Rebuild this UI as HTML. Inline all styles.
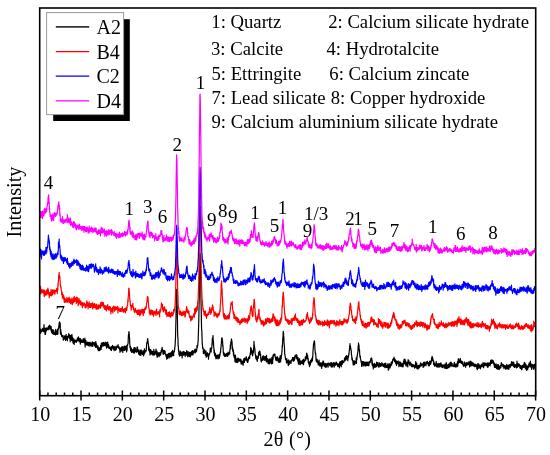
<!DOCTYPE html><html><head><meta charset="utf-8"><style>html,body{margin:0;padding:0;background:#fff;width:550px;height:455px;overflow:hidden}text{font-family:"Liberation Serif",serif;fill:#000}</style></head><body><svg width="550" height="455" viewBox="0 0 550 455" font-family="Liberation Serif" style="position:absolute;left:0;top:0;will-change:transform"><path d="M40.0 332.4L40.2 333.2L40.3 332.2L40.5 329.2L40.7 333.1L40.8 332.1L41.0 330.2L41.2 332.1L41.3 331.6L41.5 331.3L41.7 330.7L41.8 331.5L42.0 329.0L42.1 329.9L42.3 329.1L42.5 330.9L42.6 329.8L42.8 329.1L43.0 328.1L43.1 329.0L43.3 329.4L43.5 328.9L43.6 331.7L43.8 331.3L44.0 324.7L44.1 326.3L44.3 329.5L44.5 329.2L44.6 330.5L44.8 330.6L45.0 334.2L45.1 328.6L45.3 330.0L45.5 334.4L45.6 332.0L45.8 332.0L45.9 329.9L46.1 327.8L46.3 330.9L46.4 330.7L46.6 328.1L46.8 328.9L46.9 329.8L47.1 328.0L47.3 329.3L47.4 329.4L47.6 329.0L47.8 327.9L47.9 329.6L48.1 329.9L48.3 328.8L48.4 326.6L48.6 329.2L48.8 326.9L48.9 329.2L49.1 325.7L49.3 329.1L49.4 327.4L49.6 325.2L49.7 326.8L49.9 327.5L50.1 327.9L50.2 326.0L50.4 326.0L50.6 328.6L50.7 327.8L50.9 329.3L51.1 330.6L51.2 326.7L51.4 330.4L51.6 332.5L51.7 330.2L51.9 329.6L52.1 332.7L52.2 332.1L52.4 333.5L52.6 331.6L52.7 329.8L52.9 332.3L53.1 331.9L53.2 334.1L53.4 333.1L53.5 330.0L53.7 330.8L53.9 334.4L54.0 334.0L54.2 331.8L54.4 332.9L54.5 333.7L54.7 333.8L54.9 334.5L55.0 333.5L55.2 332.9L55.4 332.7L55.5 335.0L55.7 329.4L55.9 332.9L56.0 333.2L56.2 330.6L56.4 333.6L56.5 331.8L56.7 334.3L56.9 332.5L57.0 333.7L57.2 334.5L57.3 332.8L57.5 330.4L57.7 329.0L57.8 334.1L58.0 330.4L58.2 328.8L58.3 329.4L58.5 327.9L58.7 328.7L58.8 326.2L59.0 325.1L59.2 323.0L59.3 324.4L59.5 321.8L59.7 325.0L59.8 327.3L60.0 323.3L60.2 323.0L60.3 329.6L60.5 334.1L60.7 329.3L60.8 330.0L61.0 334.0L61.1 332.3L61.3 333.6L61.5 334.4L61.6 336.3L61.8 335.2L62.0 336.7L62.1 336.2L62.3 335.3L62.5 336.4L62.6 335.6L62.8 337.3L63.0 335.6L63.1 335.7L63.3 340.1L63.5 337.6L63.6 337.6L63.8 338.6L64.0 337.1L64.1 337.4L64.3 338.4L64.5 338.2L64.6 335.8L64.8 339.1L64.9 336.7L65.1 336.0L65.3 336.2L65.4 337.1L65.6 340.4L65.8 335.8L65.9 338.1L66.1 334.3L66.3 337.8L66.4 339.3L66.6 337.4L66.8 336.7L66.9 338.1L67.1 338.8L67.3 338.6L67.4 340.6L67.6 337.6L67.8 336.1L67.9 336.7L68.1 336.7L68.3 336.8L68.4 336.4L68.6 336.7L68.7 333.6L68.9 337.6L69.1 335.3L69.2 334.4L69.4 337.4L69.6 338.6L69.7 337.4L69.9 337.0L70.1 335.4L70.2 341.8L70.4 338.7L70.6 335.6L70.7 336.4L70.9 338.0L71.1 335.5L71.2 338.5L71.4 337.6L71.6 340.5L71.7 340.2L71.9 334.4L72.1 339.0L72.2 336.5L72.4 341.0L72.5 339.7L72.7 340.5L72.9 338.0L73.0 342.9L73.2 343.4L73.4 338.6L73.5 341.2L73.7 339.7L73.9 341.0L74.0 339.2L74.2 344.4L74.4 340.0L74.5 341.3L74.7 342.7L74.9 340.9L75.0 341.6L75.2 341.1L75.4 341.8L75.5 340.1L75.7 341.2L75.9 341.5L76.0 341.1L76.2 341.6L76.3 340.9L76.5 342.3L76.7 340.4L76.8 340.5L77.0 339.5L77.2 339.5L77.3 338.2L77.5 340.9L77.7 338.2L77.8 338.7L78.0 340.5L78.2 340.5L78.3 339.3L78.5 336.8L78.7 340.8L78.8 340.6L79.0 338.1L79.2 341.7L79.3 339.5L79.5 338.9L79.7 341.0L79.8 340.7L80.0 341.4L80.1 338.6L80.3 344.1L80.5 340.3L80.6 338.9L80.8 342.3L81.0 340.8L81.1 341.9L81.3 340.8L81.5 341.3L81.6 341.8L81.8 340.2L82.0 342.4L82.1 340.6L82.3 340.0L82.5 341.5L82.6 342.0L82.8 341.0L83.0 340.0L83.1 342.3L83.3 338.6L83.5 339.7L83.6 341.5L83.8 339.3L83.9 341.5L84.1 341.4L84.3 343.0L84.4 340.2L84.6 340.8L84.8 342.4L84.9 338.2L85.1 347.1L85.3 341.3L85.4 341.4L85.6 344.1L85.8 342.9L85.9 340.4L86.1 344.4L86.3 344.9L86.4 343.1L86.6 343.5L86.8 344.8L86.9 342.7L87.1 344.9L87.3 344.6L87.4 343.2L87.6 342.0L87.7 343.8L87.9 342.7L88.1 345.5L88.2 344.1L88.4 345.0L88.6 343.9L88.7 344.0L88.9 342.3L89.1 344.5L89.2 346.2L89.4 342.9L89.6 342.4L89.7 343.1L89.9 342.6L90.1 342.3L90.2 343.7L90.4 343.0L90.6 345.8L90.7 343.6L90.9 344.2L91.1 345.2L91.2 343.4L91.4 346.1L91.5 343.0L91.7 342.8L91.9 343.6L92.0 344.0L92.2 342.1L92.4 344.3L92.5 341.8L92.7 346.5L92.9 344.3L93.0 343.4L93.2 343.0L93.4 343.8L93.5 344.0L93.7 342.7L93.9 342.8L94.0 343.9L94.2 343.4L94.4 345.7L94.5 346.0L94.7 344.3L94.9 345.1L95.0 342.4L95.2 345.5L95.3 344.6L95.5 345.6L95.7 347.4L95.8 341.6L96.0 345.7L96.2 343.8L96.3 346.6L96.5 343.9L96.7 345.4L96.8 346.8L97.0 347.6L97.2 347.1L97.3 346.1L97.5 346.7L97.7 349.2L97.8 348.1L98.0 345.9L98.2 350.0L98.3 349.6L98.5 350.5L98.7 348.8L98.8 350.7L99.0 347.9L99.1 350.4L99.3 348.7L99.5 350.4L99.6 350.7L99.8 347.8L100.0 348.6L100.1 348.5L100.3 349.9L100.5 348.8L100.6 345.5L100.8 347.7L101.0 347.7L101.1 349.5L101.3 343.4L101.5 344.8L101.6 347.3L101.8 342.9L102.0 342.9L102.1 345.3L102.3 345.9L102.5 343.1L102.6 344.8L102.8 344.1L102.9 346.2L103.1 343.8L103.3 345.3L103.4 342.4L103.6 343.6L103.8 343.8L103.9 345.7L104.1 345.0L104.3 343.1L104.4 345.3L104.6 345.6L104.8 344.4L104.9 344.2L105.1 344.4L105.3 342.2L105.4 345.2L105.6 345.3L105.8 343.7L105.9 346.1L106.1 343.0L106.3 344.2L106.4 344.4L106.6 348.1L106.7 342.7L106.9 346.0L107.1 346.6L107.2 345.8L107.4 347.1L107.6 343.9L107.7 342.1L107.9 346.8L108.1 344.0L108.2 345.5L108.4 344.4L108.6 347.9L108.7 347.8L108.9 345.6L109.1 348.3L109.2 347.3L109.4 347.1L109.6 347.5L109.7 347.3L109.9 348.7L110.1 348.3L110.2 347.4L110.4 349.5L110.5 347.1L110.7 348.4L110.9 348.6L111.0 350.1L111.2 347.1L111.4 350.4L111.5 347.9L111.7 347.3L111.9 346.4L112.0 348.2L112.2 347.4L112.4 345.6L112.5 345.5L112.7 346.3L112.9 346.1L113.0 348.8L113.2 349.3L113.4 348.6L113.5 347.9L113.7 346.7L113.9 347.5L114.0 348.8L114.2 350.7L114.3 349.0L114.5 347.2L114.7 347.7L114.8 346.9L115.0 346.4L115.2 347.2L115.3 347.7L115.5 350.1L115.7 347.3L115.8 349.2L116.0 349.7L116.2 347.1L116.3 349.3L116.5 347.8L116.7 346.1L116.8 347.1L117.0 346.7L117.2 346.3L117.3 346.4L117.5 346.9L117.7 347.4L117.8 345.5L118.0 346.9L118.1 344.7L118.3 347.5L118.5 348.1L118.6 347.6L118.8 347.9L119.0 348.5L119.1 346.8L119.3 347.6L119.5 348.8L119.6 349.7L119.8 349.0L120.0 352.3L120.1 348.5L120.3 350.3L120.5 350.8L120.6 348.9L120.8 348.0L121.0 347.6L121.1 349.6L121.3 351.1L121.5 349.9L121.6 349.8L121.8 349.0L121.9 350.4L122.1 346.4L122.3 349.9L122.4 349.5L122.6 347.4L122.8 352.5L122.9 347.1L123.1 347.4L123.3 347.1L123.4 350.4L123.6 347.3L123.8 349.5L123.9 349.2L124.1 348.6L124.3 346.2L124.4 347.2L124.6 350.5L124.8 346.1L124.9 346.8L125.1 347.7L125.3 349.2L125.4 348.4L125.6 349.1L125.8 346.5L125.9 349.6L126.1 349.1L126.2 345.9L126.4 350.6L126.6 351.8L126.7 347.3L126.9 348.5L127.1 350.3L127.2 345.9L127.4 344.7L127.6 345.1L127.7 345.2L127.9 343.8L128.1 343.5L128.2 340.5L128.4 335.2L128.6 334.6L128.7 333.9L128.9 331.7L129.1 332.3L129.2 333.3L129.4 337.9L129.6 338.1L129.7 343.3L129.9 344.2L130.0 347.6L130.2 347.8L130.4 346.4L130.5 348.9L130.7 351.0L130.9 347.9L131.0 349.0L131.2 349.0L131.4 348.1L131.5 351.8L131.7 352.5L131.9 351.8L132.0 351.0L132.2 350.6L132.4 351.0L132.5 349.6L132.7 351.9L132.9 352.1L133.0 351.9L133.2 349.7L133.4 350.6L133.5 350.2L133.7 353.0L133.8 350.7L134.0 347.7L134.2 351.0L134.3 353.2L134.5 351.5L134.7 351.8L134.8 350.6L135.0 347.7L135.2 347.9L135.3 348.8L135.5 350.4L135.7 351.0L135.8 351.6L136.0 350.1L136.2 352.1L136.3 350.3L136.5 349.8L136.7 352.2L136.8 349.7L137.0 347.2L137.2 349.8L137.3 351.6L137.5 347.1L137.6 351.2L137.8 351.4L138.0 349.9L138.1 349.9L138.3 351.5L138.5 351.4L138.6 354.1L138.8 352.8L139.0 349.9L139.1 351.0L139.3 353.3L139.5 355.0L139.6 352.8L139.8 352.7L140.0 355.0L140.1 352.2L140.3 351.8L140.5 350.2L140.6 351.5L140.8 355.4L141.0 350.1L141.1 352.2L141.3 350.1L141.4 352.4L141.6 353.5L141.8 351.8L141.9 353.2L142.1 353.2L142.3 352.8L142.4 354.6L142.6 353.2L142.8 351.6L142.9 351.0L143.1 350.7L143.3 352.6L143.4 351.4L143.6 355.8L143.8 354.4L143.9 351.4L144.1 351.2L144.3 354.0L144.4 348.8L144.6 350.8L144.8 352.8L144.9 350.0L145.1 350.6L145.2 350.7L145.4 352.0L145.6 351.1L145.7 351.3L145.9 351.2L146.1 350.0L146.2 350.9L146.4 347.4L146.6 345.3L146.7 343.6L146.9 342.3L147.1 342.3L147.2 343.0L147.4 340.5L147.6 338.9L147.7 338.5L147.9 340.3L148.1 342.0L148.2 343.5L148.4 343.9L148.6 346.8L148.7 350.2L148.9 346.6L149.0 350.2L149.2 348.0L149.4 351.8L149.5 350.8L149.7 349.0L149.9 352.4L150.0 355.0L150.2 352.6L150.4 354.2L150.5 352.4L150.7 349.5L150.9 353.4L151.0 352.1L151.2 350.6L151.4 353.9L151.5 353.2L151.7 352.0L151.9 354.1L152.0 351.6L152.2 353.8L152.4 351.5L152.5 353.7L152.7 351.3L152.8 355.1L153.0 353.3L153.2 355.1L153.3 351.9L153.5 352.4L153.7 354.4L153.8 349.3L154.0 351.8L154.2 354.9L154.3 354.1L154.5 354.9L154.7 353.2L154.8 354.5L155.0 352.7L155.2 351.9L155.3 351.5L155.5 353.2L155.7 353.3L155.8 353.3L156.0 349.1L156.2 351.4L156.3 353.6L156.5 354.8L156.6 353.6L156.8 353.1L157.0 351.1L157.1 357.3L157.3 352.8L157.5 356.8L157.6 356.6L157.8 354.7L158.0 353.5L158.1 354.5L158.3 352.6L158.5 354.6L158.6 354.2L158.8 354.9L159.0 355.5L159.1 356.6L159.3 353.5L159.5 355.5L159.6 352.8L159.8 352.7L160.0 353.0L160.1 352.4L160.3 355.2L160.4 354.9L160.6 355.3L160.8 353.2L160.9 353.3L161.1 351.6L161.3 350.3L161.4 352.1L161.6 351.2L161.8 348.7L161.9 350.8L162.1 347.3L162.3 349.7L162.4 349.5L162.6 350.2L162.8 350.0L162.9 353.4L163.1 353.2L163.3 354.4L163.4 352.9L163.6 350.8L163.8 352.0L163.9 350.5L164.1 352.5L164.2 353.3L164.4 351.9L164.6 350.7L164.7 351.4L164.9 352.8L165.1 351.0L165.2 353.9L165.4 354.6L165.6 354.0L165.7 354.6L165.9 355.8L166.1 354.7L166.2 354.9L166.4 357.4L166.6 356.8L166.7 359.1L166.9 355.4L167.1 354.3L167.2 358.3L167.4 358.4L167.6 356.0L167.7 355.0L167.9 357.0L168.0 354.5L168.2 356.4L168.4 353.6L168.5 356.3L168.7 353.4L168.9 355.9L169.0 358.2L169.2 355.5L169.4 356.8L169.5 354.6L169.7 354.1L169.9 353.0L170.0 356.5L170.2 354.8L170.4 357.0L170.5 352.9L170.7 354.2L170.9 354.5L171.0 356.4L171.2 356.9L171.4 353.3L171.5 352.6L171.7 351.7L171.8 356.1L172.0 354.0L172.2 353.2L172.3 354.1L172.5 350.4L172.7 351.6L172.8 355.3L173.0 354.4L173.2 353.9L173.3 352.1L173.5 354.2L173.7 355.6L173.8 351.0L174.0 352.3L174.2 351.2L174.3 351.7L174.5 350.5L174.7 349.3L174.8 347.0L175.0 346.6L175.2 343.6L175.3 341.3L175.5 337.4L175.6 333.3L175.8 325.1L176.0 317.6L176.1 310.7L176.3 299.8L176.5 292.0L176.6 289.4L176.8 289.5L177.0 294.9L177.1 303.8L177.3 311.2L177.5 322.6L177.6 331.7L177.8 337.0L178.0 338.9L178.1 345.3L178.3 346.4L178.5 349.4L178.6 351.4L178.8 350.5L179.0 354.8L179.1 353.3L179.3 354.9L179.4 354.9L179.6 356.1L179.8 355.9L179.9 352.1L180.1 354.2L180.3 351.0L180.4 353.3L180.6 354.8L180.8 355.0L180.9 355.4L181.1 352.8L181.3 353.7L181.4 353.2L181.6 354.7L181.8 355.1L181.9 352.2L182.1 358.0L182.3 352.5L182.4 352.0L182.6 353.3L182.8 353.5L182.9 353.3L183.1 351.6L183.2 354.8L183.4 352.9L183.6 355.2L183.7 355.1L183.9 351.5L184.1 352.1L184.2 352.3L184.4 354.3L184.6 354.2L184.7 354.6L184.9 353.2L185.1 355.0L185.2 356.4L185.4 352.4L185.6 353.8L185.7 354.2L185.9 353.3L186.1 352.8L186.2 355.2L186.4 354.0L186.6 353.1L186.7 350.7L186.9 355.0L187.0 352.7L187.2 351.7L187.4 352.5L187.5 352.7L187.7 356.8L187.9 354.4L188.0 354.4L188.2 351.5L188.4 355.8L188.5 353.4L188.7 353.3L188.9 355.9L189.0 353.8L189.2 356.2L189.4 356.6L189.5 352.4L189.7 354.7L189.9 352.6L190.0 354.6L190.2 355.9L190.4 352.5L190.5 356.8L190.7 353.7L190.8 352.3L191.0 353.6L191.2 354.8L191.3 351.6L191.5 353.4L191.7 351.3L191.8 354.8L192.0 353.1L192.2 352.2L192.3 354.1L192.5 350.7L192.7 351.9L192.8 354.9L193.0 352.1L193.2 354.1L193.3 352.4L193.5 351.1L193.7 351.7L193.8 352.2L194.0 351.5L194.2 350.9L194.3 350.9L194.5 349.9L194.6 352.2L194.8 352.5L195.0 352.9L195.1 349.2L195.3 352.8L195.5 351.5L195.6 349.3L195.8 351.3L196.0 352.0L196.1 351.3L196.3 351.3L196.5 351.3L196.6 350.8L196.8 349.1L197.0 345.7L197.1 346.9L197.3 347.8L197.5 345.7L197.6 346.2L197.8 344.8L198.0 341.9L198.1 342.0L198.3 334.8L198.4 333.5L198.6 326.5L198.8 319.8L198.9 314.2L199.1 303.7L199.3 295.9L199.4 282.3L199.6 273.2L199.8 262.4L199.9 256.4L200.1 253.7L200.3 255.0L200.4 264.1L200.6 270.9L200.8 281.9L200.9 295.2L201.1 305.3L201.3 313.7L201.4 320.8L201.6 329.8L201.8 330.1L201.9 334.9L202.1 337.9L202.2 343.2L202.4 344.5L202.6 347.3L202.7 348.5L202.9 347.9L203.1 347.9L203.2 348.5L203.4 353.6L203.6 352.4L203.7 352.3L203.9 351.4L204.1 352.0L204.2 352.1L204.4 352.4L204.6 349.7L204.7 353.2L204.9 353.0L205.1 354.1L205.2 354.2L205.4 355.2L205.6 354.1L205.7 355.4L205.9 350.8L206.0 353.0L206.2 357.1L206.4 353.1L206.5 354.5L206.7 356.0L206.9 353.9L207.0 356.3L207.2 353.3L207.4 352.7L207.5 353.6L207.7 353.3L207.9 355.6L208.0 355.2L208.2 356.2L208.4 354.2L208.5 359.2L208.7 355.4L208.9 355.3L209.0 355.7L209.2 354.3L209.4 353.3L209.5 353.7L209.7 354.0L209.8 352.8L210.0 352.2L210.2 349.1L210.3 348.2L210.5 351.8L210.7 348.8L210.8 350.1L211.0 350.7L211.2 351.9L211.3 347.9L211.5 348.9L211.7 348.3L211.8 347.5L212.0 343.2L212.2 344.7L212.3 338.5L212.5 340.7L212.7 339.0L212.8 337.9L213.0 335.6L213.2 340.3L213.3 340.3L213.5 342.4L213.6 345.3L213.8 347.6L214.0 350.8L214.1 353.1L214.3 349.9L214.5 352.9L214.6 355.5L214.8 354.9L215.0 355.7L215.1 353.1L215.3 356.8L215.5 353.5L215.6 356.1L215.8 357.9L216.0 358.8L216.1 357.0L216.3 357.6L216.5 355.6L216.6 355.9L216.8 358.3L217.0 356.7L217.1 356.6L217.3 354.8L217.4 357.0L217.6 357.7L217.8 355.7L217.9 356.0L218.1 358.9L218.3 356.9L218.4 356.1L218.6 354.8L218.8 355.4L218.9 355.8L219.1 357.9L219.3 355.0L219.4 358.1L219.6 354.0L219.8 354.5L219.9 355.8L220.1 353.7L220.3 352.2L220.4 352.4L220.6 352.1L220.8 347.7L220.9 348.2L221.1 346.6L221.2 344.1L221.4 343.6L221.6 339.6L221.7 338.2L221.9 337.8L222.1 338.7L222.2 338.2L222.4 342.3L222.6 340.9L222.7 346.1L222.9 345.1L223.1 348.0L223.2 350.3L223.4 354.0L223.6 353.4L223.7 352.4L223.9 355.5L224.1 353.8L224.2 353.4L224.4 355.4L224.6 355.1L224.7 356.4L224.9 354.4L225.0 355.7L225.2 356.1L225.4 355.6L225.5 355.2L225.7 354.2L225.9 356.4L226.0 355.3L226.2 355.7L226.4 354.4L226.5 354.9L226.7 353.3L226.9 354.8L227.0 355.7L227.2 354.7L227.4 355.7L227.5 354.9L227.7 356.3L227.9 354.1L228.0 352.0L228.2 354.8L228.4 353.9L228.5 352.7L228.7 354.8L228.8 354.1L229.0 354.1L229.2 352.6L229.3 352.9L229.5 352.5L229.7 354.0L229.8 349.7L230.0 349.8L230.2 349.3L230.3 345.3L230.5 344.3L230.7 348.5L230.8 341.8L231.0 344.0L231.2 341.2L231.3 340.8L231.5 338.9L231.7 340.6L231.8 343.5L232.0 341.3L232.2 345.2L232.3 346.0L232.5 349.6L232.6 347.3L232.8 350.9L233.0 351.5L233.1 350.9L233.3 349.9L233.5 355.2L233.6 351.9L233.8 353.9L234.0 356.4L234.1 357.3L234.3 355.1L234.5 356.7L234.6 356.9L234.8 359.3L235.0 361.6L235.1 355.8L235.3 360.0L235.5 355.0L235.6 359.3L235.8 357.9L236.0 362.5L236.1 360.1L236.3 358.9L236.4 359.4L236.6 359.4L236.8 360.5L236.9 360.1L237.1 361.3L237.3 362.6L237.4 361.4L237.6 358.7L237.8 358.1L237.9 359.4L238.1 361.9L238.3 359.9L238.4 359.4L238.6 360.5L238.8 358.3L238.9 358.7L239.1 361.0L239.3 359.9L239.4 359.7L239.6 360.8L239.8 359.6L239.9 359.5L240.1 359.9L240.2 361.5L240.4 360.8L240.6 359.2L240.7 360.5L240.9 362.0L241.1 363.9L241.2 359.8L241.4 362.0L241.6 361.3L241.7 362.9L241.9 362.5L242.1 364.0L242.2 362.8L242.4 361.3L242.6 361.3L242.7 362.6L242.9 362.6L243.1 365.3L243.2 364.1L243.4 360.0L243.6 361.9L243.7 359.3L243.9 358.7L244.0 361.8L244.2 361.3L244.4 358.8L244.5 362.4L244.7 358.5L244.9 358.1L245.0 360.5L245.2 359.8L245.4 359.2L245.5 359.3L245.7 359.6L245.9 359.1L246.0 359.1L246.2 356.7L246.4 357.5L246.5 360.3L246.7 358.5L246.9 360.3L247.0 361.3L247.2 359.1L247.4 360.0L247.5 362.5L247.7 360.6L247.8 362.2L248.0 361.7L248.2 360.4L248.3 359.0L248.5 357.7L248.7 357.1L248.8 359.1L249.0 358.7L249.2 357.6L249.3 358.7L249.5 356.3L249.7 358.2L249.8 356.0L250.0 355.0L250.2 353.9L250.3 352.5L250.5 354.6L250.7 347.4L250.8 348.8L251.0 349.7L251.2 349.2L251.3 348.6L251.5 352.6L251.6 349.9L251.8 350.7L252.0 354.2L252.1 352.0L252.3 351.1L252.5 355.8L252.6 355.6L252.8 355.2L253.0 352.9L253.1 353.0L253.3 350.1L253.5 352.3L253.6 349.1L253.8 347.0L254.0 341.4L254.1 344.2L254.3 345.3L254.5 346.3L254.6 347.7L254.8 348.7L255.0 350.2L255.1 353.3L255.3 354.3L255.4 355.2L255.6 355.3L255.8 358.7L255.9 355.1L256.1 357.1L256.3 356.6L256.4 359.1L256.6 359.9L256.8 359.8L256.9 359.3L257.1 356.4L257.3 361.3L257.4 359.2L257.6 358.3L257.8 358.4L257.9 357.7L258.1 358.5L258.3 358.0L258.4 356.4L258.6 352.5L258.8 355.1L258.9 354.6L259.1 353.4L259.2 351.4L259.4 351.6L259.6 352.5L259.7 351.2L259.9 355.1L260.1 351.7L260.2 354.0L260.4 355.6L260.6 354.4L260.7 357.1L260.9 360.8L261.1 361.1L261.2 359.7L261.4 362.0L261.6 359.9L261.7 358.9L261.9 359.8L262.1 359.2L262.2 360.2L262.4 356.9L262.6 360.3L262.7 358.0L262.9 359.7L263.0 356.1L263.2 357.5L263.4 358.0L263.5 359.0L263.7 355.9L263.9 359.8L264.0 358.0L264.2 356.5L264.4 358.9L264.5 357.3L264.7 358.8L264.9 360.4L265.0 358.3L265.2 356.5L265.4 356.8L265.5 358.3L265.7 358.1L265.9 356.7L266.0 357.1L266.2 359.3L266.4 361.9L266.5 355.3L266.7 360.3L266.8 359.3L267.0 361.0L267.2 361.5L267.3 360.7L267.5 359.4L267.7 359.2L267.8 358.7L268.0 363.3L268.2 361.4L268.3 361.1L268.5 361.5L268.7 360.1L268.8 362.4L269.0 363.8L269.2 363.5L269.3 359.7L269.5 363.7L269.7 360.6L269.8 358.9L270.0 359.7L270.2 360.0L270.3 361.2L270.5 359.6L270.6 358.9L270.8 360.5L271.0 363.4L271.1 359.6L271.3 361.2L271.5 360.5L271.6 364.0L271.8 357.4L272.0 361.5L272.1 357.9L272.3 358.7L272.5 359.0L272.6 363.3L272.8 357.3L273.0 355.2L273.1 359.1L273.3 355.4L273.5 355.6L273.6 355.2L273.8 354.8L274.0 354.0L274.1 354.4L274.3 354.6L274.4 355.5L274.6 354.0L274.8 354.1L274.9 354.1L275.1 357.0L275.3 356.5L275.4 357.8L275.6 358.2L275.8 360.2L275.9 358.4L276.1 359.5L276.3 357.0L276.4 357.5L276.6 358.8L276.8 357.8L276.9 360.7L277.1 358.0L277.3 360.2L277.4 356.8L277.6 358.8L277.8 360.0L277.9 360.3L278.1 358.2L278.2 360.9L278.4 362.1L278.6 361.7L278.7 359.8L278.9 359.9L279.1 359.0L279.2 361.4L279.4 362.4L279.6 359.5L279.7 357.7L279.9 360.2L280.1 360.7L280.2 355.7L280.4 359.5L280.6 362.0L280.7 359.8L280.9 359.0L281.1 358.3L281.2 358.7L281.4 355.1L281.6 354.3L281.7 354.8L281.9 351.8L282.0 351.2L282.2 345.9L282.4 347.0L282.5 344.2L282.7 340.0L282.9 337.1L283.0 336.7L283.2 331.4L283.4 331.5L283.5 332.6L283.7 335.8L283.9 338.0L284.0 342.5L284.2 344.6L284.4 346.2L284.5 348.4L284.7 354.3L284.9 354.2L285.0 355.3L285.2 356.8L285.4 357.5L285.5 359.4L285.7 359.8L285.8 358.7L286.0 358.8L286.2 358.8L286.3 358.9L286.5 362.9L286.7 359.9L286.8 358.5L287.0 360.3L287.2 360.5L287.3 362.2L287.5 360.5L287.7 362.5L287.8 362.3L288.0 363.5L288.2 364.7L288.3 365.6L288.5 363.5L288.7 359.9L288.8 361.0L289.0 361.8L289.2 364.4L289.3 362.4L289.5 363.1L289.7 361.2L289.8 362.3L290.0 362.5L290.1 360.8L290.3 362.5L290.5 362.9L290.6 361.2L290.8 362.7L291.0 363.5L291.1 361.2L291.3 361.0L291.5 360.4L291.6 359.8L291.8 360.7L292.0 359.7L292.1 359.7L292.3 358.9L292.5 357.6L292.6 358.3L292.8 359.9L293.0 357.6L293.1 358.3L293.3 361.4L293.5 360.5L293.6 357.8L293.8 359.5L293.9 357.6L294.1 360.6L294.3 357.3L294.4 358.0L294.6 359.6L294.8 356.2L294.9 358.8L295.1 355.6L295.3 356.8L295.4 355.8L295.6 355.9L295.8 356.1L295.9 355.8L296.1 354.5L296.3 357.3L296.4 357.3L296.6 358.3L296.8 358.7L296.9 355.1L297.1 359.1L297.3 359.5L297.4 357.3L297.6 359.8L297.7 360.8L297.9 358.4L298.1 357.6L298.2 359.4L298.4 364.2L298.6 361.0L298.7 359.3L298.9 361.0L299.1 360.2L299.2 361.3L299.4 362.2L299.6 358.7L299.7 362.9L299.9 364.6L300.1 362.4L300.2 362.2L300.4 364.3L300.6 361.0L300.7 361.1L300.9 360.9L301.1 362.6L301.2 363.3L301.4 362.5L301.5 363.4L301.7 363.6L301.9 363.1L302.0 361.1L302.2 361.7L302.4 363.7L302.5 360.3L302.7 361.3L302.9 360.9L303.0 361.1L303.2 359.8L303.4 359.3L303.5 364.7L303.7 362.3L303.9 360.0L304.0 360.8L304.2 361.8L304.4 360.4L304.5 361.7L304.7 359.9L304.9 360.2L305.0 360.5L305.2 359.8L305.3 356.8L305.5 360.1L305.7 360.1L305.8 360.0L306.0 357.5L306.2 358.8L306.3 358.0L306.5 354.5L306.7 353.1L306.8 356.3L307.0 353.8L307.2 356.5L307.3 358.3L307.5 355.2L307.7 355.9L307.8 357.9L308.0 359.9L308.2 358.4L308.3 362.6L308.5 363.0L308.7 363.1L308.8 362.0L309.0 364.4L309.1 364.6L309.3 361.9L309.5 366.6L309.6 363.3L309.8 364.2L310.0 362.9L310.1 364.0L310.3 364.9L310.5 361.9L310.6 360.4L310.8 361.8L311.0 360.2L311.1 360.6L311.3 361.1L311.5 360.7L311.6 362.2L311.8 358.5L312.0 359.8L312.1 358.0L312.3 360.0L312.5 360.8L312.6 356.6L312.8 357.4L312.9 352.8L313.1 349.6L313.3 348.1L313.4 345.5L313.6 344.1L313.8 342.9L313.9 343.1L314.1 341.5L314.3 341.1L314.4 340.9L314.6 342.3L314.8 345.7L314.9 348.2L315.1 350.7L315.3 352.9L315.4 354.0L315.6 352.9L315.8 355.3L315.9 356.6L316.1 360.9L316.3 358.5L316.4 360.5L316.6 361.9L316.7 360.6L316.9 359.8L317.1 360.1L317.2 359.3L317.4 361.3L317.6 362.7L317.7 362.1L317.9 362.6L318.1 362.7L318.2 364.8L318.4 361.4L318.6 362.8L318.7 363.9L318.9 364.9L319.1 360.1L319.2 363.1L319.4 363.9L319.6 363.0L319.7 365.9L319.9 365.2L320.1 364.6L320.2 363.0L320.4 363.5L320.5 364.1L320.7 366.1L320.9 363.8L321.0 362.5L321.2 363.3L321.4 364.3L321.5 367.3L321.7 368.3L321.9 364.0L322.0 365.8L322.2 366.3L322.4 365.9L322.5 363.8L322.7 362.0L322.9 363.1L323.0 361.1L323.2 364.0L323.4 364.8L323.5 361.1L323.7 363.8L323.9 364.3L324.0 365.8L324.2 366.1L324.3 365.4L324.5 363.5L324.7 364.1L324.8 366.4L325.0 364.0L325.2 364.9L325.3 367.3L325.5 365.4L325.7 363.3L325.8 364.9L326.0 366.2L326.2 365.0L326.3 366.9L326.5 367.0L326.7 364.3L326.8 364.4L327.0 364.9L327.2 363.3L327.3 365.4L327.5 364.6L327.7 365.9L327.8 363.9L328.0 363.4L328.1 367.2L328.3 363.3L328.5 363.7L328.6 363.5L328.8 364.1L329.0 363.2L329.1 364.4L329.3 363.5L329.5 364.0L329.6 365.1L329.8 365.7L330.0 365.4L330.1 363.8L330.3 365.4L330.5 364.7L330.6 364.8L330.8 362.5L331.0 365.9L331.1 364.7L331.3 367.2L331.5 365.7L331.6 363.1L331.8 362.7L331.9 366.1L332.1 363.1L332.3 365.2L332.4 363.7L332.6 366.9L332.8 364.0L332.9 365.9L333.1 365.6L333.3 363.0L333.4 363.1L333.6 365.6L333.8 363.5L333.9 362.3L334.1 365.2L334.3 367.1L334.4 363.5L334.6 365.5L334.8 363.4L334.9 365.5L335.1 363.3L335.3 365.5L335.4 364.4L335.6 363.4L335.7 364.1L335.9 363.0L336.1 362.2L336.2 362.3L336.4 363.8L336.6 362.4L336.7 364.6L336.9 364.8L337.1 364.8L337.2 363.5L337.4 364.4L337.6 364.4L337.7 366.4L337.9 363.6L338.1 364.3L338.2 364.6L338.4 364.8L338.6 364.0L338.7 364.2L338.9 366.5L339.1 364.1L339.2 366.3L339.4 367.8L339.5 366.6L339.7 362.1L339.9 365.6L340.0 365.0L340.2 365.0L340.4 361.7L340.5 364.9L340.7 362.1L340.9 365.3L341.0 364.9L341.2 366.8L341.4 362.5L341.5 360.8L341.7 364.3L341.9 363.9L342.0 362.1L342.2 364.4L342.4 363.4L342.5 360.6L342.7 361.8L342.9 361.7L343.0 362.1L343.2 362.4L343.3 361.1L343.5 361.7L343.7 362.7L343.8 361.6L344.0 361.2L344.2 361.0L344.3 361.0L344.5 358.2L344.7 360.9L344.8 358.9L345.0 360.1L345.2 357.5L345.3 360.4L345.5 359.1L345.7 356.4L345.8 358.2L346.0 356.4L346.2 359.7L346.3 357.6L346.5 355.7L346.7 357.1L346.8 356.8L347.0 358.6L347.1 357.7L347.3 358.1L347.5 356.0L347.6 358.8L347.8 360.7L348.0 358.6L348.1 357.4L348.3 357.4L348.5 355.4L348.6 356.3L348.8 353.6L349.0 354.1L349.1 352.3L349.3 350.2L349.5 350.7L349.6 346.2L349.8 346.7L350.0 343.7L350.1 347.3L350.3 347.2L350.5 346.0L350.6 348.4L350.8 348.0L350.9 349.6L351.1 350.1L351.3 351.2L351.4 354.4L351.6 355.0L351.8 356.6L351.9 359.5L352.1 359.3L352.3 358.1L352.4 360.7L352.6 360.5L352.8 361.5L352.9 360.6L353.1 364.0L353.3 365.1L353.4 360.9L353.6 363.4L353.8 363.3L353.9 361.0L354.1 362.6L354.3 364.4L354.4 363.6L354.6 364.7L354.7 360.8L354.9 361.5L355.1 362.9L355.2 363.1L355.4 362.6L355.6 362.0L355.7 361.8L355.9 361.4L356.1 362.6L356.2 357.8L356.4 363.4L356.6 359.8L356.7 357.7L356.9 359.5L357.1 355.6L357.2 356.8L357.4 354.2L357.6 353.9L357.7 352.5L357.9 351.4L358.1 347.2L358.2 346.1L358.4 345.4L358.5 342.9L358.7 345.8L358.9 345.8L359.0 344.9L359.2 350.0L359.4 351.8L359.5 349.7L359.7 354.0L359.9 356.5L360.0 357.3L360.2 355.9L360.4 356.4L360.5 359.1L360.7 359.3L360.9 360.6L361.0 361.0L361.2 362.3L361.4 361.1L361.5 361.9L361.7 366.5L361.9 362.4L362.0 363.7L362.2 363.2L362.3 363.2L362.5 361.6L362.7 363.7L362.8 362.9L363.0 364.1L363.2 365.9L363.3 363.3L363.5 364.1L363.7 361.6L363.8 363.2L364.0 365.2L364.2 363.0L364.3 362.2L364.5 363.4L364.7 362.9L364.8 362.9L365.0 362.8L365.2 366.1L365.3 362.2L365.5 362.9L365.7 362.8L365.8 365.4L366.0 363.3L366.1 365.6L366.3 364.1L366.5 363.9L366.6 362.0L366.8 365.7L367.0 364.8L367.1 364.6L367.3 363.9L367.5 363.5L367.6 362.2L367.8 365.3L368.0 364.3L368.1 363.3L368.3 362.9L368.5 363.8L368.6 363.4L368.8 365.8L369.0 364.4L369.1 362.4L369.3 361.5L369.5 362.6L369.6 361.5L369.8 362.6L369.9 362.8L370.1 362.7L370.3 362.0L370.4 360.6L370.6 361.2L370.8 358.7L370.9 359.4L371.1 360.5L371.3 359.8L371.4 357.9L371.6 358.6L371.8 358.6L371.9 364.1L372.1 360.0L372.3 362.6L372.4 365.8L372.6 365.2L372.8 365.8L372.9 363.6L373.1 365.5L373.3 368.9L373.4 364.7L373.6 365.5L373.7 364.6L373.9 365.1L374.1 365.7L374.2 367.2L374.4 364.0L374.6 363.3L374.7 365.4L374.9 365.7L375.1 367.4L375.2 366.4L375.4 364.5L375.6 366.1L375.7 366.8L375.9 365.6L376.1 364.6L376.2 365.9L376.4 364.4L376.6 362.2L376.7 366.6L376.9 362.9L377.1 364.2L377.2 364.2L377.4 364.1L377.5 364.2L377.7 362.6L377.9 365.4L378.0 364.7L378.2 364.8L378.4 366.3L378.5 366.3L378.7 366.7L378.9 367.4L379.0 365.5L379.2 362.7L379.4 365.2L379.5 364.9L379.7 365.0L379.9 364.1L380.0 363.7L380.2 366.1L380.4 366.4L380.5 363.5L380.7 365.9L380.9 364.9L381.0 364.6L381.2 366.2L381.3 365.2L381.5 364.5L381.7 365.3L381.8 362.5L382.0 364.4L382.2 364.6L382.3 363.3L382.5 365.5L382.7 365.6L382.8 364.3L383.0 364.9L383.2 366.1L383.3 366.6L383.5 364.0L383.7 365.5L383.8 366.4L384.0 364.9L384.2 363.8L384.3 363.8L384.5 364.4L384.7 363.4L384.8 367.6L385.0 364.0L385.1 365.3L385.3 365.0L385.5 365.7L385.6 364.3L385.8 363.1L386.0 367.3L386.1 365.0L386.3 365.4L386.5 365.7L386.6 367.4L386.8 366.8L387.0 367.6L387.1 367.2L387.3 366.4L387.5 366.7L387.6 365.4L387.8 363.8L388.0 366.3L388.1 365.1L388.3 370.2L388.5 368.7L388.6 368.1L388.8 365.6L388.9 369.1L389.1 363.7L389.3 364.3L389.4 364.7L389.6 364.3L389.8 365.7L389.9 365.7L390.1 368.0L390.3 366.6L390.4 366.9L390.6 365.7L390.8 364.8L390.9 363.9L391.1 362.6L391.3 363.4L391.4 363.9L391.6 365.2L391.8 361.5L391.9 361.6L392.1 363.5L392.3 361.3L392.4 362.8L392.6 361.3L392.7 360.3L392.9 359.0L393.1 360.3L393.2 359.0L393.4 358.8L393.6 358.5L393.7 359.6L393.9 359.5L394.1 357.0L394.2 359.3L394.4 360.3L394.6 361.4L394.7 361.3L394.9 360.8L395.1 359.2L395.2 360.0L395.4 362.6L395.6 360.5L395.7 363.2L395.9 363.7L396.1 360.7L396.2 362.9L396.4 362.3L396.5 365.5L396.7 363.9L396.9 362.1L397.0 363.5L397.2 361.7L397.4 362.9L397.5 363.5L397.7 363.4L397.9 363.7L398.0 362.1L398.2 360.8L398.4 362.9L398.5 362.2L398.7 362.6L398.9 366.6L399.0 365.3L399.2 363.5L399.4 361.8L399.5 362.1L399.7 364.5L399.9 365.6L400.0 363.8L400.2 364.5L400.3 364.9L400.5 366.1L400.7 362.2L400.8 365.2L401.0 365.7L401.2 366.7L401.3 366.0L401.5 364.1L401.7 364.9L401.8 363.6L402.0 366.1L402.2 366.0L402.3 366.3L402.5 364.1L402.7 363.6L402.8 367.0L403.0 364.7L403.2 366.5L403.3 364.2L403.5 361.0L403.7 363.8L403.8 364.1L404.0 361.5L404.1 359.4L404.3 363.1L404.5 362.1L404.6 362.9L404.8 359.0L405.0 363.7L405.1 359.4L405.3 362.2L405.5 364.8L405.6 361.1L405.8 361.2L406.0 363.2L406.1 366.1L406.3 366.0L406.5 362.8L406.6 365.0L406.8 364.3L407.0 363.8L407.1 363.9L407.3 362.3L407.5 364.3L407.6 364.7L407.8 366.9L407.9 364.4L408.1 359.6L408.3 361.4L408.4 363.5L408.6 363.2L408.8 360.5L408.9 362.9L409.1 362.6L409.3 363.1L409.4 363.1L409.6 364.6L409.8 365.4L409.9 364.4L410.1 362.0L410.3 362.5L410.4 363.0L410.6 364.0L410.8 363.6L410.9 363.9L411.1 363.3L411.3 366.2L411.4 366.2L411.6 366.6L411.7 365.3L411.9 366.2L412.1 364.4L412.2 364.4L412.4 365.2L412.6 366.8L412.7 365.8L412.9 364.5L413.1 366.2L413.2 366.6L413.4 366.2L413.6 365.0L413.7 366.0L413.9 365.2L414.1 365.3L414.2 365.5L414.4 366.6L414.6 368.1L414.7 367.6L414.9 366.3L415.1 364.8L415.2 364.9L415.4 365.0L415.5 367.1L415.7 361.6L415.9 366.0L416.0 362.9L416.2 365.8L416.4 367.8L416.5 364.8L416.7 363.1L416.9 368.2L417.0 368.6L417.2 367.3L417.4 368.4L417.5 365.6L417.7 368.4L417.9 369.1L418.0 367.6L418.2 367.1L418.4 368.4L418.5 368.1L418.7 365.4L418.9 368.2L419.0 367.3L419.2 366.3L419.3 367.8L419.5 367.2L419.7 366.8L419.8 365.0L420.0 366.7L420.2 363.9L420.3 365.2L420.5 363.0L420.7 362.9L420.8 365.8L421.0 365.1L421.2 365.3L421.3 365.9L421.5 365.6L421.7 363.8L421.8 365.1L422.0 364.9L422.2 364.2L422.3 364.7L422.5 364.3L422.7 363.9L422.8 364.3L423.0 365.0L423.1 367.5L423.3 363.4L423.5 365.2L423.6 362.4L423.8 366.6L424.0 363.8L424.1 364.5L424.3 366.0L424.5 365.6L424.6 362.1L424.8 364.9L425.0 363.8L425.1 365.0L425.3 364.4L425.5 365.2L425.6 364.5L425.8 363.9L426.0 365.7L426.1 361.9L426.3 363.4L426.5 362.6L426.6 363.7L426.8 363.2L426.9 363.6L427.1 363.0L427.3 363.0L427.4 361.3L427.6 363.5L427.8 363.9L427.9 362.6L428.1 362.5L428.3 362.5L428.4 365.8L428.6 363.7L428.8 364.0L428.9 363.1L429.1 362.8L429.3 362.4L429.4 365.8L429.6 361.2L429.8 364.0L429.9 363.6L430.1 363.2L430.3 361.2L430.4 361.5L430.6 364.3L430.7 361.6L430.9 363.3L431.1 362.5L431.2 361.7L431.4 361.3L431.6 357.8L431.7 358.2L431.9 359.3L432.1 356.3L432.2 360.3L432.4 357.4L432.6 358.5L432.7 357.8L432.9 360.5L433.1 359.7L433.2 361.2L433.4 360.6L433.6 364.5L433.7 361.0L433.9 364.4L434.1 364.4L434.2 365.0L434.4 363.1L434.5 366.2L434.7 366.2L434.9 365.1L435.0 365.3L435.2 364.7L435.4 365.8L435.5 363.8L435.7 365.7L435.9 365.5L436.0 363.0L436.2 361.4L436.4 364.9L436.5 365.0L436.7 367.0L436.9 365.4L437.0 364.8L437.2 363.6L437.4 365.5L437.5 364.9L437.7 364.2L437.9 365.6L438.0 367.3L438.2 365.9L438.3 364.3L438.5 366.2L438.7 364.2L438.8 363.4L439.0 366.3L439.2 364.7L439.3 367.0L439.5 365.8L439.7 364.1L439.8 365.4L440.0 366.9L440.2 364.7L440.3 363.4L440.5 363.9L440.7 363.6L440.8 363.1L441.0 362.9L441.2 365.3L441.3 366.3L441.5 364.3L441.7 365.9L441.8 366.2L442.0 367.4L442.1 364.9L442.3 364.8L442.5 366.0L442.6 365.7L442.8 366.1L443.0 367.6L443.1 365.3L443.3 366.3L443.5 364.8L443.6 366.0L443.8 365.4L444.0 365.3L444.1 366.2L444.3 366.0L444.5 367.2L444.6 367.9L444.8 364.8L445.0 368.3L445.1 363.9L445.3 367.4L445.5 368.1L445.6 366.3L445.8 366.9L445.9 366.1L446.1 368.5L446.3 362.7L446.4 365.8L446.6 364.4L446.8 367.2L446.9 368.7L447.1 368.4L447.3 367.6L447.4 366.8L447.6 365.3L447.8 367.9L447.9 367.0L448.1 364.8L448.3 364.0L448.4 364.8L448.6 367.1L448.8 367.2L448.9 367.6L449.1 364.1L449.3 364.6L449.4 366.9L449.6 365.2L449.7 365.8L449.9 362.8L450.1 364.1L450.2 364.5L450.4 364.0L450.6 363.8L450.7 362.1L450.9 366.7L451.1 364.6L451.2 362.4L451.4 366.0L451.6 364.6L451.7 365.6L451.9 364.4L452.1 363.6L452.2 363.7L452.4 365.3L452.6 366.0L452.7 365.6L452.9 365.8L453.1 366.6L453.2 365.3L453.4 366.2L453.6 366.3L453.7 365.1L453.9 364.6L454.0 364.0L454.2 362.9L454.4 362.4L454.5 366.4L454.7 364.5L454.9 363.8L455.0 366.8L455.2 365.9L455.4 364.7L455.5 366.0L455.7 364.3L455.9 365.1L456.0 367.2L456.2 366.1L456.4 364.2L456.5 365.5L456.7 366.1L456.9 364.1L457.0 363.5L457.2 366.6L457.4 363.3L457.5 361.6L457.7 363.3L457.8 366.0L458.0 363.3L458.2 363.4L458.3 358.7L458.5 360.6L458.7 362.7L458.8 360.2L459.0 362.3L459.2 361.0L459.3 360.8L459.5 362.5L459.7 359.5L459.8 359.6L460.0 360.5L460.2 360.8L460.3 358.3L460.5 362.5L460.7 361.3L460.8 361.0L461.0 362.3L461.2 361.1L461.3 363.5L461.5 362.1L461.6 363.2L461.8 361.2L462.0 362.2L462.1 363.3L462.3 361.6L462.5 362.2L462.6 363.2L462.8 365.0L463.0 364.7L463.1 365.0L463.3 364.3L463.5 365.3L463.6 366.3L463.8 364.5L464.0 365.0L464.1 365.3L464.3 361.8L464.5 364.5L464.6 365.3L464.8 365.8L465.0 364.3L465.1 366.1L465.3 363.8L465.4 364.5L465.6 367.1L465.8 362.8L465.9 364.5L466.1 364.4L466.3 364.4L466.4 363.7L466.6 365.3L466.8 362.8L466.9 362.4L467.1 364.9L467.3 362.5L467.4 364.7L467.6 364.2L467.8 363.2L467.9 363.6L468.1 364.0L468.3 364.7L468.4 363.2L468.6 363.8L468.8 362.0L468.9 363.6L469.1 361.3L469.2 364.0L469.4 363.4L469.6 367.0L469.7 365.9L469.9 363.9L470.1 365.5L470.2 364.7L470.4 362.7L470.6 361.0L470.7 366.0L470.9 365.1L471.1 361.8L471.2 365.4L471.4 365.8L471.6 363.5L471.7 365.5L471.9 362.0L472.1 364.0L472.2 364.2L472.4 365.2L472.6 364.6L472.7 364.2L472.9 364.7L473.0 362.9L473.2 365.9L473.4 363.4L473.5 365.1L473.7 364.1L473.9 363.9L474.0 365.3L474.2 365.2L474.4 366.7L474.5 366.5L474.7 364.4L474.9 366.1L475.0 365.8L475.2 364.7L475.4 364.4L475.5 366.5L475.7 365.5L475.9 364.4L476.0 366.3L476.2 366.8L476.4 366.7L476.5 364.9L476.7 365.7L476.8 368.5L477.0 365.4L477.2 366.0L477.3 369.7L477.5 366.9L477.7 365.7L477.8 363.6L478.0 366.7L478.2 364.3L478.3 366.2L478.5 364.9L478.7 363.8L478.8 368.4L479.0 366.0L479.2 367.4L479.3 367.2L479.5 365.2L479.7 366.4L479.8 365.8L480.0 367.7L480.2 366.9L480.3 365.9L480.5 368.7L480.6 367.1L480.8 367.0L481.0 365.3L481.1 366.9L481.3 364.2L481.5 366.8L481.6 364.8L481.8 366.3L482.0 365.5L482.1 366.1L482.3 366.2L482.5 365.5L482.6 365.4L482.8 363.3L483.0 362.6L483.1 367.0L483.3 366.0L483.5 363.0L483.6 367.7L483.8 364.0L484.0 365.7L484.1 365.6L484.3 365.1L484.4 365.8L484.6 362.9L484.8 364.8L484.9 364.4L485.1 364.8L485.3 364.2L485.4 363.6L485.6 363.4L485.8 365.6L485.9 363.1L486.1 364.8L486.3 364.7L486.4 364.1L486.6 364.8L486.8 365.0L486.9 363.5L487.1 364.7L487.3 367.0L487.4 362.9L487.6 364.1L487.8 363.5L487.9 367.4L488.1 362.8L488.2 364.8L488.4 366.2L488.6 363.7L488.7 364.8L488.9 364.0L489.1 363.1L489.2 364.8L489.4 365.5L489.6 364.2L489.7 364.8L489.9 365.4L490.1 365.9L490.2 362.2L490.4 364.5L490.6 362.5L490.7 360.4L490.9 361.6L491.1 363.2L491.2 362.3L491.4 360.0L491.6 363.4L491.7 361.5L491.9 360.7L492.0 359.9L492.2 361.3L492.4 360.4L492.5 362.7L492.7 361.9L492.9 362.7L493.0 361.8L493.2 360.5L493.4 363.7L493.5 362.0L493.7 363.6L493.9 364.1L494.0 363.3L494.2 365.9L494.4 363.0L494.5 367.3L494.7 364.6L494.9 366.9L495.0 367.5L495.2 364.6L495.4 364.9L495.5 367.4L495.7 366.4L495.8 366.4L496.0 363.8L496.2 364.1L496.3 367.3L496.5 368.6L496.7 365.7L496.8 365.6L497.0 367.1L497.2 367.6L497.3 367.8L497.5 366.5L497.7 364.5L497.8 369.3L498.0 366.6L498.2 369.2L498.3 364.7L498.5 368.1L498.7 366.9L498.8 366.2L499.0 369.1L499.2 369.5L499.3 366.9L499.5 368.6L499.6 366.2L499.8 366.7L500.0 367.1L500.1 366.8L500.3 368.0L500.5 365.3L500.6 368.1L500.8 367.9L501.0 366.0L501.1 364.5L501.3 362.6L501.5 365.7L501.6 364.6L501.8 365.6L502.0 363.9L502.1 365.4L502.3 365.3L502.5 365.4L502.6 365.8L502.8 365.9L503.0 366.9L503.1 364.6L503.3 366.9L503.4 366.3L503.6 365.6L503.8 365.0L503.9 368.6L504.1 367.1L504.3 366.2L504.4 367.1L504.6 367.2L504.8 366.6L504.9 365.5L505.1 367.7L505.3 367.4L505.4 367.3L505.6 369.1L505.8 365.9L505.9 366.4L506.1 367.9L506.3 368.8L506.4 368.5L506.6 368.6L506.8 364.4L506.9 368.1L507.1 367.9L507.2 368.2L507.4 366.2L507.6 367.8L507.7 368.5L507.9 369.2L508.1 367.3L508.2 365.1L508.4 366.9L508.6 367.7L508.7 367.5L508.9 369.3L509.1 366.3L509.2 365.1L509.4 365.5L509.6 367.2L509.7 365.0L509.9 364.5L510.1 364.7L510.2 367.3L510.4 365.8L510.6 364.8L510.7 366.3L510.9 365.9L511.0 363.5L511.2 365.8L511.4 364.9L511.5 361.6L511.7 362.8L511.9 364.8L512.0 365.1L512.2 364.1L512.4 363.2L512.5 365.0L512.7 362.2L512.9 365.6L513.0 364.7L513.2 365.0L513.4 364.2L513.5 366.3L513.7 362.0L513.9 364.1L514.0 366.2L514.2 364.5L514.4 367.5L514.5 366.1L514.7 364.5L514.8 367.1L515.0 365.5L515.2 366.4L515.3 364.8L515.5 364.8L515.7 366.6L515.8 365.7L516.0 364.5L516.2 364.3L516.3 366.4L516.5 367.9L516.7 364.2L516.8 366.3L517.0 361.2L517.2 363.3L517.3 366.1L517.5 367.3L517.7 365.1L517.8 365.8L518.0 365.4L518.2 366.4L518.3 363.5L518.5 365.9L518.6 364.5L518.8 364.6L519.0 365.2L519.1 365.0L519.3 364.3L519.5 365.1L519.6 364.3L519.8 367.8L520.0 366.8L520.1 365.4L520.3 368.3L520.5 368.1L520.6 367.1L520.8 365.8L521.0 367.0L521.1 367.6L521.3 368.8L521.5 366.6L521.6 366.1L521.8 370.0L522.0 368.7L522.1 367.2L522.3 365.4L522.4 367.2L522.6 367.9L522.8 367.2L522.9 367.1L523.1 365.8L523.3 367.1L523.4 364.5L523.6 364.6L523.8 364.3L523.9 364.0L524.1 367.5L524.3 362.4L524.4 365.1L524.6 363.4L524.8 363.2L524.9 365.2L525.1 363.1L525.3 365.3L525.4 368.9L525.6 365.8L525.8 366.8L525.9 365.3L526.1 367.4L526.2 364.9L526.4 367.5L526.6 367.2L526.7 370.5L526.9 367.5L527.1 367.1L527.2 366.9L527.4 365.9L527.6 368.6L527.7 369.4L527.9 366.7L528.1 368.0L528.2 366.4L528.4 367.2L528.6 367.1L528.7 364.2L528.9 364.9L529.1 367.0L529.2 362.9L529.4 365.4L529.6 364.7L529.7 363.7L529.9 364.9L530.0 365.2L530.2 365.4L530.4 361.0L530.5 366.9L530.7 363.9L530.9 366.1L531.0 364.5L531.2 363.9L531.4 364.7L531.5 369.3L531.7 367.2L531.9 364.7L532.0 365.6L532.2 367.0L532.4 366.3L532.5 365.7L532.7 365.5L532.9 364.3L533.0 367.0L533.2 367.6L533.4 369.2L533.5 365.4L533.7 367.1L533.8 366.2L534.0 368.1L534.2 366.3L534.3 365.5L534.5 364.1L534.7 367.5L534.8 366.8L535.0 368.1L535.2 365.8L535.3 370.2L535.5 365.5" fill="none" stroke="#000" stroke-width="1.2" stroke-linejoin="round"/>
<path d="M40.0 291.1L40.2 289.8L40.3 289.9L40.5 286.3L40.7 294.0L40.8 292.8L41.0 290.2L41.2 292.2L41.3 291.4L41.5 289.9L41.7 292.7L41.8 290.4L42.0 290.4L42.1 289.6L42.3 291.9L42.5 291.0L42.6 292.2L42.8 290.2L43.0 291.6L43.1 289.9L43.3 293.1L43.5 292.1L43.6 292.6L43.8 292.9L44.0 290.6L44.1 294.0L44.3 296.5L44.5 290.1L44.6 290.1L44.8 290.6L45.0 294.9L45.1 293.6L45.3 295.3L45.5 294.6L45.6 293.6L45.8 293.6L45.9 292.6L46.1 294.2L46.3 290.5L46.4 291.5L46.6 292.4L46.8 294.9L46.9 290.2L47.1 289.5L47.3 290.3L47.4 292.9L47.6 290.8L47.8 293.6L47.9 288.1L48.1 293.5L48.3 293.5L48.4 289.5L48.6 292.5L48.8 294.7L48.9 293.0L49.1 294.9L49.3 297.6L49.4 294.1L49.6 293.4L49.7 292.7L49.9 295.3L50.1 293.9L50.2 294.0L50.4 294.1L50.6 295.3L50.7 292.2L50.9 291.3L51.1 289.6L51.2 295.7L51.4 293.5L51.6 295.8L51.7 292.9L51.9 291.4L52.1 293.3L52.2 292.1L52.4 289.9L52.6 290.4L52.7 294.8L52.9 292.2L53.1 292.2L53.2 291.0L53.4 290.2L53.5 293.0L53.7 291.3L53.9 290.2L54.0 291.3L54.2 290.0L54.4 292.0L54.5 293.7L54.7 290.3L54.9 294.2L55.0 290.7L55.2 292.1L55.4 290.5L55.5 291.5L55.7 291.9L55.9 291.1L56.0 290.5L56.2 290.4L56.4 290.0L56.5 288.6L56.7 290.5L56.9 291.4L57.0 291.9L57.2 291.0L57.3 293.5L57.5 289.2L57.7 287.0L57.8 289.9L58.0 283.7L58.2 285.6L58.3 280.6L58.5 281.0L58.7 275.1L58.8 278.1L59.0 274.7L59.2 272.4L59.3 276.6L59.5 275.7L59.7 275.8L59.8 276.3L60.0 279.5L60.2 281.3L60.3 284.8L60.5 286.6L60.7 285.7L60.8 287.2L61.0 288.4L61.1 287.9L61.3 290.0L61.5 291.5L61.6 293.4L61.8 294.9L62.0 291.9L62.1 294.6L62.3 293.4L62.5 298.1L62.6 295.0L62.8 296.4L63.0 294.5L63.1 295.2L63.3 297.4L63.5 296.9L63.6 298.6L63.8 295.9L64.0 300.0L64.1 297.8L64.3 302.5L64.5 299.4L64.6 302.0L64.8 298.1L64.9 301.3L65.1 299.2L65.3 300.0L65.4 300.9L65.6 300.4L65.8 301.5L65.9 302.3L66.1 302.1L66.3 300.9L66.4 298.8L66.6 299.7L66.8 300.6L66.9 297.4L67.1 302.0L67.3 300.3L67.4 300.2L67.6 302.1L67.8 301.5L67.9 300.7L68.1 298.6L68.3 300.7L68.4 300.8L68.6 298.7L68.7 301.9L68.9 301.1L69.1 297.1L69.2 300.6L69.4 298.4L69.6 302.5L69.7 302.0L69.9 299.0L70.1 299.5L70.2 301.2L70.4 300.8L70.6 303.7L70.7 302.6L70.9 301.0L71.1 302.4L71.2 298.2L71.4 302.1L71.6 303.0L71.7 301.3L71.9 300.5L72.1 302.5L72.2 304.7L72.4 301.8L72.5 299.6L72.7 303.7L72.9 298.1L73.0 301.8L73.2 299.9L73.4 302.2L73.5 299.1L73.7 302.4L73.9 300.5L74.0 297.0L74.2 296.5L74.4 299.0L74.5 301.4L74.7 299.4L74.9 299.3L75.0 298.8L75.2 300.3L75.4 299.8L75.5 299.7L75.7 297.8L75.9 301.4L76.0 301.8L76.2 297.6L76.3 303.5L76.5 301.1L76.7 299.3L76.8 297.2L77.0 301.4L77.2 301.3L77.3 299.6L77.5 297.8L77.7 302.6L77.8 299.9L78.0 300.3L78.2 305.7L78.3 304.7L78.5 303.0L78.7 300.9L78.8 302.9L79.0 298.4L79.2 302.4L79.3 301.2L79.5 300.5L79.7 300.2L79.8 303.7L80.0 303.2L80.1 303.4L80.3 304.6L80.5 302.1L80.6 301.6L80.8 300.9L81.0 303.3L81.1 305.2L81.3 303.8L81.5 305.2L81.6 302.4L81.8 303.6L82.0 303.3L82.1 302.6L82.3 307.6L82.5 306.1L82.6 303.6L82.8 303.7L83.0 304.9L83.1 302.8L83.3 305.8L83.5 303.1L83.6 304.7L83.8 303.7L83.9 304.6L84.1 303.4L84.3 303.0L84.4 304.0L84.6 304.5L84.8 305.2L84.9 305.7L85.1 308.0L85.3 306.9L85.4 305.2L85.6 306.7L85.8 304.4L85.9 307.7L86.1 306.2L86.3 303.1L86.4 306.4L86.6 306.4L86.8 300.8L86.9 303.8L87.1 304.2L87.3 301.9L87.4 303.2L87.6 303.4L87.7 305.6L87.9 305.3L88.1 308.9L88.2 304.2L88.4 306.6L88.6 305.0L88.7 305.3L88.9 303.1L89.1 301.9L89.2 303.7L89.4 306.1L89.6 307.4L89.7 305.9L89.9 305.8L90.1 303.7L90.2 307.4L90.4 307.1L90.6 304.3L90.7 305.1L90.9 303.6L91.1 307.5L91.2 305.9L91.4 305.2L91.5 306.0L91.7 306.1L91.9 304.8L92.0 303.5L92.2 303.5L92.4 302.8L92.5 306.3L92.7 309.0L92.9 303.0L93.0 305.8L93.2 306.3L93.4 304.2L93.5 306.1L93.7 304.1L93.9 307.7L94.0 305.0L94.2 306.2L94.4 307.1L94.5 305.5L94.7 303.5L94.9 305.5L95.0 307.6L95.2 306.3L95.3 306.9L95.5 304.9L95.7 306.8L95.8 307.7L96.0 306.7L96.2 309.5L96.3 306.3L96.5 305.0L96.7 304.1L96.8 308.3L97.0 306.4L97.2 308.1L97.3 307.2L97.5 309.0L97.7 308.5L97.8 306.0L98.0 307.0L98.2 308.3L98.3 304.8L98.5 309.0L98.7 308.6L98.8 308.3L99.0 306.5L99.1 307.3L99.3 305.1L99.5 306.9L99.6 305.9L99.8 306.8L100.0 305.8L100.1 306.9L100.3 308.1L100.5 304.1L100.6 307.4L100.8 302.7L101.0 302.3L101.1 305.2L101.3 305.1L101.5 305.6L101.6 302.2L101.8 304.4L102.0 304.5L102.1 306.1L102.3 303.9L102.5 304.8L102.6 302.4L102.8 303.6L102.9 303.3L103.1 305.2L103.3 302.7L103.4 303.2L103.6 305.6L103.8 307.7L103.9 305.9L104.1 306.0L104.3 305.4L104.4 307.9L104.6 307.3L104.8 309.4L104.9 307.6L105.1 305.8L105.3 306.6L105.4 306.1L105.6 305.9L105.8 309.8L105.9 309.2L106.1 306.2L106.3 310.9L106.4 308.6L106.6 306.8L106.7 308.9L106.9 308.3L107.1 307.3L107.2 305.5L107.4 308.5L107.6 308.9L107.7 304.6L107.9 309.3L108.1 309.4L108.2 307.8L108.4 308.6L108.6 308.0L108.7 307.2L108.9 307.9L109.1 310.5L109.2 306.3L109.4 308.8L109.6 308.8L109.7 307.6L109.9 308.1L110.1 306.7L110.2 307.7L110.4 309.1L110.5 309.7L110.7 308.0L110.9 314.0L111.0 308.6L111.2 309.7L111.4 309.2L111.5 309.0L111.7 311.5L111.9 308.8L112.0 311.4L112.2 311.1L112.4 307.7L112.5 310.7L112.7 308.1L112.9 313.1L113.0 308.4L113.2 307.5L113.4 306.0L113.5 306.9L113.7 308.0L113.9 307.4L114.0 307.1L114.2 307.9L114.3 308.7L114.5 311.2L114.7 306.5L114.8 308.2L115.0 307.6L115.2 306.7L115.3 307.1L115.5 307.6L115.7 310.0L115.8 308.5L116.0 307.9L116.2 309.6L116.3 309.0L116.5 308.2L116.7 309.0L116.8 307.1L117.0 309.2L117.2 308.9L117.3 307.6L117.5 306.4L117.7 310.5L117.8 308.4L118.0 312.9L118.1 307.4L118.3 309.8L118.5 308.0L118.6 309.2L118.8 310.2L119.0 308.0L119.1 309.2L119.3 309.8L119.5 309.9L119.6 310.8L119.8 311.5L120.0 311.4L120.1 310.6L120.3 309.8L120.5 308.7L120.6 309.3L120.8 309.6L121.0 311.4L121.1 309.8L121.3 308.5L121.5 311.2L121.6 309.1L121.8 309.1L121.9 309.9L122.1 310.9L122.3 306.6L122.4 308.5L122.6 310.5L122.8 309.7L122.9 308.9L123.1 309.4L123.3 312.3L123.4 309.6L123.6 311.4L123.8 311.5L123.9 309.7L124.1 311.0L124.3 309.7L124.4 309.5L124.6 308.7L124.8 311.7L124.9 309.8L125.1 309.5L125.3 308.6L125.4 312.9L125.6 311.2L125.8 309.8L125.9 308.8L126.1 307.5L126.2 310.0L126.4 309.8L126.6 307.0L126.7 310.5L126.9 309.5L127.1 306.4L127.2 306.4L127.4 305.7L127.6 305.4L127.7 303.5L127.9 299.4L128.1 301.7L128.2 297.3L128.4 295.7L128.6 292.8L128.7 288.4L128.9 288.2L129.1 289.4L129.2 291.5L129.4 292.8L129.6 295.0L129.7 298.6L129.9 299.6L130.0 301.7L130.2 301.0L130.4 305.2L130.5 304.3L130.7 305.6L130.9 306.8L131.0 307.6L131.2 310.1L131.4 307.7L131.5 305.3L131.7 307.5L131.9 306.2L132.0 307.3L132.2 305.4L132.4 305.1L132.5 305.1L132.7 304.9L132.9 303.3L133.0 305.4L133.2 306.8L133.4 309.1L133.5 307.5L133.7 307.8L133.8 309.6L134.0 309.9L134.2 311.8L134.3 310.6L134.5 309.9L134.7 312.1L134.8 312.6L135.0 309.8L135.2 310.9L135.3 308.4L135.5 310.4L135.7 309.8L135.8 311.0L136.0 310.7L136.2 311.4L136.3 311.6L136.5 312.6L136.7 312.3L136.8 311.3L137.0 310.3L137.2 314.0L137.3 314.4L137.5 311.7L137.6 313.2L137.8 310.1L138.0 310.1L138.1 311.9L138.3 314.4L138.5 310.8L138.6 311.0L138.8 314.6L139.0 309.5L139.1 313.1L139.3 312.9L139.5 311.9L139.6 312.5L139.8 316.0L140.0 310.5L140.1 311.7L140.3 311.8L140.5 311.1L140.6 310.2L140.8 314.4L141.0 312.4L141.1 309.5L141.3 311.0L141.4 312.6L141.6 312.5L141.8 309.8L141.9 311.7L142.1 312.2L142.3 312.3L142.4 312.3L142.6 309.0L142.8 314.3L142.9 311.9L143.1 314.1L143.3 315.6L143.4 311.2L143.6 309.5L143.8 312.5L143.9 310.8L144.1 310.3L144.3 309.3L144.4 313.0L144.6 309.7L144.8 308.1L144.9 309.2L145.1 307.9L145.2 309.6L145.4 308.4L145.6 307.1L145.7 309.1L145.9 306.7L146.1 308.1L146.2 308.0L146.4 304.7L146.6 303.1L146.7 302.9L146.9 302.4L147.1 299.4L147.2 298.1L147.4 296.6L147.6 296.6L147.7 297.5L147.9 296.8L148.1 298.8L148.2 301.5L148.4 302.4L148.6 305.4L148.7 307.5L148.9 308.0L149.0 308.2L149.2 308.8L149.4 313.2L149.5 312.4L149.7 310.0L149.9 310.7L150.0 314.9L150.2 314.5L150.4 312.6L150.5 314.2L150.7 310.4L150.9 312.5L151.0 313.6L151.2 309.8L151.4 311.3L151.5 313.5L151.7 314.0L151.9 311.5L152.0 312.7L152.2 314.6L152.4 311.8L152.5 310.4L152.7 312.3L152.8 311.8L153.0 314.3L153.2 312.7L153.3 311.4L153.5 316.1L153.7 312.0L153.8 313.4L154.0 313.8L154.2 314.0L154.3 313.2L154.5 313.9L154.7 313.0L154.8 311.1L155.0 312.9L155.2 313.0L155.3 313.0L155.5 313.5L155.7 312.4L155.8 315.2L156.0 315.5L156.2 310.1L156.3 313.2L156.5 312.1L156.6 309.2L156.8 313.5L157.0 311.9L157.1 312.2L157.3 311.7L157.5 314.1L157.6 314.3L157.8 312.9L158.0 313.5L158.1 312.3L158.3 312.7L158.5 311.5L158.6 312.7L158.8 311.8L159.0 313.4L159.1 314.1L159.3 313.4L159.5 314.7L159.6 316.8L159.8 309.9L160.0 312.7L160.1 311.6L160.3 311.4L160.4 309.7L160.6 311.1L160.8 309.9L160.9 308.4L161.1 308.0L161.3 306.4L161.4 302.9L161.6 307.0L161.8 304.6L161.9 303.8L162.1 306.2L162.3 305.6L162.4 304.3L162.6 309.6L162.8 306.7L162.9 309.3L163.1 310.1L163.3 312.0L163.4 311.7L163.6 309.9L163.8 308.1L163.9 308.0L164.1 309.6L164.2 310.2L164.4 308.3L164.6 306.9L164.7 309.9L164.9 308.6L165.1 309.3L165.2 310.2L165.4 312.1L165.6 312.2L165.7 313.6L165.9 314.4L166.1 313.6L166.2 309.7L166.4 310.7L166.6 313.5L166.7 313.3L166.9 316.6L167.1 313.5L167.2 313.4L167.4 315.1L167.6 315.4L167.7 313.6L167.9 314.7L168.0 312.5L168.2 312.9L168.4 316.1L168.5 312.4L168.7 315.8L168.9 315.6L169.0 315.8L169.2 316.1L169.4 315.7L169.5 311.9L169.7 313.7L169.9 314.3L170.0 316.6L170.2 313.7L170.4 314.3L170.5 314.9L170.7 317.3L170.9 313.3L171.0 313.4L171.2 316.2L171.4 312.2L171.5 315.6L171.7 314.4L171.8 312.7L172.0 314.2L172.2 313.1L172.3 314.6L172.5 314.7L172.7 316.0L172.8 313.6L173.0 313.5L173.2 312.2L173.3 312.7L173.5 313.9L173.7 309.3L173.8 312.6L174.0 310.5L174.2 310.9L174.3 310.7L174.5 310.8L174.7 309.0L174.8 307.0L175.0 306.4L175.2 303.7L175.3 300.4L175.5 296.8L175.6 292.3L175.8 284.3L176.0 275.9L176.1 264.2L176.3 256.0L176.5 245.1L176.6 244.1L176.8 242.5L177.0 251.6L177.1 263.1L177.3 268.3L177.5 280.3L177.6 287.2L177.8 292.5L178.0 297.4L178.1 303.4L178.3 307.5L178.5 308.2L178.6 307.1L178.8 308.9L179.0 310.9L179.1 313.7L179.3 312.7L179.4 313.1L179.6 314.6L179.8 312.8L179.9 313.1L180.1 313.1L180.3 310.9L180.4 314.1L180.6 314.1L180.8 314.9L180.9 311.8L181.1 312.4L181.3 314.9L181.4 314.1L181.6 315.6L181.8 312.4L181.9 313.9L182.1 312.7L182.3 314.1L182.4 313.0L182.6 314.5L182.8 315.3L182.9 314.7L183.1 311.2L183.2 315.1L183.4 314.5L183.6 312.3L183.7 312.6L183.9 313.8L184.1 314.6L184.2 313.2L184.4 311.5L184.6 314.1L184.7 313.9L184.9 317.0L185.1 311.5L185.2 316.7L185.4 315.3L185.6 312.8L185.7 314.3L185.9 311.5L186.1 312.1L186.2 309.0L186.4 309.5L186.6 307.5L186.7 306.6L186.9 308.6L187.0 308.4L187.2 310.8L187.4 312.4L187.5 310.9L187.7 311.8L187.9 312.4L188.0 310.2L188.2 313.3L188.4 313.2L188.5 313.4L188.7 312.2L188.9 311.2L189.0 313.9L189.2 315.0L189.4 316.7L189.5 316.8L189.7 317.5L189.9 316.3L190.0 317.7L190.2 316.1L190.4 317.6L190.5 318.3L190.7 321.0L190.8 317.8L191.0 315.8L191.2 319.8L191.3 316.8L191.5 317.9L191.7 317.7L191.8 316.8L192.0 319.9L192.2 318.8L192.3 316.9L192.5 317.7L192.7 316.8L192.8 318.0L193.0 316.3L193.2 315.4L193.3 315.2L193.5 315.1L193.7 315.8L193.8 313.7L194.0 314.4L194.2 314.8L194.3 317.1L194.5 314.6L194.6 308.8L194.8 311.9L195.0 311.8L195.1 312.5L195.3 314.0L195.5 312.5L195.6 308.0L195.8 311.4L196.0 310.9L196.1 311.0L196.3 312.0L196.5 308.2L196.6 310.9L196.8 306.5L197.0 308.4L197.1 308.2L197.3 310.0L197.5 304.8L197.6 302.1L197.8 303.9L198.0 299.9L198.1 300.4L198.3 293.8L198.4 289.2L198.6 286.8L198.8 278.5L198.9 271.7L199.1 258.8L199.3 252.5L199.4 237.8L199.6 228.2L199.8 215.4L199.9 207.4L200.1 206.6L200.3 210.0L200.4 219.3L200.6 228.0L200.8 240.2L200.9 251.8L201.1 266.0L201.3 270.0L201.4 281.0L201.6 285.7L201.8 291.7L201.9 294.9L202.1 300.7L202.2 299.9L202.4 301.9L202.6 305.1L202.7 305.1L202.9 308.8L203.1 310.0L203.2 308.4L203.4 311.3L203.6 309.8L203.7 311.2L203.9 311.8L204.1 314.9L204.2 312.6L204.4 311.6L204.6 311.9L204.7 315.2L204.9 311.4L205.1 313.3L205.2 313.6L205.4 310.9L205.6 313.9L205.7 316.1L205.9 315.2L206.0 313.8L206.2 316.1L206.4 316.0L206.5 318.3L206.7 314.5L206.9 315.0L207.0 315.7L207.2 315.4L207.4 315.8L207.5 315.4L207.7 314.5L207.9 313.1L208.0 314.4L208.2 313.0L208.4 313.2L208.5 313.5L208.7 314.6L208.9 314.6L209.0 311.3L209.2 312.6L209.4 312.7L209.5 310.9L209.7 308.3L209.8 307.3L210.0 311.6L210.2 312.0L210.3 311.6L210.5 310.2L210.7 314.2L210.8 314.1L211.0 312.4L211.2 312.0L211.3 309.2L211.5 312.4L211.7 308.2L211.8 310.4L212.0 309.2L212.2 307.1L212.3 308.2L212.5 304.8L212.7 305.9L212.8 306.6L213.0 306.7L213.2 306.9L213.3 310.4L213.5 310.4L213.6 310.6L213.8 311.5L214.0 312.7L214.1 316.3L214.3 313.7L214.5 313.6L214.6 312.7L214.8 312.7L215.0 311.9L215.1 315.1L215.3 314.9L215.5 313.5L215.6 313.0L215.8 314.7L216.0 314.5L216.1 313.4L216.3 315.8L216.5 315.7L216.6 315.5L216.8 316.7L217.0 314.7L217.1 317.6L217.3 314.2L217.4 316.4L217.6 316.6L217.8 315.3L217.9 316.1L218.1 313.7L218.3 313.3L218.4 315.0L218.6 314.1L218.8 315.7L218.9 314.7L219.1 315.1L219.3 314.3L219.4 313.5L219.6 312.6L219.8 311.0L219.9 309.5L220.1 311.4L220.3 304.0L220.4 303.7L220.6 302.3L220.8 298.0L220.9 295.6L221.1 290.6L221.2 284.5L221.4 283.4L221.6 280.9L221.7 285.1L221.9 288.3L222.1 289.3L222.2 294.8L222.4 297.6L222.6 300.0L222.7 304.8L222.9 306.1L223.1 309.9L223.2 312.9L223.4 315.1L223.6 317.0L223.7 315.6L223.9 317.0L224.1 317.7L224.2 318.2L224.4 313.7L224.6 316.7L224.7 319.1L224.9 316.4L225.0 318.4L225.2 319.2L225.4 315.4L225.5 317.8L225.7 318.4L225.9 318.1L226.0 315.9L226.2 318.5L226.4 317.2L226.5 319.1L226.7 318.5L226.9 317.1L227.0 318.1L227.2 316.9L227.4 316.8L227.5 315.5L227.7 317.4L227.9 318.8L228.0 317.7L228.2 317.4L228.4 316.3L228.5 316.3L228.7 317.8L228.8 314.3L229.0 318.9L229.2 315.4L229.3 317.9L229.5 315.8L229.7 312.8L229.8 313.6L230.0 311.9L230.2 311.1L230.3 310.5L230.5 307.4L230.7 306.1L230.8 305.2L231.0 302.8L231.2 303.5L231.3 303.5L231.5 303.1L231.7 303.0L231.8 302.4L232.0 304.7L232.2 301.6L232.3 304.9L232.5 306.2L232.6 309.1L232.8 310.0L233.0 311.4L233.1 311.4L233.3 313.8L233.5 312.0L233.6 314.4L233.8 312.1L234.0 318.1L234.1 318.6L234.3 316.0L234.5 316.1L234.6 314.7L234.8 315.8L235.0 318.4L235.1 318.3L235.3 316.6L235.5 318.2L235.6 318.1L235.8 319.9L236.0 320.4L236.1 319.2L236.3 319.8L236.4 319.8L236.6 317.0L236.8 320.3L236.9 320.0L237.1 321.3L237.3 317.7L237.4 321.5L237.6 319.6L237.8 321.0L237.9 322.4L238.1 318.7L238.3 319.0L238.4 322.3L238.6 319.4L238.8 319.7L238.9 322.0L239.1 321.0L239.3 322.4L239.4 321.8L239.6 321.4L239.8 322.9L239.9 324.6L240.1 321.4L240.2 323.7L240.4 323.2L240.6 321.7L240.7 322.1L240.9 320.1L241.1 320.4L241.2 321.6L241.4 321.0L241.6 322.8L241.7 319.0L241.9 320.2L242.1 319.6L242.2 320.2L242.4 321.9L242.6 318.5L242.7 321.3L242.9 319.2L243.1 319.6L243.2 321.4L243.4 319.6L243.6 321.0L243.7 320.3L243.9 320.0L244.0 319.9L244.2 318.0L244.4 319.6L244.5 321.0L244.7 321.1L244.9 318.8L245.0 322.4L245.2 321.9L245.4 319.3L245.5 319.7L245.7 321.9L245.9 318.7L246.0 320.1L246.2 321.0L246.4 320.9L246.5 320.9L246.7 321.5L246.9 319.7L247.0 320.1L247.2 323.5L247.4 318.5L247.5 319.7L247.7 320.4L247.8 319.1L248.0 321.6L248.2 319.8L248.3 320.5L248.5 315.5L248.7 320.6L248.8 320.2L249.0 317.2L249.2 319.8L249.3 317.9L249.5 318.4L249.7 319.0L249.8 315.9L250.0 313.4L250.2 313.6L250.3 310.5L250.5 309.6L250.7 308.0L250.8 306.6L251.0 308.3L251.2 307.7L251.3 305.9L251.5 310.1L251.6 307.6L251.8 310.6L252.0 312.6L252.1 315.4L252.3 315.5L252.5 315.5L252.6 316.7L252.8 315.6L253.0 315.8L253.1 311.5L253.3 308.4L253.5 307.9L253.6 306.9L253.8 303.1L254.0 301.3L254.1 299.4L254.3 299.4L254.5 301.8L254.6 302.6L254.8 308.4L255.0 308.5L255.1 312.3L255.3 312.5L255.4 316.8L255.6 315.1L255.8 320.1L255.9 316.9L256.1 319.6L256.3 319.3L256.4 318.5L256.6 321.7L256.8 319.4L256.9 322.0L257.1 318.3L257.3 318.3L257.4 316.3L257.6 319.3L257.8 319.2L257.9 317.3L258.1 315.7L258.3 313.5L258.4 316.9L258.6 313.7L258.8 309.5L258.9 311.9L259.1 309.5L259.2 316.6L259.4 318.4L259.6 318.9L259.7 317.8L259.9 317.9L260.1 317.5L260.2 320.8L260.4 319.4L260.6 320.3L260.7 320.2L260.9 320.9L261.1 322.8L261.2 324.1L261.4 322.1L261.6 322.0L261.7 320.6L261.9 320.5L262.1 320.9L262.2 323.7L262.4 322.9L262.6 324.1L262.7 323.4L262.9 322.3L263.0 321.2L263.2 322.5L263.4 321.0L263.5 325.9L263.7 323.5L263.9 322.5L264.0 325.8L264.2 322.4L264.4 323.7L264.5 322.6L264.7 323.2L264.9 322.1L265.0 323.2L265.2 324.3L265.4 320.4L265.5 318.9L265.7 323.7L265.9 321.9L266.0 322.7L266.2 320.9L266.4 323.3L266.5 323.5L266.7 319.1L266.8 321.5L267.0 319.6L267.2 318.1L267.3 319.8L267.5 321.0L267.7 318.2L267.8 318.3L268.0 321.9L268.2 320.2L268.3 320.8L268.5 318.7L268.7 319.4L268.8 320.6L269.0 320.8L269.2 320.8L269.3 322.9L269.5 321.0L269.7 318.7L269.8 319.7L270.0 320.9L270.2 322.8L270.3 320.0L270.5 320.4L270.6 320.9L270.8 319.9L271.0 319.7L271.1 320.4L271.3 322.1L271.5 321.2L271.6 320.0L271.8 320.8L272.0 318.2L272.1 321.2L272.3 320.5L272.5 319.6L272.6 316.5L272.8 321.3L273.0 313.8L273.1 316.1L273.3 315.8L273.5 317.7L273.6 314.4L273.8 316.9L274.0 316.5L274.1 316.8L274.3 319.0L274.4 320.4L274.6 319.6L274.8 319.3L274.9 317.1L275.1 322.9L275.3 320.9L275.4 319.0L275.6 322.2L275.8 324.2L275.9 322.1L276.1 320.8L276.3 325.7L276.4 323.4L276.6 323.0L276.8 324.0L276.9 319.4L277.1 322.4L277.3 322.3L277.4 325.7L277.6 321.7L277.8 321.8L277.9 320.6L278.1 321.5L278.2 322.4L278.4 323.1L278.6 322.5L278.7 325.7L278.9 323.6L279.1 323.8L279.2 324.8L279.4 323.6L279.6 321.9L279.7 320.3L279.9 322.9L280.1 321.0L280.2 323.8L280.4 320.6L280.6 318.2L280.7 321.0L280.9 321.9L281.1 319.5L281.2 319.3L281.4 318.2L281.6 319.2L281.7 315.6L281.9 313.1L282.0 310.0L282.2 305.8L282.4 307.1L282.5 303.4L282.7 297.0L282.9 296.3L283.0 293.8L283.2 292.0L283.4 292.7L283.5 296.1L283.7 296.1L283.9 300.2L284.0 303.9L284.2 306.9L284.4 309.1L284.5 311.9L284.7 314.1L284.9 313.6L285.0 316.2L285.2 316.2L285.4 319.9L285.5 316.3L285.7 318.5L285.8 320.3L286.0 319.3L286.2 319.5L286.3 319.5L286.5 321.0L286.7 319.2L286.8 321.0L287.0 321.1L287.2 319.4L287.3 322.0L287.5 321.1L287.7 322.3L287.8 323.2L288.0 322.5L288.2 320.4L288.3 322.5L288.5 319.8L288.7 321.0L288.8 324.5L289.0 322.1L289.2 324.3L289.3 321.9L289.5 322.2L289.7 320.6L289.8 323.5L290.0 321.9L290.1 323.1L290.3 322.9L290.5 323.0L290.6 322.7L290.8 322.1L291.0 322.0L291.1 320.9L291.3 318.7L291.5 322.3L291.6 324.3L291.8 322.7L292.0 324.3L292.1 321.4L292.3 319.1L292.5 318.8L292.6 321.0L292.8 320.2L293.0 319.3L293.1 320.4L293.3 317.8L293.5 319.6L293.6 318.3L293.8 318.7L293.9 319.9L294.1 317.8L294.3 319.7L294.4 319.5L294.6 316.3L294.8 320.5L294.9 315.4L295.1 316.9L295.3 318.1L295.4 313.9L295.6 318.7L295.8 319.0L295.9 317.5L296.1 318.3L296.3 318.6L296.4 318.3L296.6 320.5L296.8 318.9L296.9 319.7L297.1 320.6L297.3 321.7L297.4 322.4L297.6 319.0L297.7 318.5L297.9 321.4L298.1 321.7L298.2 320.4L298.4 322.6L298.6 323.1L298.7 322.9L298.9 324.8L299.1 321.0L299.2 322.6L299.4 325.3L299.6 323.6L299.7 321.0L299.9 322.9L300.1 324.3L300.2 325.7L300.4 323.7L300.6 324.4L300.7 321.2L300.9 322.4L301.1 324.4L301.2 321.4L301.4 322.6L301.5 320.0L301.7 324.7L301.9 322.4L302.0 323.3L302.2 320.3L302.4 320.5L302.5 324.9L302.7 321.7L302.9 321.4L303.0 322.8L303.2 322.8L303.4 319.2L303.5 320.5L303.7 322.0L303.9 321.9L304.0 322.4L304.2 321.2L304.4 321.5L304.5 322.2L304.7 320.9L304.9 320.6L305.0 321.0L305.2 321.6L305.3 321.2L305.5 320.5L305.7 320.5L305.8 320.3L306.0 320.3L306.2 319.7L306.3 316.6L306.5 318.9L306.7 314.3L306.8 316.5L307.0 314.1L307.2 315.6L307.3 316.3L307.5 312.5L307.7 316.6L307.8 316.8L308.0 316.6L308.2 318.5L308.3 317.9L308.5 319.3L308.7 318.1L308.8 321.0L309.0 321.0L309.1 321.5L309.3 319.7L309.5 323.3L309.6 323.6L309.8 320.7L310.0 320.3L310.1 320.3L310.3 321.8L310.5 322.2L310.6 319.6L310.8 317.7L311.0 321.1L311.1 320.3L311.3 320.4L311.5 320.6L311.6 318.0L311.8 319.3L312.0 318.2L312.1 318.5L312.3 318.9L312.5 316.1L312.6 313.5L312.8 314.9L312.9 312.1L313.1 308.6L313.3 303.8L313.4 302.6L313.6 301.6L313.8 300.2L313.9 297.7L314.1 299.2L314.3 299.0L314.4 301.4L314.6 305.3L314.8 306.8L314.9 309.9L315.1 313.2L315.3 315.5L315.4 314.8L315.6 316.7L315.8 316.3L315.9 317.3L316.1 320.4L316.3 319.9L316.4 318.5L316.6 322.3L316.7 320.8L316.9 321.8L317.1 323.1L317.2 323.3L317.4 322.9L317.6 320.3L317.7 324.0L317.9 322.4L318.1 321.3L318.2 320.1L318.4 325.0L318.6 323.3L318.7 323.1L318.9 323.7L319.1 322.6L319.2 320.5L319.4 323.4L319.6 323.8L319.7 323.1L319.9 324.5L320.1 325.1L320.2 321.3L320.4 321.9L320.5 323.9L320.7 323.1L320.9 323.3L321.0 324.5L321.2 324.4L321.4 322.9L321.5 323.8L321.7 322.8L321.9 323.6L322.0 322.4L322.2 321.2L322.4 323.3L322.5 323.2L322.7 325.2L322.9 326.1L323.0 323.8L323.2 324.4L323.4 322.7L323.5 322.2L323.7 323.0L323.9 322.9L324.0 323.6L324.2 323.3L324.3 325.4L324.5 322.7L324.7 320.7L324.8 323.1L325.0 322.0L325.2 323.2L325.3 324.5L325.5 322.1L325.7 322.9L325.8 323.8L326.0 321.8L326.2 323.4L326.3 324.0L326.5 324.4L326.7 324.9L326.8 324.2L327.0 324.0L327.2 321.6L327.3 319.9L327.5 322.4L327.7 325.8L327.8 324.0L328.0 320.7L328.1 323.3L328.3 324.5L328.5 321.4L328.6 324.7L328.8 322.3L329.0 325.3L329.1 323.8L329.3 328.0L329.5 321.6L329.6 323.7L329.8 321.1L330.0 324.6L330.1 323.0L330.3 323.9L330.5 322.6L330.6 320.7L330.8 321.2L331.0 320.3L331.1 320.5L331.3 322.0L331.5 323.3L331.6 323.0L331.8 322.5L331.9 321.0L332.1 322.5L332.3 320.7L332.4 322.2L332.6 323.2L332.8 321.9L332.9 321.6L333.1 321.7L333.3 323.2L333.4 322.0L333.6 320.5L333.8 322.0L333.9 321.2L334.1 324.8L334.3 322.7L334.4 320.7L334.6 323.2L334.8 323.8L334.9 323.3L335.1 322.3L335.3 323.1L335.4 323.3L335.6 324.3L335.7 323.5L335.9 326.2L336.1 322.8L336.2 325.3L336.4 323.2L336.6 320.9L336.7 321.7L336.9 320.9L337.1 321.1L337.2 325.2L337.4 322.6L337.6 324.4L337.7 322.3L337.9 323.4L338.1 321.9L338.2 324.5L338.4 322.8L338.6 322.4L338.7 322.7L338.9 325.8L339.1 323.2L339.2 323.6L339.4 320.6L339.5 321.3L339.7 322.6L339.9 319.5L340.0 323.9L340.2 322.4L340.4 322.0L340.5 321.8L340.7 321.8L340.9 321.6L341.0 324.3L341.2 323.4L341.4 324.3L341.5 322.3L341.7 321.6L341.9 324.9L342.0 321.4L342.2 322.3L342.4 324.2L342.5 324.7L342.7 321.4L342.9 322.8L343.0 323.2L343.2 322.9L343.3 321.7L343.5 323.7L343.7 321.8L343.8 322.0L344.0 318.9L344.2 321.6L344.3 318.8L344.5 322.2L344.7 321.7L344.8 320.0L345.0 320.8L345.2 320.6L345.3 320.1L345.5 320.8L345.7 320.1L345.8 319.6L346.0 319.3L346.2 322.9L346.3 320.9L346.5 320.8L346.7 322.0L346.8 320.7L347.0 320.8L347.1 322.4L347.3 323.0L347.5 322.6L347.6 319.5L347.8 321.5L348.0 321.2L348.1 321.5L348.3 319.1L348.5 318.1L348.6 318.5L348.8 316.3L349.0 314.7L349.1 314.6L349.3 314.3L349.5 311.3L349.6 310.8L349.8 306.1L350.0 306.9L350.1 304.8L350.3 303.0L350.5 303.7L350.6 303.8L350.8 305.8L350.9 306.4L351.1 310.7L351.3 310.0L351.4 310.0L351.6 313.0L351.8 315.0L351.9 315.0L352.1 317.6L352.3 315.8L352.4 316.5L352.6 320.5L352.8 318.7L352.9 319.8L353.1 320.0L353.3 320.4L353.4 319.9L353.6 319.8L353.8 321.7L353.9 319.7L354.1 320.8L354.3 321.7L354.4 320.3L354.6 318.9L354.7 321.7L354.9 322.6L355.1 321.5L355.2 318.8L355.4 322.0L355.6 323.7L355.7 318.7L355.9 316.8L356.1 319.9L356.2 319.9L356.4 320.3L356.6 319.7L356.7 317.9L356.9 317.6L357.1 316.2L357.2 314.7L357.4 313.0L357.6 311.3L357.7 310.8L357.9 308.7L358.1 306.0L358.2 306.6L358.4 303.1L358.5 303.3L358.7 303.9L358.9 301.7L359.0 305.0L359.2 308.1L359.4 309.7L359.5 308.6L359.7 310.8L359.9 312.0L360.0 314.6L360.2 316.1L360.4 315.2L360.5 318.8L360.7 319.4L360.9 320.0L361.0 319.8L361.2 321.1L361.4 319.4L361.5 322.6L361.7 323.0L361.9 322.9L362.0 321.7L362.2 325.3L362.3 325.3L362.5 321.4L362.7 324.7L362.8 324.5L363.0 321.0L363.2 325.3L363.3 325.6L363.5 325.8L363.7 325.2L363.8 324.2L364.0 324.5L364.2 326.1L364.3 327.1L364.5 325.0L364.7 325.4L364.8 326.8L365.0 323.1L365.2 326.7L365.3 325.9L365.5 323.3L365.7 327.3L365.8 325.1L366.0 327.4L366.1 328.2L366.3 324.6L366.5 324.5L366.6 326.1L366.8 323.6L367.0 326.9L367.1 326.0L367.3 326.9L367.5 322.9L367.6 325.5L367.8 325.7L368.0 322.4L368.1 325.9L368.3 322.7L368.5 324.6L368.6 322.4L368.8 325.1L369.0 326.2L369.1 323.8L369.3 323.6L369.5 325.1L369.6 322.4L369.8 322.7L369.9 323.4L370.1 322.4L370.3 323.4L370.4 322.2L370.6 322.5L370.8 319.2L370.9 320.2L371.1 317.1L371.3 319.3L371.4 320.6L371.6 321.7L371.8 317.2L371.9 319.1L372.1 320.7L372.3 318.9L372.4 321.1L372.6 321.3L372.8 320.1L372.9 320.1L373.1 319.7L373.3 321.4L373.4 322.8L373.6 321.6L373.7 325.1L373.9 319.4L374.1 320.8L374.2 322.7L374.4 320.4L374.6 322.7L374.7 323.5L374.9 322.9L375.1 322.6L375.2 324.4L375.4 324.0L375.6 324.7L375.7 324.7L375.9 323.2L376.1 322.9L376.2 324.1L376.4 325.0L376.6 324.7L376.7 326.4L376.9 325.5L377.1 326.6L377.2 325.4L377.4 324.2L377.5 326.2L377.7 325.5L377.9 323.4L378.0 323.6L378.2 327.6L378.4 318.5L378.5 324.1L378.7 322.0L378.9 321.2L379.0 320.3L379.2 319.6L379.4 323.5L379.5 319.7L379.7 320.3L379.9 322.3L380.0 322.3L380.2 322.0L380.4 322.4L380.5 321.4L380.7 325.2L380.9 322.6L381.0 321.0L381.2 326.1L381.3 325.9L381.5 325.6L381.7 324.5L381.8 327.0L382.0 324.0L382.2 322.5L382.3 325.8L382.5 326.6L382.7 326.3L382.8 328.3L383.0 326.5L383.2 324.9L383.3 324.8L383.5 326.1L383.7 324.6L383.8 324.4L384.0 322.0L384.2 323.9L384.3 322.4L384.5 324.5L384.7 324.3L384.8 325.1L385.0 326.6L385.1 323.9L385.3 326.2L385.5 322.7L385.6 324.6L385.8 325.8L386.0 327.3L386.1 323.2L386.3 324.5L386.5 325.2L386.6 325.0L386.8 323.9L387.0 323.1L387.1 323.7L387.3 325.4L387.5 323.8L387.6 328.2L387.8 327.5L388.0 323.2L388.1 325.2L388.3 327.8L388.5 328.0L388.6 327.6L388.8 324.1L388.9 325.5L389.1 327.8L389.3 326.1L389.4 325.3L389.6 326.5L389.8 327.1L389.9 325.7L390.1 325.7L390.3 326.6L390.4 324.0L390.6 323.2L390.8 325.2L390.9 322.0L391.1 323.9L391.3 321.7L391.4 323.4L391.6 319.9L391.8 322.6L391.9 320.7L392.1 319.2L392.3 317.7L392.4 318.0L392.6 316.3L392.7 315.3L392.9 317.9L393.1 316.7L393.2 317.2L393.4 313.4L393.6 312.4L393.7 313.0L393.9 316.4L394.1 316.9L394.2 313.6L394.4 318.2L394.6 316.7L394.7 316.2L394.9 318.4L395.1 319.9L395.2 319.3L395.4 319.9L395.6 319.5L395.7 319.1L395.9 321.0L396.1 319.7L396.2 323.2L396.4 321.5L396.5 324.8L396.7 321.1L396.9 325.6L397.0 322.6L397.2 322.9L397.4 324.8L397.5 325.9L397.7 324.8L397.9 324.6L398.0 328.1L398.2 326.3L398.4 324.0L398.5 325.5L398.7 328.4L398.9 326.7L399.0 327.5L399.2 329.3L399.4 325.7L399.5 327.1L399.7 325.7L399.9 326.7L400.0 327.5L400.2 324.9L400.3 327.0L400.5 327.0L400.7 328.2L400.8 325.9L401.0 324.9L401.2 327.2L401.3 324.9L401.5 326.7L401.7 327.1L401.8 324.9L402.0 325.7L402.2 324.2L402.3 321.3L402.5 322.9L402.7 321.7L402.8 324.2L403.0 322.2L403.2 322.9L403.3 322.5L403.5 323.6L403.7 321.1L403.8 320.7L404.0 321.7L404.1 323.2L404.3 321.0L404.5 321.7L404.6 321.3L404.8 320.8L405.0 320.0L405.1 322.3L405.3 322.2L405.5 322.4L405.6 325.7L405.8 322.6L406.0 323.6L406.1 322.7L406.3 324.9L406.5 322.9L406.6 325.9L406.8 323.0L407.0 324.5L407.1 324.9L407.3 323.2L407.5 324.8L407.6 323.8L407.8 322.8L407.9 323.0L408.1 324.6L408.3 326.8L408.4 323.8L408.6 325.4L408.8 323.7L408.9 325.4L409.1 323.5L409.3 324.4L409.4 325.8L409.6 325.0L409.8 325.9L409.9 327.9L410.1 326.6L410.3 326.0L410.4 325.5L410.6 326.6L410.8 329.2L410.9 327.6L411.1 327.6L411.3 328.9L411.4 329.1L411.6 329.3L411.7 327.4L411.9 326.5L412.1 325.4L412.2 326.7L412.4 327.0L412.6 328.3L412.7 327.6L412.9 326.2L413.1 328.0L413.2 324.8L413.4 324.8L413.6 324.4L413.7 324.3L413.9 325.3L414.1 324.2L414.2 324.1L414.4 326.9L414.6 322.7L414.7 323.1L414.9 324.1L415.1 324.9L415.2 324.8L415.4 323.6L415.5 323.4L415.7 323.5L415.9 324.9L416.0 322.5L416.2 320.5L416.4 324.1L416.5 322.2L416.7 323.8L416.9 325.9L417.0 324.2L417.2 326.7L417.4 322.0L417.5 324.6L417.7 324.9L417.9 325.6L418.0 323.5L418.2 324.8L418.4 324.8L418.5 324.9L418.7 322.8L418.9 322.4L419.0 325.6L419.2 325.3L419.3 324.8L419.5 325.6L419.7 326.1L419.8 322.9L420.0 325.5L420.2 326.3L420.3 325.6L420.5 324.8L420.7 324.8L420.8 321.7L421.0 322.9L421.2 324.9L421.3 325.5L421.5 324.0L421.7 322.7L421.8 323.1L422.0 324.5L422.2 326.2L422.3 324.5L422.5 322.7L422.7 324.4L422.8 324.2L423.0 327.1L423.1 324.7L423.3 324.1L423.5 324.1L423.6 322.7L423.8 323.1L424.0 324.1L424.1 323.8L424.3 325.4L424.5 325.5L424.6 326.8L424.8 327.8L425.0 326.0L425.1 325.6L425.3 323.4L425.5 326.6L425.6 327.1L425.8 325.1L426.0 325.7L426.1 325.3L426.3 327.8L426.5 327.2L426.6 328.1L426.8 324.8L426.9 330.2L427.1 325.4L427.3 325.2L427.4 327.0L427.6 326.0L427.8 329.3L427.9 326.3L428.1 325.9L428.3 328.3L428.4 328.6L428.6 325.6L428.8 326.1L428.9 326.1L429.1 326.2L429.3 328.6L429.4 327.6L429.6 327.0L429.8 326.9L429.9 324.6L430.1 325.3L430.3 323.3L430.4 321.7L430.6 324.4L430.7 318.8L430.9 320.4L431.1 318.8L431.2 316.4L431.4 317.4L431.6 317.2L431.7 317.1L431.9 314.9L432.1 316.8L432.2 316.1L432.4 317.0L432.6 313.6L432.7 316.2L432.9 316.6L433.1 319.0L433.2 317.9L433.4 319.0L433.6 318.8L433.7 319.3L433.9 320.2L434.1 323.4L434.2 321.0L434.4 319.4L434.5 323.6L434.7 322.8L434.9 324.5L435.0 324.8L435.2 323.8L435.4 323.9L435.5 323.9L435.7 324.9L435.9 324.1L436.0 325.6L436.2 327.5L436.4 324.8L436.5 325.0L436.7 325.1L436.9 326.9L437.0 327.0L437.2 328.2L437.4 327.2L437.5 326.3L437.7 326.8L437.9 324.2L438.0 326.8L438.2 326.1L438.3 328.7L438.5 327.6L438.7 324.4L438.8 324.6L439.0 326.5L439.2 322.3L439.3 323.8L439.5 325.5L439.7 325.8L439.8 325.0L440.0 326.4L440.2 324.3L440.3 324.8L440.5 324.3L440.7 323.1L440.8 324.6L441.0 323.8L441.2 324.6L441.3 320.8L441.5 324.6L441.7 323.7L441.8 323.5L442.0 324.4L442.1 323.6L442.3 325.5L442.5 326.0L442.6 325.4L442.8 325.6L443.0 324.8L443.1 324.3L443.3 322.5L443.5 323.9L443.6 326.2L443.8 325.7L444.0 324.1L444.1 325.1L444.3 326.6L444.5 325.1L444.6 327.7L444.8 324.6L445.0 326.9L445.1 326.9L445.3 326.3L445.5 326.5L445.6 326.9L445.8 323.0L445.9 326.8L446.1 327.6L446.3 326.5L446.4 327.4L446.6 324.0L446.8 325.4L446.9 325.7L447.1 324.7L447.3 326.6L447.4 325.4L447.6 323.8L447.8 325.6L447.9 325.4L448.1 323.6L448.3 325.0L448.4 324.6L448.6 324.5L448.8 322.3L448.9 325.8L449.1 324.9L449.3 324.0L449.4 324.6L449.6 324.6L449.7 323.8L449.9 323.4L450.1 324.4L450.2 323.5L450.4 323.7L450.6 322.7L450.7 324.0L450.9 325.8L451.1 324.7L451.2 324.4L451.4 323.8L451.6 323.6L451.7 322.0L451.9 326.3L452.1 322.9L452.2 321.8L452.4 324.4L452.6 324.1L452.7 323.0L452.9 321.6L453.1 321.7L453.2 325.8L453.4 323.4L453.6 322.7L453.7 326.2L453.9 322.9L454.0 322.3L454.2 324.4L454.4 324.1L454.5 325.8L454.7 321.3L454.9 323.8L455.0 320.9L455.2 323.8L455.4 322.1L455.5 322.2L455.7 321.7L455.9 323.8L456.0 324.7L456.2 322.2L456.4 321.8L456.5 321.3L456.7 322.6L456.9 320.3L457.0 326.6L457.2 321.1L457.4 323.7L457.5 321.3L457.7 319.0L457.8 318.5L458.0 319.8L458.2 319.2L458.3 319.5L458.5 318.0L458.7 322.7L458.8 322.2L459.0 316.7L459.2 320.0L459.3 321.1L459.5 319.2L459.7 319.7L459.8 321.9L460.0 321.4L460.2 319.3L460.3 323.0L460.5 320.8L460.7 324.4L460.8 320.6L461.0 318.9L461.2 322.4L461.3 324.1L461.5 323.3L461.6 322.8L461.8 321.4L462.0 324.1L462.1 320.2L462.3 324.0L462.5 321.2L462.6 322.0L462.8 321.0L463.0 321.5L463.1 324.8L463.3 321.0L463.5 322.8L463.6 321.2L463.8 323.7L464.0 320.2L464.1 321.9L464.3 323.1L464.5 324.8L464.6 319.8L464.8 320.1L465.0 321.1L465.1 323.2L465.3 319.5L465.4 322.0L465.6 319.9L465.8 319.2L465.9 318.4L466.1 320.8L466.3 322.0L466.4 320.5L466.6 317.7L466.8 319.9L466.9 322.2L467.1 322.2L467.3 321.5L467.4 323.4L467.6 319.7L467.8 320.0L467.9 325.4L468.1 323.2L468.3 322.2L468.4 322.1L468.6 319.4L468.8 324.5L468.9 320.6L469.1 321.0L469.2 323.9L469.4 326.3L469.6 323.8L469.7 325.0L469.9 324.0L470.1 325.2L470.2 322.4L470.4 327.8L470.6 323.4L470.7 325.6L470.9 321.9L471.1 327.4L471.2 325.5L471.4 327.8L471.6 324.0L471.7 326.4L471.9 324.7L472.1 324.9L472.2 326.8L472.4 323.7L472.6 326.0L472.7 327.7L472.9 327.4L473.0 326.5L473.2 325.4L473.4 323.5L473.5 326.9L473.7 323.9L473.9 326.6L474.0 324.3L474.2 324.8L474.4 324.8L474.5 325.7L474.7 324.2L474.9 325.1L475.0 324.1L475.2 325.7L475.4 325.4L475.5 325.6L475.7 323.9L475.9 325.6L476.0 325.2L476.2 326.1L476.4 325.3L476.5 323.9L476.7 326.4L476.8 324.4L477.0 325.8L477.2 322.4L477.3 326.1L477.5 326.3L477.7 324.1L477.8 326.2L478.0 324.8L478.2 327.3L478.3 326.3L478.5 323.6L478.7 325.1L478.8 322.9L479.0 324.9L479.2 326.1L479.3 326.5L479.5 325.2L479.7 325.0L479.8 325.5L480.0 324.4L480.2 325.7L480.3 326.7L480.5 325.3L480.6 326.2L480.8 323.8L481.0 324.1L481.1 325.3L481.3 327.6L481.5 326.1L481.6 327.0L481.8 324.6L482.0 326.2L482.1 322.0L482.3 325.1L482.5 321.3L482.6 326.0L482.8 325.0L483.0 325.9L483.1 324.9L483.3 323.7L483.5 323.4L483.6 324.8L483.8 326.8L484.0 325.6L484.1 324.1L484.3 324.2L484.4 324.2L484.6 325.0L484.8 325.3L484.9 324.9L485.1 325.7L485.3 323.6L485.4 328.2L485.6 326.4L485.8 328.3L485.9 326.6L486.1 326.0L486.3 326.4L486.4 326.6L486.6 325.4L486.8 325.9L486.9 329.2L487.1 327.8L487.3 325.8L487.4 327.4L487.6 325.5L487.8 328.8L487.9 325.5L488.1 328.3L488.2 327.2L488.4 327.4L488.6 326.3L488.7 327.2L488.9 326.5L489.1 326.5L489.2 328.4L489.4 331.2L489.6 327.1L489.7 328.9L489.9 327.3L490.1 326.1L490.2 328.6L490.4 327.3L490.6 327.5L490.7 325.6L490.9 325.0L491.1 323.1L491.2 323.2L491.4 325.3L491.6 319.1L491.7 322.4L491.9 323.5L492.0 322.3L492.2 322.3L492.4 320.7L492.5 322.8L492.7 323.1L492.9 321.7L493.0 324.3L493.2 321.6L493.4 319.0L493.5 322.8L493.7 322.9L493.9 322.1L494.0 322.9L494.2 323.0L494.4 321.4L494.5 325.9L494.7 324.4L494.9 328.4L495.0 324.9L495.2 325.7L495.4 323.2L495.5 327.0L495.7 324.2L495.8 326.7L496.0 327.4L496.2 327.3L496.3 325.2L496.5 325.4L496.7 327.6L496.8 328.3L497.0 328.7L497.2 326.5L497.3 326.4L497.5 329.0L497.7 325.5L497.8 327.3L498.0 325.6L498.2 323.9L498.3 324.2L498.5 326.3L498.7 325.8L498.8 326.1L499.0 324.8L499.2 324.5L499.3 325.6L499.5 324.9L499.6 322.9L499.8 324.6L500.0 327.7L500.1 324.3L500.3 326.3L500.5 325.6L500.6 326.9L500.8 324.8L501.0 324.4L501.1 327.0L501.3 325.5L501.5 326.5L501.6 326.2L501.8 328.1L502.0 327.1L502.1 326.9L502.3 325.3L502.5 324.5L502.6 325.5L502.8 327.7L503.0 327.5L503.1 327.3L503.3 325.8L503.4 324.9L503.6 327.9L503.8 326.6L503.9 327.1L504.1 325.0L504.3 325.3L504.4 327.2L504.6 327.3L504.8 324.9L504.9 326.7L505.1 324.6L505.3 328.0L505.4 327.2L505.6 329.4L505.8 328.3L505.9 325.3L506.1 326.5L506.3 325.6L506.4 326.5L506.6 327.4L506.8 326.4L506.9 326.6L507.1 324.7L507.2 327.5L507.4 326.8L507.6 327.7L507.7 328.4L507.9 327.1L508.1 328.1L508.2 326.3L508.4 328.5L508.6 327.2L508.7 326.4L508.9 326.9L509.1 325.2L509.2 326.2L509.4 326.5L509.6 327.0L509.7 326.8L509.9 326.0L510.1 326.6L510.2 323.8L510.4 326.8L510.6 327.4L510.7 327.7L510.9 328.1L511.0 326.4L511.2 326.6L511.4 326.1L511.5 326.2L511.7 327.1L511.9 328.9L512.0 324.9L512.2 326.7L512.4 327.9L512.5 326.3L512.7 328.4L512.9 326.0L513.0 327.5L513.2 325.7L513.4 328.4L513.5 326.9L513.7 328.9L513.9 327.5L514.0 326.4L514.2 327.0L514.4 327.6L514.5 327.2L514.7 326.6L514.8 326.3L515.0 326.6L515.2 327.5L515.3 325.4L515.5 326.6L515.7 324.0L515.8 327.0L516.0 326.2L516.2 325.1L516.3 325.1L516.5 323.2L516.7 325.6L516.8 325.1L517.0 323.5L517.2 324.9L517.3 326.3L517.5 325.7L517.7 325.9L517.8 324.7L518.0 326.7L518.2 325.5L518.3 326.8L518.5 328.8L518.6 323.0L518.8 325.2L519.0 326.0L519.1 325.1L519.3 327.7L519.5 325.9L519.6 328.9L519.8 327.7L520.0 327.4L520.1 326.9L520.3 328.2L520.5 327.8L520.6 329.3L520.8 328.0L521.0 328.9L521.1 328.2L521.3 328.2L521.5 325.7L521.6 328.0L521.8 328.6L522.0 326.5L522.1 326.3L522.3 327.9L522.4 328.7L522.6 326.0L522.8 328.8L522.9 329.7L523.1 328.0L523.3 328.6L523.4 328.8L523.6 327.1L523.8 328.7L523.9 328.3L524.1 325.8L524.3 328.0L524.4 328.3L524.6 325.3L524.8 327.8L524.9 326.0L525.1 324.3L525.3 324.5L525.4 324.6L525.6 326.4L525.8 324.9L525.9 324.9L526.1 323.6L526.2 325.4L526.4 323.6L526.6 324.5L526.7 326.3L526.9 326.4L527.1 324.9L527.2 325.6L527.4 326.5L527.6 325.8L527.7 327.6L527.9 327.9L528.1 326.0L528.2 324.5L528.4 326.0L528.6 328.2L528.7 327.9L528.9 328.1L529.1 328.1L529.2 325.9L529.4 327.1L529.6 328.3L529.7 327.3L529.9 328.3L530.0 325.9L530.2 325.7L530.4 330.3L530.5 328.7L530.7 328.6L530.9 329.9L531.0 331.0L531.2 332.0L531.4 324.7L531.5 328.5L531.7 329.4L531.9 325.2L532.0 325.3L532.2 327.5L532.4 330.2L532.5 328.8L532.7 330.3L532.9 327.5L533.0 328.5L533.2 328.9L533.4 327.3L533.5 326.4L533.7 326.5L533.8 321.0L534.0 326.4L534.2 323.2L534.3 324.6L534.5 326.6L534.7 326.1L534.8 322.6L535.0 326.1L535.2 326.4L535.3 325.7L535.5 326.4" fill="none" stroke="#f00" stroke-width="1.2" stroke-linejoin="round"/>
<path d="M40.0 257.2L40.2 248.8L40.3 254.1L40.5 252.3L40.7 252.4L40.8 252.8L41.0 249.5L41.2 252.7L41.3 251.5L41.5 259.0L41.7 253.4L41.8 252.3L42.0 252.4L42.1 251.7L42.3 250.9L42.5 252.1L42.6 253.6L42.8 252.2L43.0 254.3L43.1 252.1L43.3 252.4L43.5 255.1L43.6 253.2L43.8 251.2L44.0 251.7L44.1 253.0L44.3 255.5L44.5 251.5L44.6 251.6L44.8 253.9L45.0 250.5L45.1 251.7L45.3 253.8L45.5 253.3L45.6 252.5L45.8 253.5L45.9 247.3L46.1 254.0L46.3 250.4L46.4 248.9L46.6 252.0L46.8 252.2L46.9 249.5L47.1 247.4L47.3 248.2L47.4 246.6L47.6 247.5L47.8 244.4L47.9 241.5L48.1 241.1L48.3 237.3L48.4 235.2L48.6 237.9L48.8 238.8L48.9 239.0L49.1 240.0L49.3 243.9L49.4 241.1L49.6 248.4L49.7 249.6L49.9 247.2L50.1 251.3L50.2 250.4L50.4 254.2L50.6 249.9L50.7 252.4L50.9 255.6L51.1 256.8L51.2 251.4L51.4 254.5L51.6 256.2L51.7 254.8L51.9 258.8L52.1 254.2L52.2 257.0L52.4 254.7L52.6 259.0L52.7 256.6L52.9 256.1L53.1 253.8L53.2 259.7L53.4 258.1L53.5 258.1L53.7 258.8L53.9 257.4L54.0 255.8L54.2 255.5L54.4 255.5L54.5 259.2L54.7 254.3L54.9 255.8L55.0 256.2L55.2 257.1L55.4 257.7L55.5 254.5L55.7 253.6L55.9 256.5L56.0 258.4L56.2 257.5L56.4 256.5L56.5 255.4L56.7 256.3L56.9 255.1L57.0 256.6L57.2 253.4L57.3 254.5L57.5 253.4L57.7 253.6L57.8 252.0L58.0 254.6L58.2 251.3L58.3 249.7L58.5 242.0L58.7 243.4L58.8 241.9L59.0 243.5L59.2 239.1L59.3 246.0L59.5 247.4L59.7 245.1L59.8 247.3L60.0 249.2L60.2 252.0L60.3 254.2L60.5 257.6L60.7 254.6L60.8 256.9L61.0 256.4L61.1 259.6L61.3 258.3L61.5 259.6L61.6 255.8L61.8 257.6L62.0 256.8L62.1 260.9L62.3 259.6L62.5 258.2L62.6 258.1L62.8 259.8L63.0 258.0L63.1 257.7L63.3 260.1L63.5 263.5L63.6 259.1L63.8 258.6L64.0 257.7L64.1 257.5L64.3 260.6L64.5 261.2L64.6 259.9L64.8 260.5L64.9 260.2L65.1 260.3L65.3 257.6L65.4 259.4L65.6 260.4L65.8 259.0L65.9 259.6L66.1 259.1L66.3 260.0L66.4 262.1L66.6 260.1L66.8 260.6L66.9 262.4L67.1 262.3L67.3 264.2L67.4 258.2L67.6 263.3L67.8 261.4L67.9 262.7L68.1 264.1L68.3 264.8L68.4 265.0L68.6 263.8L68.7 266.4L68.9 263.5L69.1 263.9L69.2 265.6L69.4 263.5L69.6 268.0L69.7 266.2L69.9 268.1L70.1 264.5L70.2 263.9L70.4 264.7L70.6 265.6L70.7 263.4L70.9 264.9L71.1 264.2L71.2 266.7L71.4 263.0L71.6 265.6L71.7 262.8L71.9 262.2L72.1 262.5L72.2 261.6L72.4 263.7L72.5 265.0L72.7 263.5L72.9 264.0L73.0 265.5L73.2 263.2L73.4 262.9L73.5 262.0L73.7 259.7L73.9 263.4L74.0 259.2L74.2 263.0L74.4 261.9L74.5 263.7L74.7 261.8L74.9 260.6L75.0 262.6L75.2 261.2L75.4 261.9L75.5 262.4L75.7 262.2L75.9 262.3L76.0 261.4L76.2 262.5L76.3 259.5L76.5 262.8L76.7 261.3L76.8 265.1L77.0 265.4L77.2 260.3L77.3 263.8L77.5 263.4L77.7 262.1L77.8 264.7L78.0 263.2L78.2 261.2L78.3 263.8L78.5 264.1L78.7 264.6L78.8 262.7L79.0 265.8L79.2 266.1L79.3 263.3L79.5 264.2L79.7 265.3L79.8 264.7L80.0 268.5L80.1 266.1L80.3 264.3L80.5 264.7L80.6 265.9L80.8 269.7L81.0 265.8L81.1 266.3L81.3 266.9L81.5 266.1L81.6 269.8L81.8 265.5L82.0 267.6L82.1 266.8L82.3 267.7L82.5 265.0L82.6 269.8L82.8 267.1L83.0 267.5L83.1 266.2L83.3 266.7L83.5 269.0L83.6 269.8L83.8 269.6L83.9 270.4L84.1 269.8L84.3 268.7L84.4 270.0L84.6 269.6L84.8 268.5L84.9 269.7L85.1 270.5L85.3 268.8L85.4 267.8L85.6 269.4L85.8 271.1L85.9 267.7L86.1 267.9L86.3 267.8L86.4 269.9L86.6 265.1L86.8 268.6L86.9 270.0L87.1 267.0L87.3 270.7L87.4 269.3L87.6 267.7L87.7 269.0L87.9 266.4L88.1 267.9L88.2 271.6L88.4 267.4L88.6 271.6L88.7 268.5L88.9 270.0L89.1 268.4L89.2 264.6L89.4 267.0L89.6 268.0L89.7 265.7L89.9 265.2L90.1 267.6L90.2 265.9L90.4 264.1L90.6 265.5L90.7 267.7L90.9 265.5L91.1 267.5L91.2 268.4L91.4 265.9L91.5 264.1L91.7 263.8L91.9 265.7L92.0 267.1L92.2 266.2L92.4 266.7L92.5 265.3L92.7 266.5L92.9 265.5L93.0 265.8L93.2 264.5L93.4 264.3L93.5 266.1L93.7 265.3L93.9 265.7L94.0 268.4L94.2 267.4L94.4 272.2L94.5 269.2L94.7 267.0L94.9 269.2L95.0 268.7L95.2 267.2L95.3 270.0L95.5 267.2L95.7 263.8L95.8 269.9L96.0 267.8L96.2 271.2L96.3 268.1L96.5 267.4L96.7 271.8L96.8 268.0L97.0 270.1L97.2 272.2L97.3 270.3L97.5 270.2L97.7 270.7L97.8 271.9L98.0 269.5L98.2 271.8L98.3 271.8L98.5 274.5L98.7 270.4L98.8 269.5L99.0 272.0L99.1 270.3L99.3 271.3L99.5 271.0L99.6 272.6L99.8 269.7L100.0 270.6L100.1 266.8L100.3 269.4L100.5 273.1L100.6 269.7L100.8 269.8L101.0 269.0L101.1 271.9L101.3 271.3L101.5 269.3L101.6 272.3L101.8 271.7L102.0 272.6L102.1 270.5L102.3 274.2L102.5 272.2L102.6 271.5L102.8 270.9L102.9 271.2L103.1 272.9L103.3 271.1L103.4 273.0L103.6 272.1L103.8 273.1L103.9 272.1L104.1 270.6L104.3 267.6L104.4 270.7L104.6 271.3L104.8 270.1L104.9 270.5L105.1 268.8L105.3 268.8L105.4 267.8L105.6 271.1L105.8 269.2L105.9 268.2L106.1 266.9L106.3 268.6L106.4 271.0L106.6 269.6L106.7 267.9L106.9 271.2L107.1 271.3L107.2 270.7L107.4 270.5L107.6 271.2L107.7 270.4L107.9 270.9L108.1 268.7L108.2 272.2L108.4 270.4L108.6 273.2L108.7 267.2L108.9 271.4L109.1 271.9L109.2 270.0L109.4 271.2L109.6 271.7L109.7 271.5L109.9 269.8L110.1 270.5L110.2 272.2L110.4 272.7L110.5 270.9L110.7 270.9L110.9 271.2L111.0 272.5L111.2 269.4L111.4 269.1L111.5 271.4L111.7 269.6L111.9 270.5L112.0 271.6L112.2 272.3L112.4 270.1L112.5 273.0L112.7 269.3L112.9 272.9L113.0 269.8L113.2 270.3L113.4 273.3L113.5 271.8L113.7 271.2L113.9 271.8L114.0 273.2L114.2 272.4L114.3 272.5L114.5 274.1L114.7 271.4L114.8 271.7L115.0 271.6L115.2 274.1L115.3 273.8L115.5 274.2L115.7 272.2L115.8 272.0L116.0 273.5L116.2 271.6L116.3 273.5L116.5 273.4L116.7 271.3L116.8 272.3L117.0 272.3L117.2 275.2L117.3 276.5L117.5 272.6L117.7 272.9L117.8 269.6L118.0 273.4L118.1 273.1L118.3 271.6L118.5 274.5L118.6 271.0L118.8 273.1L119.0 273.7L119.1 271.6L119.3 274.8L119.5 275.1L119.6 271.4L119.8 271.4L120.0 274.4L120.1 273.4L120.3 271.6L120.5 273.0L120.6 273.2L120.8 273.2L121.0 274.6L121.1 274.0L121.3 276.1L121.5 275.6L121.6 274.6L121.8 275.3L121.9 275.8L122.1 275.0L122.3 272.3L122.4 275.5L122.6 274.4L122.8 276.8L122.9 274.6L123.1 275.3L123.3 275.1L123.4 277.1L123.6 274.8L123.8 274.1L123.9 274.8L124.1 273.6L124.3 274.3L124.4 273.9L124.6 274.1L124.8 276.3L124.9 272.6L125.1 273.0L125.3 272.4L125.4 273.5L125.6 270.5L125.8 271.1L125.9 271.8L126.1 272.6L126.2 271.5L126.4 270.8L126.6 270.1L126.7 272.1L126.9 273.4L127.1 271.6L127.2 271.2L127.4 271.3L127.6 268.8L127.7 269.1L127.9 268.2L128.1 267.8L128.2 265.8L128.4 262.4L128.6 264.2L128.7 263.7L128.9 260.3L129.1 261.8L129.2 263.1L129.4 265.7L129.6 264.2L129.7 270.5L129.9 268.9L130.0 272.7L130.2 271.8L130.4 271.8L130.5 272.7L130.7 274.6L130.9 272.4L131.0 273.3L131.2 273.3L131.4 271.7L131.5 276.2L131.7 275.3L131.9 274.5L132.0 276.2L132.2 273.1L132.4 274.4L132.5 277.0L132.7 275.9L132.9 271.1L133.0 269.4L133.2 272.6L133.4 275.6L133.5 273.2L133.7 273.5L133.8 274.6L134.0 272.4L134.2 273.9L134.3 274.8L134.5 274.3L134.7 274.3L134.8 272.9L135.0 274.6L135.2 273.3L135.3 275.9L135.5 277.9L135.7 273.1L135.8 271.1L136.0 273.8L136.2 275.0L136.3 276.1L136.5 276.2L136.7 273.5L136.8 273.6L137.0 276.7L137.2 273.3L137.3 276.5L137.5 274.6L137.6 276.2L137.8 276.1L138.0 276.3L138.1 276.4L138.3 273.9L138.5 275.8L138.6 275.5L138.8 276.0L139.0 277.4L139.1 275.3L139.3 274.7L139.5 274.7L139.6 275.3L139.8 276.9L140.0 274.6L140.1 277.5L140.3 276.2L140.5 275.5L140.6 273.9L140.8 276.1L141.0 276.8L141.1 273.2L141.3 277.4L141.4 278.0L141.6 276.1L141.8 276.2L141.9 278.9L142.1 277.1L142.3 273.9L142.4 275.1L142.6 274.7L142.8 274.6L142.9 271.2L143.1 275.7L143.3 273.5L143.4 274.6L143.6 274.0L143.8 275.3L143.9 273.5L144.1 272.7L144.3 274.5L144.4 275.6L144.6 273.0L144.8 275.3L144.9 273.6L145.1 272.2L145.2 275.0L145.4 271.4L145.6 273.8L145.7 271.2L145.9 272.1L146.1 269.0L146.2 268.8L146.4 270.5L146.6 268.0L146.7 266.3L146.9 263.8L147.1 263.3L147.2 258.8L147.4 257.8L147.6 258.4L147.7 257.6L147.9 258.9L148.1 261.4L148.2 263.1L148.4 264.7L148.6 269.0L148.7 269.4L148.9 270.9L149.0 270.0L149.2 270.0L149.4 269.2L149.5 271.3L149.7 269.2L149.9 271.7L150.0 274.0L150.2 275.6L150.4 274.9L150.5 272.5L150.7 274.8L150.9 273.2L151.0 275.8L151.2 274.8L151.4 276.4L151.5 279.1L151.7 277.0L151.9 279.2L152.0 276.3L152.2 275.8L152.4 278.4L152.5 279.1L152.7 275.9L152.8 276.9L153.0 274.9L153.2 276.7L153.3 278.4L153.5 277.0L153.7 276.3L153.8 275.1L154.0 277.6L154.2 278.2L154.3 277.8L154.5 277.2L154.7 274.9L154.8 279.1L155.0 276.3L155.2 276.0L155.3 277.1L155.5 272.8L155.7 275.7L155.8 275.4L156.0 276.1L156.2 277.3L156.3 276.0L156.5 272.6L156.6 274.7L156.8 275.4L157.0 275.3L157.1 273.3L157.3 272.7L157.5 275.9L157.6 275.6L157.8 275.1L158.0 272.6L158.1 277.7L158.3 270.9L158.5 274.6L158.6 278.1L158.8 274.9L159.0 275.5L159.1 273.5L159.3 277.1L159.5 273.2L159.6 275.3L159.8 275.0L160.0 273.0L160.1 275.4L160.3 271.5L160.4 271.9L160.6 272.1L160.8 270.7L160.9 271.0L161.1 270.9L161.3 268.5L161.4 267.9L161.6 268.0L161.8 268.6L161.9 270.9L162.1 270.0L162.3 271.4L162.4 271.1L162.6 270.3L162.8 273.0L162.9 270.4L163.1 271.9L163.3 274.0L163.4 270.2L163.6 271.6L163.8 269.4L163.9 270.9L164.1 269.6L164.2 271.3L164.4 271.3L164.6 272.5L164.7 274.9L164.9 273.4L165.1 274.3L165.2 273.8L165.4 274.0L165.6 273.6L165.7 272.6L165.9 275.7L166.1 278.3L166.2 277.0L166.4 275.9L166.6 279.3L166.7 276.5L166.9 276.5L167.1 275.8L167.2 276.3L167.4 277.5L167.6 280.8L167.7 277.8L167.9 276.7L168.0 277.4L168.2 278.0L168.4 276.0L168.5 278.7L168.7 279.6L168.9 279.2L169.0 279.6L169.2 277.0L169.4 276.4L169.5 280.7L169.7 280.4L169.9 276.6L170.0 279.1L170.2 278.7L170.4 279.4L170.5 278.8L170.7 277.7L170.9 278.6L171.0 278.5L171.2 278.1L171.4 275.5L171.5 273.9L171.7 277.0L171.8 275.9L172.0 278.6L172.2 279.3L172.3 278.7L172.5 277.8L172.7 278.4L172.8 279.9L173.0 277.1L173.2 279.3L173.3 278.9L173.5 278.0L173.7 279.4L173.8 276.0L174.0 278.0L174.2 274.8L174.3 274.5L174.5 273.4L174.7 274.7L174.8 271.7L175.0 271.7L175.2 268.2L175.3 268.9L175.5 266.8L175.6 260.4L175.8 257.3L176.0 249.5L176.1 244.7L176.3 234.6L176.5 226.0L176.6 227.0L176.8 225.1L177.0 228.1L177.1 235.1L177.3 241.0L177.5 249.9L177.6 254.5L177.8 262.9L178.0 265.6L178.1 265.1L178.3 267.5L178.5 270.4L178.6 269.6L178.8 273.1L179.0 273.8L179.1 273.3L179.3 274.0L179.4 275.9L179.6 277.4L179.8 277.8L179.9 275.9L180.1 277.2L180.3 275.0L180.4 276.8L180.6 274.9L180.8 277.4L180.9 274.6L181.1 275.1L181.3 276.5L181.4 277.4L181.6 274.6L181.8 275.9L181.9 276.9L182.1 277.1L182.3 275.7L182.4 277.0L182.6 276.5L182.8 279.0L182.9 277.8L183.1 275.1L183.2 273.9L183.4 277.2L183.6 278.8L183.7 277.4L183.9 278.4L184.1 276.5L184.2 275.3L184.4 278.2L184.6 277.3L184.7 278.0L184.9 274.9L185.1 276.8L185.2 275.2L185.4 276.7L185.6 274.0L185.7 273.1L185.9 272.0L186.1 273.4L186.2 270.3L186.4 268.0L186.6 266.7L186.7 266.3L186.9 270.1L187.0 266.1L187.2 268.5L187.4 271.7L187.5 273.5L187.7 272.6L187.9 274.7L188.0 275.4L188.2 276.3L188.4 275.5L188.5 278.2L188.7 276.5L188.9 278.7L189.0 275.3L189.2 278.4L189.4 275.5L189.5 275.4L189.7 278.4L189.9 276.7L190.0 278.6L190.2 276.6L190.4 280.5L190.5 278.3L190.7 276.8L190.8 278.7L191.0 279.7L191.2 277.4L191.3 279.2L191.5 281.4L191.7 279.7L191.8 278.5L192.0 277.7L192.2 279.3L192.3 276.2L192.5 274.0L192.7 277.4L192.8 276.7L193.0 280.7L193.2 278.2L193.3 276.5L193.5 276.1L193.7 278.3L193.8 276.2L194.0 276.4L194.2 277.0L194.3 277.1L194.5 276.9L194.6 276.8L194.8 278.3L195.0 278.6L195.1 273.7L195.3 279.4L195.5 275.7L195.6 277.0L195.8 273.9L196.0 275.1L196.1 274.5L196.3 274.0L196.5 274.6L196.6 273.8L196.8 270.9L197.0 271.5L197.1 272.0L197.3 271.0L197.5 268.5L197.6 267.3L197.8 265.9L198.0 262.4L198.1 259.5L198.3 260.2L198.4 253.1L198.6 248.3L198.8 240.4L198.9 235.1L199.1 226.2L199.3 212.6L199.4 201.9L199.6 188.3L199.8 181.4L199.9 172.7L200.1 167.4L200.3 172.8L200.4 178.6L200.6 188.8L200.8 200.1L200.9 209.9L201.1 220.5L201.3 231.2L201.4 237.9L201.6 242.9L201.8 252.0L201.9 252.5L202.1 254.8L202.2 256.6L202.4 260.0L202.6 261.5L202.7 261.3L202.9 262.9L203.1 260.4L203.2 263.1L203.4 264.1L203.6 265.9L203.7 267.7L203.9 265.2L204.1 273.6L204.2 268.9L204.4 271.5L204.6 272.9L204.7 273.7L204.9 273.4L205.1 269.4L205.2 272.5L205.4 275.5L205.6 273.4L205.7 273.5L205.9 271.9L206.0 277.2L206.2 276.4L206.4 274.6L206.5 275.9L206.7 276.2L206.9 275.0L207.0 276.4L207.2 277.4L207.4 278.1L207.5 279.4L207.7 277.7L207.9 277.0L208.0 278.3L208.2 277.0L208.4 276.2L208.5 279.7L208.7 277.7L208.9 278.5L209.0 279.3L209.2 276.9L209.4 279.4L209.5 279.2L209.7 278.3L209.8 278.9L210.0 277.1L210.2 274.7L210.3 277.1L210.5 275.7L210.7 277.6L210.8 276.1L211.0 274.2L211.2 274.2L211.3 275.2L211.5 274.3L211.7 272.8L211.8 272.8L212.0 272.1L212.2 272.9L212.3 274.7L212.5 274.5L212.7 276.0L212.8 274.8L213.0 274.7L213.2 275.3L213.3 277.6L213.5 280.5L213.6 280.7L213.8 277.9L214.0 277.3L214.1 280.9L214.3 280.6L214.5 278.2L214.6 281.7L214.8 280.6L215.0 282.4L215.1 281.1L215.3 282.0L215.5 281.3L215.6 279.5L215.8 280.5L216.0 279.9L216.1 282.0L216.3 279.4L216.5 278.6L216.6 281.7L216.8 282.2L217.0 282.6L217.1 282.0L217.3 278.2L217.4 279.2L217.6 279.4L217.8 280.0L217.9 276.9L218.1 279.8L218.3 280.1L218.4 278.3L218.6 279.6L218.8 281.0L218.9 279.2L219.1 280.3L219.3 279.9L219.4 278.6L219.6 278.1L219.8 276.4L219.9 277.9L220.1 274.5L220.3 273.0L220.4 273.7L220.6 270.1L220.8 270.0L220.9 269.1L221.1 265.9L221.2 264.3L221.4 264.3L221.6 263.6L221.7 260.7L221.9 262.1L222.1 267.4L222.2 267.9L222.4 266.3L222.6 269.2L222.7 272.7L222.9 272.8L223.1 276.1L223.2 276.6L223.4 278.1L223.6 276.5L223.7 279.6L223.9 282.0L224.1 278.5L224.2 281.8L224.4 281.5L224.6 281.2L224.7 280.3L224.9 278.9L225.0 279.3L225.2 281.6L225.4 281.9L225.5 282.1L225.7 281.7L225.9 281.5L226.0 279.5L226.2 278.3L226.4 280.2L226.5 280.5L226.7 279.8L226.9 277.4L227.0 278.7L227.2 277.2L227.4 279.3L227.5 277.5L227.7 278.5L227.9 278.9L228.0 278.3L228.2 279.7L228.4 275.8L228.5 273.9L228.7 277.9L228.8 278.0L229.0 277.5L229.2 275.3L229.3 275.0L229.5 273.8L229.7 271.1L229.8 271.4L230.0 272.2L230.2 270.0L230.3 272.9L230.5 267.4L230.7 268.6L230.8 270.5L231.0 268.1L231.2 267.5L231.3 267.6L231.5 269.1L231.7 273.0L231.8 272.3L232.0 273.4L232.2 272.9L232.3 275.7L232.5 275.6L232.6 275.0L232.8 276.5L233.0 278.2L233.1 280.3L233.3 279.2L233.5 280.6L233.6 283.2L233.8 279.7L234.0 279.5L234.1 282.9L234.3 282.4L234.5 281.8L234.6 282.5L234.8 281.7L235.0 283.0L235.1 281.8L235.3 283.4L235.5 280.7L235.6 281.2L235.8 282.5L236.0 281.6L236.1 283.3L236.3 282.2L236.4 281.6L236.6 282.7L236.8 281.7L236.9 280.3L237.1 281.0L237.3 281.5L237.4 282.1L237.6 283.0L237.8 284.2L237.9 283.9L238.1 285.7L238.3 285.1L238.4 283.1L238.6 285.7L238.8 285.2L238.9 282.9L239.1 284.1L239.3 285.2L239.4 284.1L239.6 285.2L239.8 284.3L239.9 284.7L240.1 283.3L240.2 284.2L240.4 283.1L240.6 284.5L240.7 281.1L240.9 283.8L241.1 285.1L241.2 284.0L241.4 283.1L241.6 283.9L241.7 281.9L241.9 281.9L242.1 282.6L242.2 282.9L242.4 284.4L242.6 281.8L242.7 284.5L242.9 280.9L243.1 282.0L243.2 283.1L243.4 284.7L243.6 282.2L243.7 280.0L243.9 283.5L244.0 282.8L244.2 281.1L244.4 281.0L244.5 281.4L244.7 282.3L244.9 282.9L245.0 279.7L245.2 284.8L245.4 281.4L245.5 280.8L245.7 282.1L245.9 281.3L246.0 284.3L246.2 282.5L246.4 280.3L246.5 280.3L246.7 280.1L246.9 280.4L247.0 281.8L247.2 280.0L247.4 283.2L247.5 280.9L247.7 280.8L247.8 282.4L248.0 278.2L248.2 279.7L248.3 281.8L248.5 280.9L248.7 280.8L248.8 281.2L249.0 279.7L249.2 280.2L249.3 278.5L249.5 277.6L249.7 281.9L249.8 278.5L250.0 278.4L250.2 280.9L250.3 279.7L250.5 276.5L250.7 275.5L250.8 274.9L251.0 272.6L251.2 273.9L251.3 273.1L251.5 273.5L251.6 275.3L251.8 276.4L252.0 279.2L252.1 279.7L252.3 275.9L252.5 280.1L252.6 277.5L252.8 277.0L253.0 279.7L253.1 276.9L253.3 276.4L253.5 276.8L253.6 272.5L253.8 269.9L254.0 269.4L254.1 268.8L254.3 267.1L254.5 264.7L254.6 267.7L254.8 270.5L255.0 275.7L255.1 276.1L255.3 277.6L255.4 279.4L255.6 278.1L255.8 279.9L255.9 280.3L256.1 278.6L256.3 280.2L256.4 281.1L256.6 278.9L256.8 281.7L256.9 281.6L257.1 281.9L257.3 279.2L257.4 280.3L257.6 281.9L257.8 280.6L257.9 277.8L258.1 278.6L258.3 279.6L258.4 276.7L258.6 276.8L258.8 279.6L258.9 276.1L259.1 276.7L259.2 276.3L259.4 277.7L259.6 281.6L259.7 280.1L259.9 279.2L260.1 280.0L260.2 281.6L260.4 282.8L260.6 280.8L260.7 282.9L260.9 281.2L261.1 282.4L261.2 282.6L261.4 282.6L261.6 281.0L261.7 281.3L261.9 282.1L262.1 279.5L262.2 281.4L262.4 281.8L262.6 282.4L262.7 280.8L262.9 280.6L263.0 281.0L263.2 279.8L263.4 280.6L263.5 281.6L263.7 281.5L263.9 279.8L264.0 281.0L264.2 278.7L264.4 283.0L264.5 281.4L264.7 282.7L264.9 281.1L265.0 282.7L265.2 283.6L265.4 284.6L265.5 281.4L265.7 284.7L265.9 283.4L266.0 282.6L266.2 284.5L266.4 283.5L266.5 283.6L266.7 283.1L266.8 284.4L267.0 284.2L267.2 284.0L267.3 282.9L267.5 283.6L267.7 284.9L267.8 286.2L268.0 284.3L268.2 286.4L268.3 284.4L268.5 282.8L268.7 285.2L268.8 283.0L269.0 284.8L269.2 285.7L269.3 283.8L269.5 284.0L269.7 287.5L269.8 284.4L270.0 284.3L270.2 285.0L270.3 283.7L270.5 283.6L270.6 284.1L270.8 280.1L271.0 285.3L271.1 281.7L271.3 281.6L271.5 283.7L271.6 282.8L271.8 280.9L272.0 282.8L272.1 280.7L272.3 281.1L272.5 279.8L272.6 280.5L272.8 282.0L273.0 281.3L273.1 281.2L273.3 281.6L273.5 279.8L273.6 278.5L273.8 278.5L274.0 280.8L274.1 278.1L274.3 278.3L274.4 277.7L274.6 278.4L274.8 279.1L274.9 279.1L275.1 279.5L275.3 279.3L275.4 279.8L275.6 282.1L275.8 283.1L275.9 283.8L276.1 283.0L276.3 282.2L276.4 284.5L276.6 284.8L276.8 282.1L276.9 285.5L277.1 285.4L277.3 287.1L277.4 283.3L277.6 283.1L277.8 286.1L277.9 282.4L278.1 283.9L278.2 283.4L278.4 283.4L278.6 282.1L278.7 284.3L278.9 285.9L279.1 285.0L279.2 284.8L279.4 283.5L279.6 285.9L279.7 284.4L279.9 284.9L280.1 281.1L280.2 283.5L280.4 281.2L280.6 283.1L280.7 282.6L280.9 280.4L281.1 281.8L281.2 282.6L281.4 281.0L281.6 280.2L281.7 277.0L281.9 275.9L282.0 273.6L282.2 273.3L282.4 272.5L282.5 268.9L282.7 265.8L282.9 262.0L283.0 262.6L283.2 261.0L283.4 259.2L283.5 260.9L283.7 265.0L283.9 266.6L284.0 272.5L284.2 272.4L284.4 272.9L284.5 275.3L284.7 279.5L284.9 277.1L285.0 280.4L285.2 280.7L285.4 282.7L285.5 281.9L285.7 281.0L285.8 282.6L286.0 282.2L286.2 283.7L286.3 282.5L286.5 285.5L286.7 282.8L286.8 283.6L287.0 282.2L287.2 283.4L287.3 283.3L287.5 283.6L287.7 284.7L287.8 282.8L288.0 282.4L288.2 285.3L288.3 283.5L288.5 283.1L288.7 285.8L288.8 285.4L289.0 280.8L289.2 284.1L289.3 285.9L289.5 286.1L289.7 284.4L289.8 287.4L290.0 284.2L290.1 285.0L290.3 285.6L290.5 285.4L290.6 286.5L290.8 286.7L291.0 285.1L291.1 287.1L291.3 284.1L291.5 284.6L291.6 287.2L291.8 284.8L292.0 286.1L292.1 283.9L292.3 284.1L292.5 284.2L292.6 284.6L292.8 283.9L293.0 284.4L293.1 285.3L293.3 286.1L293.5 284.6L293.6 285.4L293.8 285.9L293.9 283.2L294.1 282.6L294.3 287.1L294.4 286.7L294.6 285.0L294.8 285.5L294.9 283.7L295.1 283.2L295.3 285.6L295.4 283.1L295.6 286.5L295.8 284.3L295.9 285.7L296.1 288.0L296.3 287.9L296.4 284.9L296.6 286.8L296.8 283.9L296.9 284.6L297.1 285.9L297.3 287.4L297.4 284.7L297.6 286.2L297.7 285.6L297.9 283.7L298.1 285.3L298.2 287.6L298.4 285.3L298.6 286.2L298.7 286.6L298.9 284.4L299.1 287.1L299.2 287.4L299.4 287.5L299.6 287.1L299.7 284.6L299.9 284.4L300.1 284.1L300.2 283.8L300.4 283.9L300.6 286.4L300.7 287.0L300.9 284.0L301.1 285.9L301.2 282.9L301.4 284.1L301.5 283.1L301.7 282.1L301.9 284.4L302.0 284.3L302.2 283.5L302.4 283.3L302.5 282.6L302.7 283.8L302.9 283.1L303.0 284.3L303.2 282.3L303.4 284.3L303.5 284.8L303.7 285.9L303.9 285.7L304.0 284.7L304.2 283.5L304.4 282.1L304.5 284.7L304.7 286.8L304.9 287.2L305.0 281.4L305.2 283.9L305.3 284.4L305.5 283.3L305.7 284.9L305.8 284.4L306.0 283.3L306.2 283.5L306.3 280.9L306.5 281.3L306.7 281.1L306.8 283.4L307.0 279.8L307.2 282.0L307.3 283.7L307.5 283.0L307.7 284.7L307.8 283.0L308.0 285.0L308.2 286.0L308.3 288.1L308.5 286.2L308.7 287.4L308.8 285.6L309.0 285.8L309.1 288.0L309.3 286.7L309.5 287.9L309.6 286.9L309.8 288.9L310.0 289.2L310.1 284.6L310.3 288.2L310.5 286.0L310.6 285.9L310.8 284.8L311.0 285.7L311.1 282.8L311.3 283.0L311.5 282.6L311.6 283.6L311.8 283.9L312.0 283.1L312.1 281.8L312.3 279.6L312.5 276.9L312.6 278.6L312.8 276.8L312.9 275.3L313.1 274.9L313.3 270.6L313.4 268.6L313.6 264.0L313.8 267.1L313.9 266.2L314.1 266.2L314.3 269.5L314.4 269.7L314.6 272.9L314.8 278.8L314.9 279.3L315.1 281.5L315.3 282.9L315.4 284.2L315.6 284.7L315.8 288.6L315.9 286.0L316.1 287.7L316.3 286.7L316.4 286.8L316.6 284.0L316.7 284.8L316.9 289.7L317.1 289.5L317.2 286.6L317.4 286.9L317.6 287.6L317.7 285.0L317.9 288.6L318.1 284.3L318.2 284.4L318.4 281.2L318.6 286.8L318.7 284.5L318.9 286.4L319.1 282.4L319.2 284.1L319.4 283.6L319.6 283.6L319.7 286.2L319.9 286.4L320.1 285.2L320.2 282.7L320.4 284.6L320.5 285.3L320.7 284.4L320.9 284.6L321.0 284.6L321.2 282.9L321.4 284.6L321.5 286.7L321.7 283.2L321.9 284.9L322.0 286.1L322.2 283.1L322.4 284.9L322.5 282.8L322.7 284.4L322.9 283.3L323.0 284.0L323.2 284.6L323.4 284.8L323.5 284.9L323.7 281.8L323.9 287.4L324.0 284.8L324.2 283.7L324.3 284.4L324.5 285.7L324.7 283.9L324.8 284.9L325.0 284.9L325.2 286.4L325.3 284.7L325.5 286.5L325.7 286.5L325.8 286.0L326.0 288.1L326.2 286.5L326.3 285.0L326.5 287.2L326.7 287.0L326.8 286.9L327.0 287.4L327.2 290.5L327.3 287.6L327.5 288.0L327.7 287.1L327.8 289.4L328.0 287.5L328.1 286.5L328.3 286.0L328.5 288.5L328.6 288.8L328.8 285.6L329.0 286.9L329.1 288.8L329.3 289.4L329.5 286.1L329.6 287.4L329.8 289.2L330.0 287.3L330.1 287.4L330.3 287.2L330.5 286.1L330.6 287.9L330.8 288.1L331.0 285.6L331.1 287.5L331.3 288.8L331.5 287.3L331.6 288.2L331.8 285.9L331.9 288.4L332.1 285.2L332.3 288.8L332.4 285.4L332.6 284.9L332.8 284.5L332.9 285.2L333.1 285.0L333.3 284.7L333.4 285.2L333.6 286.7L333.8 287.0L333.9 285.3L334.1 287.6L334.3 284.5L334.4 284.5L334.6 284.4L334.8 286.9L334.9 283.9L335.1 284.1L335.3 287.9L335.4 288.5L335.6 288.0L335.7 284.0L335.9 286.1L336.1 287.3L336.2 286.2L336.4 283.8L336.6 285.6L336.7 283.7L336.9 284.3L337.1 289.0L337.2 287.0L337.4 284.0L337.6 284.0L337.7 286.7L337.9 285.3L338.1 287.0L338.2 285.3L338.4 285.9L338.6 286.6L338.7 284.8L338.9 283.6L339.1 284.7L339.2 285.4L339.4 286.2L339.5 286.4L339.7 286.4L339.9 287.3L340.0 285.4L340.2 288.6L340.4 289.5L340.5 287.2L340.7 287.0L340.9 288.5L341.0 287.7L341.2 287.0L341.4 286.5L341.5 285.7L341.7 285.1L341.9 287.6L342.0 288.2L342.2 284.9L342.4 286.1L342.5 286.3L342.7 285.2L342.9 284.4L343.0 284.6L343.2 282.1L343.3 284.3L343.5 283.6L343.7 286.5L343.8 284.4L344.0 282.1L344.2 282.2L344.3 284.1L344.5 283.6L344.7 281.2L344.8 280.5L345.0 278.5L345.2 279.9L345.3 280.1L345.5 279.3L345.7 282.9L345.8 278.0L346.0 280.7L346.2 281.7L346.3 282.0L346.5 284.1L346.7 280.1L346.8 281.3L347.0 282.8L347.1 283.2L347.3 282.7L347.5 282.4L347.6 285.1L347.8 282.1L348.0 282.7L348.1 285.4L348.3 285.5L348.5 283.8L348.6 280.8L348.8 280.1L349.0 279.1L349.1 277.7L349.3 277.6L349.5 278.7L349.6 276.0L349.8 273.5L350.0 272.6L350.1 271.5L350.3 274.7L350.5 270.5L350.6 274.3L350.8 272.8L350.9 274.4L351.1 274.8L351.3 279.3L351.4 278.8L351.6 283.6L351.8 279.1L351.9 279.7L352.1 282.7L352.3 283.2L352.4 282.4L352.6 280.4L352.8 285.6L352.9 284.6L353.1 284.6L353.3 283.4L353.4 285.4L353.6 283.8L353.8 284.8L353.9 284.5L354.1 286.6L354.3 284.3L354.4 284.5L354.6 286.5L354.7 285.3L354.9 284.9L355.1 284.6L355.2 286.2L355.4 283.8L355.6 285.3L355.7 287.3L355.9 284.8L356.1 282.8L356.2 281.9L356.4 283.4L356.6 280.9L356.7 279.8L356.9 280.2L357.1 278.9L357.2 280.6L357.4 276.2L357.6 279.2L357.7 274.6L357.9 274.4L358.1 273.9L358.2 272.1L358.4 271.9L358.5 269.1L358.7 267.4L358.9 270.8L359.0 269.7L359.2 272.4L359.4 275.8L359.5 275.5L359.7 276.2L359.9 276.5L360.0 278.7L360.2 279.7L360.4 278.4L360.5 281.7L360.7 280.3L360.9 282.5L361.0 281.9L361.2 284.2L361.4 284.3L361.5 283.3L361.7 283.3L361.9 284.3L362.0 285.8L362.2 285.4L362.3 284.3L362.5 284.6L362.7 286.5L362.8 282.0L363.0 285.1L363.2 283.1L363.3 286.3L363.5 283.7L363.7 284.2L363.8 282.8L364.0 284.2L364.2 285.3L364.3 286.5L364.5 282.3L364.7 283.4L364.8 289.5L365.0 285.3L365.2 284.0L365.3 284.7L365.5 280.2L365.7 286.3L365.8 284.2L366.0 282.0L366.1 285.7L366.3 283.3L366.5 282.8L366.6 285.0L366.8 285.0L367.0 283.9L367.1 284.5L367.3 282.9L367.5 282.9L367.6 286.3L367.8 287.0L368.0 285.9L368.1 286.0L368.3 285.0L368.5 285.5L368.6 284.4L368.8 288.3L369.0 285.0L369.1 286.4L369.3 285.7L369.5 283.6L369.6 288.1L369.8 284.7L369.9 283.8L370.1 284.7L370.3 282.8L370.4 283.7L370.6 281.8L370.8 283.4L370.9 282.3L371.1 280.1L371.3 283.5L371.4 282.6L371.6 281.3L371.8 283.9L371.9 284.6L372.1 287.2L372.3 283.9L372.4 286.7L372.6 285.8L372.8 287.1L372.9 286.1L373.1 286.5L373.3 287.4L373.4 285.2L373.6 284.0L373.7 286.9L373.9 286.4L374.1 287.1L374.2 287.9L374.4 286.8L374.6 288.8L374.7 287.1L374.9 287.3L375.1 288.4L375.2 288.1L375.4 287.2L375.6 287.5L375.7 286.3L375.9 286.6L376.1 287.7L376.2 288.7L376.4 287.1L376.6 288.9L376.7 290.5L376.9 290.9L377.1 287.9L377.2 289.4L377.4 288.8L377.5 289.1L377.7 289.2L377.9 288.8L378.0 289.2L378.2 288.2L378.4 287.5L378.5 288.2L378.7 288.5L378.9 289.4L379.0 288.1L379.2 288.5L379.4 289.4L379.5 285.9L379.7 286.8L379.9 287.8L380.0 287.0L380.2 285.5L380.4 288.3L380.5 286.8L380.7 285.5L380.9 289.5L381.0 285.1L381.2 286.9L381.3 286.0L381.5 287.1L381.7 287.7L381.8 285.8L382.0 286.9L382.2 286.8L382.3 285.6L382.5 288.7L382.7 287.3L382.8 286.7L383.0 286.2L383.2 286.6L383.3 287.3L383.5 286.5L383.7 288.9L383.8 283.6L384.0 284.1L384.2 286.8L384.3 284.5L384.5 287.0L384.7 286.1L384.8 287.8L385.0 287.5L385.1 288.6L385.3 288.0L385.5 288.3L385.6 287.2L385.8 287.8L386.0 286.9L386.1 285.3L386.3 284.3L386.5 284.3L386.6 286.6L386.8 282.5L387.0 286.0L387.1 284.6L387.3 286.7L387.5 285.9L387.6 284.5L387.8 285.5L388.0 282.2L388.1 285.7L388.3 285.9L388.5 282.6L388.6 286.4L388.8 284.9L388.9 285.3L389.1 283.1L389.3 285.9L389.4 285.9L389.6 285.1L389.8 283.8L389.9 286.3L390.1 287.0L390.3 285.9L390.4 286.7L390.6 284.5L390.8 285.6L390.9 285.9L391.1 285.5L391.3 289.2L391.4 285.7L391.6 284.1L391.8 285.9L391.9 283.0L392.1 284.7L392.3 285.0L392.4 282.9L392.6 282.9L392.7 281.7L392.9 282.9L393.1 281.5L393.2 284.6L393.4 282.9L393.6 281.6L393.7 280.0L393.9 284.9L394.1 284.1L394.2 283.2L394.4 283.2L394.6 283.6L394.7 283.1L394.9 286.9L395.1 285.0L395.2 283.1L395.4 284.6L395.6 282.3L395.7 287.3L395.9 287.7L396.1 289.4L396.2 290.2L396.4 286.3L396.5 288.2L396.7 289.1L396.9 289.0L397.0 287.2L397.2 289.1L397.4 288.7L397.5 289.9L397.7 288.0L397.9 287.6L398.0 287.2L398.2 287.4L398.4 286.8L398.5 287.4L398.7 288.5L398.9 288.4L399.0 289.6L399.2 289.3L399.4 288.7L399.5 286.2L399.7 288.6L399.9 289.5L400.0 286.1L400.2 286.4L400.3 286.6L400.5 286.5L400.7 287.5L400.8 286.6L401.0 288.4L401.2 286.0L401.3 287.4L401.5 286.7L401.7 285.8L401.8 288.3L402.0 286.6L402.2 286.9L402.3 285.2L402.5 286.1L402.7 285.4L402.8 283.8L403.0 280.9L403.2 284.1L403.3 283.5L403.5 282.6L403.7 282.7L403.8 282.7L404.0 283.2L404.1 281.9L404.3 283.7L404.5 284.7L404.6 283.8L404.8 283.7L405.0 288.0L405.1 286.6L405.3 285.6L405.5 285.5L405.6 282.7L405.8 284.5L406.0 286.3L406.1 288.5L406.3 283.8L406.5 285.7L406.6 289.3L406.8 287.5L407.0 287.1L407.1 288.1L407.3 286.2L407.5 286.1L407.6 287.2L407.8 287.4L407.9 284.6L408.1 288.2L408.3 283.6L408.4 285.0L408.6 290.2L408.8 285.2L408.9 286.8L409.1 284.4L409.3 285.3L409.4 284.7L409.6 285.0L409.8 286.4L409.9 287.8L410.1 286.4L410.3 287.1L410.4 284.0L410.6 286.5L410.8 285.0L410.9 285.8L411.1 282.9L411.3 282.8L411.4 284.6L411.6 283.1L411.7 282.0L411.9 280.5L412.1 281.1L412.2 281.9L412.4 282.3L412.6 280.7L412.7 281.4L412.9 282.9L413.1 281.2L413.2 284.6L413.4 283.7L413.6 283.9L413.7 281.1L413.9 282.5L414.1 283.6L414.2 284.4L414.4 283.9L414.6 286.1L414.7 285.9L414.9 285.4L415.1 283.0L415.2 287.9L415.4 285.6L415.5 286.8L415.7 285.1L415.9 286.1L416.0 287.1L416.2 286.5L416.4 287.6L416.5 286.1L416.7 289.2L416.9 283.8L417.0 285.8L417.2 288.1L417.4 286.5L417.5 286.3L417.7 284.6L417.9 288.9L418.0 284.7L418.2 288.2L418.4 287.9L418.5 288.9L418.7 289.8L418.9 286.9L419.0 286.9L419.2 287.6L419.3 285.7L419.5 289.4L419.7 287.7L419.8 288.5L420.0 286.7L420.2 288.3L420.3 287.4L420.5 288.2L420.7 286.7L420.8 289.7L421.0 287.3L421.2 284.6L421.3 289.0L421.5 287.6L421.7 286.7L421.8 291.4L422.0 287.8L422.2 286.0L422.3 286.9L422.5 288.3L422.7 287.4L422.8 289.4L423.0 289.2L423.1 286.5L423.3 287.7L423.5 288.5L423.6 287.0L423.8 287.0L424.0 288.9L424.1 288.3L424.3 285.7L424.5 286.9L424.6 287.2L424.8 287.6L425.0 286.8L425.1 289.7L425.3 286.5L425.5 286.4L425.6 288.2L425.8 284.7L426.0 286.4L426.1 288.6L426.3 285.8L426.5 286.4L426.6 288.9L426.8 287.9L426.9 287.1L427.1 287.2L427.3 285.6L427.4 286.8L427.6 285.8L427.8 289.3L427.9 286.3L428.1 284.8L428.3 284.9L428.4 284.8L428.6 282.6L428.8 283.2L428.9 286.3L429.1 282.0L429.3 283.0L429.4 285.0L429.6 285.5L429.8 281.8L429.9 285.1L430.1 282.3L430.3 284.9L430.4 283.0L430.6 281.6L430.7 282.6L430.9 282.0L431.1 279.6L431.2 283.2L431.4 279.2L431.6 280.7L431.7 277.9L431.9 275.6L432.1 276.3L432.2 277.6L432.4 278.9L432.6 280.8L432.7 279.0L432.9 279.2L433.1 278.7L433.2 281.2L433.4 282.5L433.6 279.7L433.7 285.3L433.9 285.8L434.1 287.9L434.2 284.0L434.4 285.8L434.5 286.2L434.7 284.7L434.9 285.7L435.0 285.8L435.2 288.1L435.4 288.3L435.5 289.7L435.7 287.5L435.9 286.2L436.0 288.9L436.2 288.9L436.4 289.5L436.5 290.4L436.7 287.9L436.9 289.9L437.0 287.5L437.2 289.2L437.4 290.0L437.5 289.0L437.7 289.5L437.9 287.3L438.0 288.4L438.2 289.6L438.3 287.8L438.5 288.3L438.7 292.9L438.8 289.9L439.0 288.4L439.2 288.1L439.3 291.4L439.5 285.5L439.7 288.8L439.8 290.0L440.0 288.2L440.2 289.6L440.3 287.2L440.5 288.5L440.7 288.4L440.8 288.2L441.0 288.2L441.2 287.8L441.3 289.1L441.5 287.0L441.7 286.4L441.8 286.7L442.0 286.5L442.1 284.6L442.3 284.0L442.5 284.7L442.6 286.9L442.8 285.4L443.0 285.7L443.1 290.2L443.3 287.6L443.5 285.7L443.6 284.9L443.8 287.6L444.0 284.5L444.1 287.2L444.3 286.2L444.5 287.3L444.6 284.2L444.8 286.4L445.0 282.6L445.1 284.9L445.3 286.6L445.5 286.1L445.6 282.6L445.8 286.3L445.9 286.1L446.1 285.5L446.3 284.8L446.4 285.6L446.6 285.5L446.8 287.8L446.9 287.4L447.1 288.5L447.3 288.1L447.4 285.6L447.6 287.7L447.8 290.7L447.9 286.2L448.1 288.2L448.3 286.8L448.4 286.6L448.6 288.2L448.8 289.1L448.9 288.9L449.1 288.4L449.3 289.1L449.4 285.4L449.6 288.8L449.7 288.2L449.9 287.3L450.1 287.5L450.2 286.4L450.4 289.2L450.6 286.5L450.7 285.5L450.9 287.5L451.1 286.7L451.2 287.4L451.4 289.6L451.6 287.2L451.7 287.5L451.9 290.4L452.1 285.2L452.2 287.7L452.4 288.7L452.6 289.2L452.7 290.2L452.9 286.1L453.1 287.9L453.2 286.9L453.4 286.5L453.6 286.1L453.7 285.1L453.9 287.7L454.0 288.4L454.2 285.9L454.4 288.5L454.5 286.7L454.7 286.0L454.9 283.8L455.0 289.1L455.2 288.5L455.4 287.1L455.5 287.0L455.7 285.7L455.9 288.2L456.0 287.4L456.2 288.2L456.4 287.6L456.5 285.4L456.7 285.1L456.9 287.9L457.0 284.9L457.2 287.6L457.4 288.5L457.5 285.4L457.7 288.1L457.8 287.2L458.0 287.9L458.2 286.2L458.3 287.1L458.5 287.7L458.7 289.6L458.8 288.0L459.0 287.7L459.2 285.1L459.3 287.4L459.5 285.9L459.7 286.8L459.8 287.3L460.0 288.3L460.2 287.8L460.3 287.3L460.5 287.0L460.7 289.1L460.8 285.9L461.0 287.3L461.2 289.2L461.3 287.0L461.5 288.4L461.6 288.4L461.8 289.9L462.0 288.5L462.1 284.4L462.3 286.6L462.5 286.7L462.6 287.2L462.8 286.3L463.0 288.2L463.1 286.8L463.3 283.3L463.5 283.9L463.6 281.6L463.8 286.8L464.0 284.1L464.1 283.9L464.3 281.9L464.5 283.5L464.6 284.8L464.8 283.7L465.0 283.8L465.1 283.6L465.3 287.5L465.4 284.0L465.6 282.9L465.8 284.4L465.9 284.8L466.1 285.3L466.3 285.2L466.4 284.0L466.6 285.4L466.8 286.2L466.9 283.7L467.1 288.5L467.3 288.1L467.4 283.2L467.6 285.2L467.8 287.2L467.9 287.6L468.1 288.3L468.3 283.2L468.4 284.2L468.6 285.1L468.8 286.7L468.9 284.5L469.1 286.7L469.2 286.8L469.4 287.2L469.6 284.4L469.7 286.6L469.9 286.5L470.1 285.8L470.2 288.3L470.4 286.1L470.6 288.7L470.7 285.8L470.9 289.2L471.1 289.2L471.2 285.7L471.4 287.5L471.6 287.5L471.7 285.8L471.9 288.4L472.1 288.3L472.2 286.3L472.4 287.9L472.6 289.2L472.7 287.8L472.9 287.2L473.0 290.7L473.2 287.1L473.4 289.1L473.5 290.3L473.7 289.9L473.9 286.2L474.0 288.3L474.2 288.6L474.4 288.5L474.5 289.7L474.7 289.5L474.9 288.8L475.0 289.0L475.2 290.0L475.4 290.2L475.5 285.6L475.7 291.4L475.9 287.4L476.0 289.2L476.2 285.6L476.4 287.1L476.5 285.9L476.7 289.2L476.8 288.8L477.0 287.4L477.2 287.1L477.3 287.8L477.5 285.9L477.7 286.3L477.8 286.1L478.0 288.3L478.2 287.2L478.3 285.4L478.5 287.8L478.7 288.2L478.8 289.6L479.0 287.0L479.2 288.5L479.3 291.1L479.5 287.9L479.7 288.0L479.8 289.5L480.0 288.2L480.2 289.1L480.3 288.4L480.5 288.1L480.6 290.5L480.8 288.7L481.0 287.8L481.1 288.8L481.3 288.9L481.5 289.4L481.6 290.2L481.8 291.3L482.0 286.9L482.1 288.2L482.3 285.9L482.5 288.7L482.6 289.1L482.8 287.3L483.0 286.9L483.1 286.8L483.3 286.1L483.5 289.1L483.6 290.9L483.8 286.5L484.0 290.4L484.1 287.9L484.3 286.0L484.4 288.7L484.6 288.9L484.8 288.3L484.9 287.3L485.1 289.9L485.3 287.0L485.4 288.3L485.6 288.2L485.8 286.0L485.9 284.7L486.1 284.9L486.3 286.8L486.4 288.0L486.6 285.1L486.8 286.8L486.9 290.2L487.1 285.7L487.3 289.1L487.4 289.1L487.6 289.9L487.8 286.8L487.9 289.5L488.1 287.1L488.2 291.0L488.4 287.8L488.6 289.5L488.7 287.7L488.9 288.9L489.1 286.3L489.2 288.7L489.4 288.9L489.6 287.8L489.7 289.9L489.9 287.8L490.1 288.1L490.2 287.5L490.4 289.1L490.6 285.2L490.7 285.5L490.9 285.2L491.1 286.1L491.2 285.2L491.4 285.7L491.6 284.6L491.7 283.2L491.9 283.7L492.0 284.4L492.2 280.6L492.4 286.1L492.5 283.6L492.7 284.3L492.9 285.6L493.0 285.2L493.2 283.9L493.4 286.0L493.5 288.7L493.7 288.6L493.9 289.2L494.0 286.9L494.2 287.7L494.4 289.8L494.5 290.7L494.7 289.0L494.9 287.8L495.0 286.7L495.2 291.7L495.4 287.7L495.5 290.8L495.7 291.6L495.8 295.2L496.0 291.0L496.2 290.7L496.3 291.7L496.5 291.9L496.7 293.2L496.8 292.3L497.0 290.3L497.2 288.4L497.3 291.8L497.5 290.4L497.7 293.3L497.8 289.4L498.0 291.4L498.2 290.0L498.3 289.6L498.5 293.1L498.7 290.8L498.8 290.1L499.0 291.3L499.2 289.0L499.3 289.4L499.5 288.9L499.6 292.6L499.8 290.1L500.0 290.4L500.1 291.0L500.3 289.0L500.5 289.0L500.6 286.8L500.8 289.8L501.0 289.5L501.1 288.5L501.3 290.8L501.5 286.5L501.6 289.8L501.8 287.2L502.0 287.6L502.1 289.0L502.3 291.3L502.5 287.8L502.6 288.2L502.8 288.0L503.0 292.8L503.1 290.7L503.3 290.7L503.4 293.2L503.6 290.7L503.8 287.4L503.9 289.8L504.1 288.9L504.3 293.6L504.4 288.7L504.6 291.3L504.8 290.2L504.9 290.3L505.1 291.0L505.3 290.9L505.4 290.1L505.6 289.3L505.8 290.1L505.9 289.5L506.1 289.7L506.3 291.1L506.4 290.6L506.6 291.4L506.8 290.3L506.9 293.3L507.1 289.2L507.2 288.7L507.4 291.4L507.6 288.7L507.7 289.8L507.9 290.9L508.1 289.2L508.2 288.7L508.4 290.5L508.6 289.5L508.7 288.2L508.9 287.2L509.1 288.3L509.2 286.5L509.4 287.6L509.6 287.3L509.7 289.3L509.9 290.0L510.1 288.0L510.2 288.3L510.4 287.3L510.6 286.9L510.7 288.3L510.9 289.8L511.0 289.7L511.2 289.9L511.4 288.7L511.5 285.1L511.7 290.5L511.9 291.2L512.0 290.6L512.2 290.7L512.4 291.1L512.5 293.5L512.7 290.1L512.9 292.0L513.0 291.0L513.2 290.9L513.4 289.8L513.5 289.5L513.7 288.5L513.9 291.0L514.0 289.7L514.2 288.5L514.4 289.2L514.5 288.6L514.7 292.7L514.8 290.1L515.0 290.7L515.2 288.8L515.3 289.2L515.5 292.3L515.7 290.6L515.8 291.4L516.0 293.9L516.2 294.4L516.3 292.5L516.5 292.3L516.7 292.0L516.8 291.3L517.0 294.8L517.2 290.1L517.3 291.7L517.5 289.0L517.7 289.9L517.8 292.3L518.0 292.3L518.2 292.0L518.3 290.9L518.5 290.2L518.6 290.3L518.8 290.4L519.0 292.4L519.1 292.8L519.3 291.2L519.5 289.6L519.6 288.8L519.8 290.5L520.0 289.5L520.1 287.1L520.3 291.6L520.5 289.4L520.6 288.8L520.8 287.9L521.0 287.7L521.1 290.2L521.3 287.4L521.5 288.8L521.6 289.5L521.8 291.3L522.0 289.4L522.1 288.5L522.3 287.9L522.4 289.8L522.6 290.0L522.8 288.0L522.9 289.5L523.1 288.6L523.3 286.5L523.4 287.5L523.6 290.2L523.8 291.2L523.9 290.2L524.1 289.0L524.3 288.4L524.4 290.3L524.6 290.1L524.8 287.3L524.9 290.7L525.1 288.8L525.3 290.9L525.4 290.8L525.6 291.1L525.8 291.6L525.9 291.1L526.1 288.6L526.2 288.6L526.4 291.6L526.6 290.8L526.7 287.7L526.9 287.1L527.1 291.2L527.2 293.1L527.4 291.0L527.6 289.3L527.7 290.0L527.9 285.6L528.1 288.0L528.2 290.9L528.4 290.6L528.6 286.2L528.7 291.0L528.9 290.1L529.1 290.7L529.2 289.1L529.4 289.5L529.6 288.1L529.7 290.3L529.9 291.3L530.0 288.8L530.2 290.9L530.4 289.7L530.5 292.2L530.7 292.3L530.9 287.6L531.0 291.8L531.2 292.8L531.4 290.6L531.5 291.1L531.7 291.3L531.9 289.8L532.0 291.3L532.2 293.6L532.4 292.0L532.5 293.4L532.7 292.5L532.9 292.6L533.0 290.9L533.2 291.7L533.4 293.3L533.5 292.3L533.7 290.5L533.8 288.8L534.0 288.3L534.2 289.9L534.3 290.1L534.5 286.7L534.7 289.6L534.8 289.8L535.0 289.7L535.2 288.5L535.3 292.7L535.5 290.7" fill="none" stroke="#00f" stroke-width="1.2" stroke-linejoin="round"/>
<path d="M40.0 213.6L40.2 214.4L40.3 217.7L40.5 215.9L40.7 211.7L40.8 214.6L41.0 213.5L41.2 214.9L41.3 211.7L41.5 215.1L41.7 215.1L41.8 217.5L42.0 215.2L42.1 215.6L42.3 212.0L42.5 218.7L42.6 211.1L42.8 216.5L43.0 213.8L43.1 212.7L43.3 212.9L43.5 212.7L43.6 214.4L43.8 213.3L44.0 215.8L44.1 209.7L44.3 212.7L44.5 210.8L44.6 213.5L44.8 208.1L45.0 211.0L45.1 211.8L45.3 208.6L45.5 212.9L45.6 211.3L45.8 212.6L45.9 212.4L46.1 208.9L46.3 209.1L46.4 210.0L46.6 211.3L46.8 211.1L46.9 207.7L47.1 207.0L47.3 205.6L47.4 204.6L47.6 203.6L47.8 201.9L47.9 203.8L48.1 197.5L48.3 196.4L48.4 197.1L48.6 194.9L48.8 197.3L48.9 199.9L49.1 203.7L49.3 202.5L49.4 209.5L49.6 208.6L49.7 211.3L49.9 214.0L50.1 214.9L50.2 216.5L50.4 215.7L50.6 216.0L50.7 217.0L50.9 215.1L51.1 219.1L51.2 215.9L51.4 215.1L51.6 221.0L51.7 217.2L51.9 215.4L52.1 220.6L52.2 216.8L52.4 219.2L52.6 215.8L52.7 216.7L52.9 214.2L53.1 213.7L53.2 215.1L53.4 216.5L53.5 217.8L53.7 220.5L53.9 214.3L54.0 217.7L54.2 214.7L54.4 215.3L54.5 212.8L54.7 212.7L54.9 213.7L55.0 212.8L55.2 214.6L55.4 213.3L55.5 216.5L55.7 214.4L55.9 214.3L56.0 215.8L56.2 214.6L56.4 213.5L56.5 213.2L56.7 212.9L56.9 214.7L57.0 213.8L57.2 212.6L57.3 212.8L57.5 209.7L57.7 210.5L57.8 206.0L58.0 209.3L58.2 205.7L58.3 204.4L58.5 203.9L58.7 202.2L58.8 201.9L59.0 205.2L59.2 205.0L59.3 205.2L59.5 209.5L59.7 207.9L59.8 215.4L60.0 213.9L60.2 215.6L60.3 220.4L60.5 221.1L60.7 218.3L60.8 219.7L61.0 220.9L61.1 222.2L61.3 219.4L61.5 220.1L61.6 222.1L61.8 220.6L62.0 221.6L62.1 221.5L62.3 218.7L62.5 219.3L62.6 216.5L62.8 220.6L63.0 223.4L63.1 219.4L63.3 223.4L63.5 223.1L63.6 221.4L63.8 221.5L64.0 221.7L64.1 220.1L64.3 221.0L64.5 221.3L64.6 222.3L64.8 222.5L64.9 219.9L65.1 222.4L65.3 219.6L65.4 220.5L65.6 221.2L65.8 220.5L65.9 220.2L66.1 220.7L66.3 219.2L66.4 219.0L66.6 219.6L66.8 221.4L66.9 219.6L67.1 222.8L67.3 219.9L67.4 214.6L67.6 218.7L67.8 222.2L67.9 219.4L68.1 218.7L68.3 218.1L68.4 221.8L68.6 221.4L68.7 221.0L68.9 220.8L69.1 222.7L69.2 222.0L69.4 218.9L69.6 222.5L69.7 221.8L69.9 221.7L70.1 223.4L70.2 222.5L70.4 217.9L70.6 225.5L70.7 224.9L70.9 223.3L71.1 223.1L71.2 224.2L71.4 221.9L71.6 224.7L71.7 224.0L71.9 223.9L72.1 223.1L72.2 223.6L72.4 226.6L72.5 227.0L72.7 225.7L72.9 224.8L73.0 223.5L73.2 226.1L73.4 227.5L73.5 222.2L73.7 226.7L73.9 221.3L74.0 224.2L74.2 225.4L74.4 222.5L74.5 222.3L74.7 225.1L74.9 226.2L75.0 224.1L75.2 227.2L75.4 223.9L75.5 228.1L75.7 225.6L75.9 226.0L76.0 226.8L76.2 226.5L76.3 229.1L76.5 229.9L76.7 227.4L76.8 226.5L77.0 225.0L77.2 225.8L77.3 227.2L77.5 227.1L77.7 227.3L77.8 227.4L78.0 228.2L78.2 225.2L78.3 225.7L78.5 229.1L78.7 228.6L78.8 226.3L79.0 229.2L79.2 226.0L79.3 226.6L79.5 224.0L79.7 228.2L79.8 226.8L80.0 228.5L80.1 227.9L80.3 227.0L80.5 227.1L80.6 228.8L80.8 226.7L81.0 226.8L81.1 227.2L81.3 228.4L81.5 228.6L81.6 230.2L81.8 227.1L82.0 229.3L82.1 226.2L82.3 228.2L82.5 227.5L82.6 230.1L82.8 228.3L83.0 226.7L83.1 228.3L83.3 228.0L83.5 227.1L83.6 227.2L83.8 226.3L83.9 232.3L84.1 228.3L84.3 229.8L84.4 226.5L84.6 226.8L84.8 228.4L84.9 228.6L85.1 230.2L85.3 227.4L85.4 229.9L85.6 231.5L85.8 227.7L85.9 230.5L86.1 227.6L86.3 229.6L86.4 229.6L86.6 231.7L86.8 227.9L86.9 229.3L87.1 230.6L87.3 227.2L87.4 229.0L87.6 227.7L87.7 228.0L87.9 230.3L88.1 230.4L88.2 233.3L88.4 231.5L88.6 231.4L88.7 229.2L88.9 229.0L89.1 229.7L89.2 226.0L89.4 232.1L89.6 228.5L89.7 227.9L89.9 228.8L90.1 230.8L90.2 231.4L90.4 228.8L90.6 230.1L90.7 229.3L90.9 227.9L91.1 229.8L91.2 229.6L91.4 227.2L91.5 231.4L91.7 227.3L91.9 230.2L92.0 228.3L92.2 228.8L92.4 229.0L92.5 231.3L92.7 228.3L92.9 230.0L93.0 232.7L93.2 229.2L93.4 230.2L93.5 231.2L93.7 229.2L93.9 230.7L94.0 228.8L94.2 230.8L94.4 229.7L94.5 228.1L94.7 231.7L94.9 229.3L95.0 229.0L95.2 228.1L95.3 228.8L95.5 229.5L95.7 230.1L95.8 231.6L96.0 228.1L96.2 229.8L96.3 232.4L96.5 231.0L96.7 231.6L96.8 233.6L97.0 231.8L97.2 232.2L97.3 231.5L97.5 234.4L97.7 233.4L97.8 230.8L98.0 232.8L98.2 230.3L98.3 233.8L98.5 233.2L98.7 232.0L98.8 231.6L99.0 229.5L99.1 233.4L99.3 232.1L99.5 231.8L99.6 233.4L99.8 231.2L100.0 231.3L100.1 231.1L100.3 230.1L100.5 235.8L100.6 231.7L100.8 231.4L101.0 233.2L101.1 227.0L101.3 231.7L101.5 231.7L101.6 230.1L101.8 232.3L102.0 228.5L102.1 231.6L102.3 232.9L102.5 228.2L102.6 229.4L102.8 231.4L102.9 231.6L103.1 230.7L103.3 232.4L103.4 232.3L103.6 230.0L103.8 232.0L103.9 230.4L104.1 229.3L104.3 229.0L104.4 234.4L104.6 232.8L104.8 236.1L104.9 231.1L105.1 232.9L105.3 234.1L105.4 233.5L105.6 234.5L105.8 234.1L105.9 232.9L106.1 230.3L106.3 232.3L106.4 236.2L106.6 234.6L106.7 235.4L106.9 232.2L107.1 232.7L107.2 231.4L107.4 233.2L107.6 232.5L107.7 233.0L107.9 234.9L108.1 230.9L108.2 233.2L108.4 229.9L108.6 233.7L108.7 231.4L108.9 232.0L109.1 232.3L109.2 234.6L109.4 232.0L109.6 231.3L109.7 230.2L109.9 232.4L110.1 230.6L110.2 231.1L110.4 231.7L110.5 232.7L110.7 230.6L110.9 232.7L111.0 234.3L111.2 229.4L111.4 233.8L111.5 235.1L111.7 231.1L111.9 233.1L112.0 230.3L112.2 233.1L112.4 232.4L112.5 233.6L112.7 232.0L112.9 232.4L113.0 233.2L113.2 233.1L113.4 233.4L113.5 234.2L113.7 233.0L113.9 234.6L114.0 235.7L114.2 231.6L114.3 235.4L114.5 234.1L114.7 233.6L114.8 233.3L115.0 234.1L115.2 234.3L115.3 235.9L115.5 233.6L115.7 237.0L115.8 234.3L116.0 236.5L116.2 237.1L116.3 233.6L116.5 236.9L116.7 238.5L116.8 234.6L117.0 236.0L117.2 234.9L117.3 235.1L117.5 234.6L117.7 234.1L117.8 235.9L118.0 236.1L118.1 234.8L118.3 237.0L118.5 236.5L118.6 236.0L118.8 233.9L119.0 237.9L119.1 237.2L119.3 232.1L119.5 233.8L119.6 234.8L119.8 237.0L120.0 237.5L120.1 235.3L120.3 236.1L120.5 236.8L120.6 233.9L120.8 236.6L121.0 235.2L121.1 235.9L121.3 235.5L121.5 233.7L121.6 233.9L121.8 235.3L121.9 235.3L122.1 234.7L122.3 236.5L122.4 234.3L122.6 232.9L122.8 234.1L122.9 234.2L123.1 234.2L123.3 235.9L123.4 234.8L123.6 235.5L123.8 234.7L123.9 233.3L124.1 234.9L124.3 232.8L124.4 233.4L124.6 231.4L124.8 232.9L124.9 232.1L125.1 233.1L125.3 235.1L125.4 235.9L125.6 233.9L125.8 232.4L125.9 233.7L126.1 232.9L126.2 231.8L126.4 232.7L126.6 232.5L126.7 232.1L126.9 235.1L127.1 232.2L127.2 232.2L127.4 233.7L127.6 231.2L127.7 229.8L127.9 229.2L128.1 229.9L128.2 228.1L128.4 226.1L128.6 223.1L128.7 221.0L128.9 223.0L129.1 220.0L129.2 223.1L129.4 223.2L129.6 226.4L129.7 228.4L129.9 231.8L130.0 226.8L130.2 233.8L130.4 231.1L130.5 233.2L130.7 234.2L130.9 232.1L131.0 233.2L131.2 234.2L131.4 233.4L131.5 232.5L131.7 234.0L131.9 234.0L132.0 231.7L132.2 236.1L132.4 234.5L132.5 230.8L132.7 233.3L132.9 237.3L133.0 237.3L133.2 235.6L133.4 232.9L133.5 235.3L133.7 237.4L133.8 236.7L134.0 235.9L134.2 235.5L134.3 238.0L134.5 236.7L134.7 237.6L134.8 238.0L135.0 239.8L135.2 237.8L135.3 238.0L135.5 235.0L135.7 239.3L135.8 238.9L136.0 237.5L136.2 234.1L136.3 236.5L136.5 237.2L136.7 240.0L136.8 237.6L137.0 237.6L137.2 237.4L137.3 237.9L137.5 234.1L137.6 234.3L137.8 233.6L138.0 234.7L138.1 234.4L138.3 235.0L138.5 233.3L138.6 234.8L138.8 233.5L139.0 237.8L139.1 234.0L139.3 238.5L139.5 237.3L139.6 233.2L139.8 236.5L140.0 236.0L140.1 233.0L140.3 236.2L140.5 235.2L140.6 235.9L140.8 234.1L141.0 235.3L141.1 236.0L141.3 235.1L141.4 234.5L141.6 235.1L141.8 233.9L141.9 235.9L142.1 231.8L142.3 237.8L142.4 235.8L142.6 236.5L142.8 237.3L142.9 234.4L143.1 239.7L143.3 235.0L143.4 237.5L143.6 237.6L143.8 239.2L143.9 237.4L144.1 235.6L144.3 238.2L144.4 234.2L144.6 237.5L144.8 237.2L144.9 240.0L145.1 237.2L145.2 236.8L145.4 236.1L145.6 235.7L145.7 235.7L145.9 236.8L146.1 233.2L146.2 233.9L146.4 230.9L146.6 231.3L146.7 230.1L146.9 226.1L147.1 224.9L147.2 223.9L147.4 223.3L147.6 222.7L147.7 221.3L147.9 221.1L148.1 221.8L148.2 227.2L148.4 229.9L148.6 230.1L148.7 233.3L148.9 231.5L149.0 232.5L149.2 236.1L149.4 232.9L149.5 235.6L149.7 235.5L149.9 235.3L150.0 237.7L150.2 234.0L150.4 234.6L150.5 232.2L150.7 233.6L150.9 234.3L151.0 234.5L151.2 234.7L151.4 235.4L151.5 233.9L151.7 232.0L151.9 235.2L152.0 235.6L152.2 233.4L152.4 234.0L152.5 237.8L152.7 236.9L152.8 237.1L153.0 236.7L153.2 236.1L153.3 235.3L153.5 237.0L153.7 236.1L153.8 235.9L154.0 236.7L154.2 236.8L154.3 238.3L154.5 235.8L154.7 240.9L154.8 236.0L155.0 237.0L155.2 239.0L155.3 236.6L155.5 237.1L155.7 238.0L155.8 233.7L156.0 237.3L156.2 236.7L156.3 237.8L156.5 238.9L156.6 239.2L156.8 240.5L157.0 240.4L157.1 239.8L157.3 238.3L157.5 239.9L157.6 236.9L157.8 238.2L158.0 240.4L158.1 239.4L158.3 236.1L158.5 237.2L158.6 239.3L158.8 238.7L159.0 239.2L159.1 234.9L159.3 235.5L159.5 236.7L159.6 235.4L159.8 236.4L160.0 236.1L160.1 236.1L160.3 234.9L160.4 235.3L160.6 234.9L160.8 233.3L160.9 230.7L161.1 233.8L161.3 232.0L161.4 232.4L161.6 232.6L161.8 230.8L161.9 235.0L162.1 234.3L162.3 234.5L162.4 239.1L162.6 237.6L162.8 239.1L162.9 240.5L163.1 241.9L163.3 237.2L163.4 238.9L163.6 241.1L163.8 239.1L163.9 235.4L164.1 240.2L164.2 240.2L164.4 240.9L164.6 240.0L164.7 238.9L164.9 239.7L165.1 239.2L165.2 238.5L165.4 239.5L165.6 239.6L165.7 237.5L165.9 240.4L166.1 240.1L166.2 240.0L166.4 234.9L166.6 239.0L166.7 238.7L166.9 237.4L167.1 239.7L167.2 236.7L167.4 240.7L167.6 239.5L167.7 238.2L167.9 241.1L168.0 239.7L168.2 239.6L168.4 237.2L168.5 239.9L168.7 241.2L168.9 240.8L169.0 237.4L169.2 241.3L169.4 241.7L169.5 240.7L169.7 238.9L169.9 237.3L170.0 238.2L170.2 238.7L170.4 239.9L170.5 240.3L170.7 238.4L170.9 237.1L171.0 238.8L171.2 237.4L171.4 241.2L171.5 237.4L171.7 239.8L171.8 240.2L172.0 237.5L172.2 240.2L172.3 238.5L172.5 237.4L172.7 237.1L172.8 238.4L173.0 239.6L173.2 235.0L173.3 238.3L173.5 236.9L173.7 235.5L173.8 236.0L174.0 235.5L174.2 234.7L174.3 235.1L174.5 231.6L174.7 234.5L174.8 231.3L175.0 227.1L175.2 222.4L175.3 221.4L175.5 215.9L175.6 211.2L175.8 203.1L176.0 195.1L176.1 181.2L176.3 171.3L176.5 160.0L176.6 154.8L176.8 158.6L177.0 163.0L177.1 173.6L177.3 184.8L177.5 196.7L177.6 206.6L177.8 213.4L178.0 218.1L178.1 224.9L178.3 226.7L178.5 230.0L178.6 232.7L178.8 234.2L179.0 231.6L179.1 238.2L179.3 237.6L179.4 239.8L179.6 241.1L179.8 236.5L179.9 237.3L180.1 238.8L180.3 240.0L180.4 238.2L180.6 238.6L180.8 240.8L180.9 238.1L181.1 239.9L181.3 241.2L181.4 239.4L181.6 241.0L181.8 239.9L181.9 237.8L182.1 239.4L182.3 240.0L182.4 239.8L182.6 240.4L182.8 241.0L182.9 240.8L183.1 240.7L183.2 239.8L183.4 240.1L183.6 239.8L183.7 239.4L183.9 242.1L184.1 237.3L184.2 240.2L184.4 237.2L184.6 238.4L184.7 240.0L184.9 238.0L185.1 239.9L185.2 235.8L185.4 235.9L185.6 234.4L185.7 234.2L185.9 232.4L186.1 230.8L186.2 230.0L186.4 230.1L186.6 227.8L186.7 227.4L186.9 227.3L187.0 227.8L187.2 228.2L187.4 230.3L187.5 233.4L187.7 231.9L187.9 236.8L188.0 236.2L188.2 236.3L188.4 237.6L188.5 239.9L188.7 240.0L188.9 240.3L189.0 242.9L189.2 244.1L189.4 239.3L189.5 242.7L189.7 240.7L189.9 240.1L190.0 241.6L190.2 244.0L190.4 242.3L190.5 242.3L190.7 245.2L190.8 244.0L191.0 243.3L191.2 246.1L191.3 244.2L191.5 242.5L191.7 242.0L191.8 242.9L192.0 243.7L192.2 244.7L192.3 244.5L192.5 243.3L192.7 241.3L192.8 244.1L193.0 242.8L193.2 240.9L193.3 240.4L193.5 242.3L193.7 242.2L193.8 242.7L194.0 239.5L194.2 243.8L194.3 238.2L194.5 240.5L194.6 242.3L194.8 241.6L195.0 238.5L195.1 240.5L195.3 241.1L195.5 240.1L195.6 237.3L195.8 240.8L196.0 235.7L196.1 237.7L196.3 235.7L196.5 236.1L196.6 235.6L196.8 236.1L197.0 232.7L197.1 233.9L197.3 234.3L197.5 231.1L197.6 230.0L197.8 227.6L198.0 223.1L198.1 219.9L198.3 215.9L198.4 210.5L198.6 205.3L198.8 195.5L198.9 181.4L199.1 168.5L199.3 152.8L199.4 135.0L199.6 124.2L199.8 108.8L199.9 95.1L200.1 94.2L200.3 101.0L200.4 108.2L200.6 122.2L200.8 137.5L200.9 151.8L201.1 165.7L201.3 178.9L201.4 191.1L201.6 199.4L201.8 207.9L201.9 215.0L202.1 217.5L202.2 221.1L202.4 221.8L202.6 222.2L202.7 228.5L202.9 227.6L203.1 229.2L203.2 227.8L203.4 226.8L203.6 232.0L203.7 227.9L203.9 231.7L204.1 232.0L204.2 233.9L204.4 235.4L204.6 236.1L204.7 232.5L204.9 237.4L205.1 233.7L205.2 237.7L205.4 236.4L205.6 235.7L205.7 236.7L205.9 235.8L206.0 237.8L206.2 239.3L206.4 239.2L206.5 238.2L206.7 239.7L206.9 238.9L207.0 241.3L207.2 239.0L207.4 237.4L207.5 237.8L207.7 237.1L207.9 237.8L208.0 238.0L208.2 239.1L208.4 239.2L208.5 238.1L208.7 238.6L208.9 236.8L209.0 237.0L209.2 234.2L209.4 236.5L209.5 236.8L209.7 241.1L209.8 235.4L210.0 237.3L210.2 236.5L210.3 234.6L210.5 237.0L210.7 236.5L210.8 234.2L211.0 232.7L211.2 235.8L211.3 233.7L211.5 236.6L211.7 235.2L211.8 236.4L212.0 235.4L212.2 238.3L212.3 237.4L212.5 238.9L212.7 237.2L212.8 235.9L213.0 235.6L213.2 237.2L213.3 238.6L213.5 237.5L213.6 242.2L213.8 238.8L214.0 239.7L214.1 239.4L214.3 237.6L214.5 241.1L214.6 240.7L214.8 241.1L215.0 238.7L215.1 240.2L215.3 240.3L215.5 242.2L215.6 238.7L215.8 241.8L216.0 242.7L216.1 240.3L216.3 239.7L216.5 242.8L216.6 241.1L216.8 242.3L217.0 241.6L217.1 241.9L217.3 240.0L217.4 237.0L217.6 240.8L217.8 238.7L217.9 240.4L218.1 238.6L218.3 241.5L218.4 238.6L218.6 239.9L218.8 240.1L218.9 238.1L219.1 238.4L219.3 237.5L219.4 235.7L219.6 238.5L219.8 234.3L219.9 232.4L220.1 232.7L220.3 232.3L220.4 230.7L220.6 228.5L220.8 226.7L220.9 223.0L221.1 226.1L221.2 227.6L221.4 224.7L221.6 224.4L221.7 229.6L221.9 230.0L222.1 226.1L222.2 232.3L222.4 232.5L222.6 234.0L222.7 239.5L222.9 238.8L223.1 237.7L223.2 238.4L223.4 241.0L223.6 237.4L223.7 240.3L223.9 238.6L224.1 240.9L224.2 240.2L224.4 238.9L224.6 241.7L224.7 241.1L224.9 243.1L225.0 240.0L225.2 240.9L225.4 239.7L225.5 242.6L225.7 239.7L225.9 240.8L226.0 242.8L226.2 241.6L226.4 241.2L226.5 241.1L226.7 241.2L226.9 241.5L227.0 240.0L227.2 237.5L227.4 242.2L227.5 238.5L227.7 242.5L227.9 240.1L228.0 244.0L228.2 240.8L228.4 239.4L228.5 239.7L228.7 235.9L228.8 237.7L229.0 236.5L229.2 236.5L229.3 232.9L229.5 232.1L229.7 235.8L229.8 234.2L230.0 232.9L230.2 232.9L230.3 231.6L230.5 231.5L230.7 233.0L230.8 231.6L231.0 233.1L231.2 231.3L231.3 230.1L231.5 232.3L231.7 233.6L231.8 232.8L232.0 234.5L232.2 235.0L232.3 237.7L232.5 238.2L232.6 239.1L232.8 236.8L233.0 238.9L233.1 240.7L233.3 239.4L233.5 239.3L233.6 238.6L233.8 241.2L234.0 240.4L234.1 241.8L234.3 240.3L234.5 243.7L234.6 240.8L234.8 239.1L235.0 241.3L235.1 241.9L235.3 243.1L235.5 240.6L235.6 240.6L235.8 241.1L236.0 241.1L236.1 238.6L236.3 242.9L236.4 243.7L236.6 240.9L236.8 240.7L236.9 242.1L237.1 241.2L237.3 243.7L237.4 241.7L237.6 243.6L237.8 241.0L237.9 240.9L238.1 240.7L238.3 240.9L238.4 243.7L238.6 244.3L238.8 243.2L238.9 243.3L239.1 239.7L239.3 244.5L239.4 241.0L239.6 244.6L239.8 246.1L239.9 242.6L240.1 243.3L240.2 243.3L240.4 240.4L240.6 240.5L240.7 241.1L240.9 242.3L241.1 243.2L241.2 242.1L241.4 243.5L241.6 241.1L241.7 239.8L241.9 241.9L242.1 241.7L242.2 239.8L242.4 243.4L242.6 240.6L242.7 241.1L242.9 242.6L243.1 240.8L243.2 243.4L243.4 243.3L243.6 243.6L243.7 243.1L243.9 242.6L244.0 242.4L244.2 244.1L244.4 245.7L244.5 245.0L244.7 244.4L244.9 245.4L245.0 245.9L245.2 242.1L245.4 243.8L245.5 245.5L245.7 242.7L245.9 242.8L246.0 244.2L246.2 242.8L246.4 244.7L246.5 242.4L246.7 243.5L246.9 246.1L247.0 243.9L247.2 240.1L247.4 240.4L247.5 240.3L247.7 241.5L247.8 239.4L248.0 242.1L248.2 243.7L248.3 243.3L248.5 239.8L248.7 240.4L248.8 240.3L249.0 239.4L249.2 243.0L249.3 239.5L249.5 238.8L249.7 240.8L249.8 240.5L250.0 241.9L250.2 241.4L250.3 238.3L250.5 234.7L250.7 237.6L250.8 236.6L251.0 236.8L251.2 230.8L251.3 230.6L251.5 234.4L251.6 235.0L251.8 235.4L252.0 234.4L252.1 237.2L252.3 235.3L252.5 234.8L252.6 236.8L252.8 237.0L253.0 237.6L253.1 237.3L253.3 232.0L253.5 233.3L253.6 231.5L253.8 226.6L254.0 225.6L254.1 224.1L254.3 223.9L254.5 222.8L254.6 225.2L254.8 227.0L255.0 231.6L255.1 232.9L255.3 234.3L255.4 237.5L255.6 237.4L255.8 236.6L255.9 240.5L256.1 240.5L256.3 240.0L256.4 237.9L256.6 241.0L256.8 238.5L256.9 236.5L257.1 238.8L257.3 241.3L257.4 237.7L257.6 238.7L257.8 239.3L257.9 236.8L258.1 235.2L258.3 234.7L258.4 234.6L258.6 232.3L258.8 233.3L258.9 233.9L259.1 233.5L259.2 236.4L259.4 237.5L259.6 237.6L259.7 238.9L259.9 240.4L260.1 240.8L260.2 241.4L260.4 240.8L260.6 242.8L260.7 244.1L260.9 244.2L261.1 242.4L261.2 244.5L261.4 244.7L261.6 242.6L261.7 244.8L261.9 243.8L262.1 243.5L262.2 244.4L262.4 243.7L262.6 240.8L262.7 244.2L262.9 242.3L263.0 243.6L263.2 244.7L263.4 243.3L263.5 243.0L263.7 243.8L263.9 244.3L264.0 242.5L264.2 242.8L264.4 244.5L264.5 246.1L264.7 244.0L264.9 245.4L265.0 243.2L265.2 244.4L265.4 244.6L265.5 242.9L265.7 244.7L265.9 244.6L266.0 241.3L266.2 244.8L266.4 245.4L266.5 245.3L266.7 245.4L266.8 243.4L267.0 243.9L267.2 244.6L267.3 243.5L267.5 244.0L267.7 246.3L267.8 243.3L268.0 244.0L268.2 247.0L268.3 244.2L268.5 242.9L268.7 244.7L268.8 244.5L269.0 244.4L269.2 241.9L269.3 244.6L269.5 244.8L269.7 247.1L269.8 245.2L270.0 243.7L270.2 244.8L270.3 245.3L270.5 244.1L270.6 244.3L270.8 246.2L271.0 244.9L271.1 244.9L271.3 242.8L271.5 244.6L271.6 241.1L271.8 245.3L272.0 242.7L272.1 244.0L272.3 244.7L272.5 240.9L272.6 243.7L272.8 242.0L273.0 242.9L273.1 240.4L273.3 239.5L273.5 241.8L273.6 240.1L273.8 239.1L274.0 237.0L274.1 240.0L274.3 237.4L274.4 237.4L274.6 236.7L274.8 237.9L274.9 239.1L275.1 238.7L275.3 239.3L275.4 239.2L275.6 242.6L275.8 243.3L275.9 241.0L276.1 240.6L276.3 242.5L276.4 240.2L276.6 243.0L276.8 243.3L276.9 243.3L277.1 245.4L277.3 245.9L277.4 244.1L277.6 243.0L277.8 245.0L277.9 245.2L278.1 242.0L278.2 242.6L278.4 243.2L278.6 241.3L278.7 241.9L278.9 245.6L279.1 241.5L279.2 244.2L279.4 241.8L279.6 244.1L279.7 242.9L279.9 243.5L280.1 240.1L280.2 242.2L280.4 240.7L280.6 242.2L280.7 241.7L280.9 240.5L281.1 239.4L281.2 238.8L281.4 238.1L281.6 235.8L281.7 234.3L281.9 232.2L282.0 229.5L282.2 230.0L282.4 224.4L282.5 225.8L282.7 223.3L282.9 219.3L283.0 219.5L283.2 223.5L283.4 224.1L283.5 228.1L283.7 231.6L283.9 233.0L284.0 234.2L284.2 235.9L284.4 239.6L284.5 238.2L284.7 242.1L284.9 243.3L285.0 240.6L285.2 242.0L285.4 244.4L285.5 241.5L285.7 243.5L285.8 244.7L286.0 242.1L286.2 244.4L286.3 244.3L286.5 243.7L286.7 246.8L286.8 244.7L287.0 248.2L287.2 246.2L287.3 244.3L287.5 245.7L287.7 244.3L287.8 246.5L288.0 246.3L288.2 243.7L288.3 244.7L288.5 245.8L288.7 245.1L288.8 243.5L289.0 246.2L289.2 246.4L289.3 242.3L289.5 246.2L289.7 241.2L289.8 243.7L290.0 242.8L290.1 242.8L290.3 243.7L290.5 241.8L290.6 243.2L290.8 245.6L291.0 243.9L291.1 245.3L291.3 244.5L291.5 241.2L291.6 246.0L291.8 244.8L292.0 244.7L292.1 243.5L292.3 243.4L292.5 242.9L292.6 244.3L292.8 244.8L293.0 244.6L293.1 244.8L293.3 242.5L293.5 244.2L293.6 244.3L293.8 245.9L293.9 245.0L294.1 245.1L294.3 245.9L294.4 245.2L294.6 245.5L294.8 247.5L294.9 245.8L295.1 244.9L295.3 247.0L295.4 247.4L295.6 247.2L295.8 244.7L295.9 247.8L296.1 246.7L296.3 246.9L296.4 247.0L296.6 247.6L296.8 247.7L296.9 249.1L297.1 247.4L297.3 247.0L297.4 248.0L297.6 247.0L297.7 248.6L297.9 247.2L298.1 248.0L298.2 246.2L298.4 248.2L298.6 247.7L298.7 245.7L298.9 246.3L299.1 246.9L299.2 245.0L299.4 245.4L299.6 247.6L299.7 247.7L299.9 248.9L300.1 245.4L300.2 246.7L300.4 244.5L300.6 249.6L300.7 245.4L300.9 246.9L301.1 249.7L301.2 248.9L301.4 245.7L301.5 249.7L301.7 247.0L301.9 244.8L302.0 246.2L302.2 246.4L302.4 246.1L302.5 242.0L302.7 247.1L302.9 242.1L303.0 243.7L303.2 245.6L303.4 244.0L303.5 243.1L303.7 242.2L303.9 243.6L304.0 244.6L304.2 241.9L304.4 243.2L304.5 242.1L304.7 242.0L304.9 239.8L305.0 243.0L305.2 243.9L305.3 242.4L305.5 244.0L305.7 242.7L305.8 244.0L306.0 242.3L306.2 241.3L306.3 240.7L306.5 241.0L306.7 240.8L306.8 238.8L307.0 239.2L307.2 237.3L307.3 237.3L307.5 240.2L307.7 240.4L307.8 241.8L308.0 241.5L308.2 242.4L308.3 245.3L308.5 242.3L308.7 244.4L308.8 246.7L309.0 247.7L309.1 246.1L309.3 245.5L309.5 244.6L309.6 246.0L309.8 246.6L310.0 246.6L310.1 247.4L310.3 247.6L310.5 246.2L310.6 245.7L310.8 246.4L311.0 247.3L311.1 248.8L311.3 244.2L311.5 247.7L311.6 245.5L311.8 247.0L312.0 247.6L312.1 245.2L312.3 242.3L312.5 242.5L312.6 242.5L312.8 240.4L312.9 239.3L313.1 236.7L313.3 235.5L313.4 232.9L313.6 232.7L313.8 229.9L313.9 228.8L314.1 224.6L314.3 226.2L314.4 226.7L314.6 228.7L314.8 230.2L314.9 232.6L315.1 237.8L315.3 237.3L315.4 237.8L315.6 240.6L315.8 245.3L315.9 244.2L316.1 242.9L316.3 244.5L316.4 245.3L316.6 245.9L316.7 243.7L316.9 245.2L317.1 246.4L317.2 244.4L317.4 246.5L317.6 246.9L317.7 247.8L317.9 248.2L318.1 246.5L318.2 246.9L318.4 247.5L318.6 247.8L318.7 246.5L318.9 245.3L319.1 247.0L319.2 247.3L319.4 246.3L319.6 246.8L319.7 248.1L319.9 245.3L320.1 245.0L320.2 244.5L320.4 246.5L320.5 247.3L320.7 245.4L320.9 248.6L321.0 245.5L321.2 246.8L321.4 246.4L321.5 248.5L321.7 246.0L321.9 249.1L322.0 246.8L322.2 245.4L322.4 246.5L322.5 247.2L322.7 249.7L322.9 246.9L323.0 247.6L323.2 250.5L323.4 247.9L323.5 246.9L323.7 246.8L323.9 245.7L324.0 248.3L324.2 249.4L324.3 247.3L324.5 246.4L324.7 248.1L324.8 247.7L325.0 247.4L325.2 248.1L325.3 247.4L325.5 246.7L325.7 248.4L325.8 244.4L326.0 245.2L326.2 246.2L326.3 244.6L326.5 248.3L326.7 243.2L326.8 246.9L327.0 246.7L327.2 246.3L327.3 246.4L327.5 245.0L327.7 244.8L327.8 247.7L328.0 245.6L328.1 243.9L328.3 244.3L328.5 244.0L328.6 246.5L328.8 247.8L329.0 246.0L329.1 246.8L329.3 246.1L329.5 248.1L329.6 248.3L329.8 248.5L330.0 249.8L330.1 245.9L330.3 248.8L330.5 245.8L330.6 248.9L330.8 249.2L331.0 249.1L331.1 249.3L331.3 248.1L331.5 247.5L331.6 249.4L331.8 247.5L331.9 249.3L332.1 247.2L332.3 248.7L332.4 248.5L332.6 246.9L332.8 247.5L332.9 249.1L333.1 247.8L333.3 248.3L333.4 246.7L333.6 247.5L333.8 245.3L333.9 246.2L334.1 248.8L334.3 247.8L334.4 247.1L334.6 247.3L334.8 245.4L334.9 247.8L335.1 245.7L335.3 246.4L335.4 248.4L335.6 246.7L335.7 247.1L335.9 247.8L336.1 248.1L336.2 249.9L336.4 245.9L336.6 247.7L336.7 249.1L336.9 247.7L337.1 247.9L337.2 247.3L337.4 248.0L337.6 249.2L337.7 250.0L337.9 248.8L338.1 250.1L338.2 248.4L338.4 246.0L338.6 249.2L338.7 245.5L338.9 248.0L339.1 248.1L339.2 246.6L339.4 247.8L339.5 247.4L339.7 248.3L339.9 247.8L340.0 249.0L340.2 247.7L340.4 249.1L340.5 248.3L340.7 248.7L340.9 248.5L341.0 247.8L341.2 249.9L341.4 249.2L341.5 245.4L341.7 246.8L341.9 250.6L342.0 247.9L342.2 251.9L342.4 248.6L342.5 248.5L342.7 247.1L342.9 247.2L343.0 247.5L343.2 248.2L343.3 246.9L343.5 246.4L343.7 244.8L343.8 245.1L344.0 244.8L344.2 244.8L344.3 243.7L344.5 242.9L344.7 243.6L344.8 240.5L345.0 241.6L345.2 242.4L345.3 243.9L345.5 242.5L345.7 242.0L345.8 244.4L346.0 243.4L346.2 245.5L346.3 243.5L346.5 242.9L346.7 243.4L346.8 246.2L347.0 245.9L347.1 243.9L347.3 244.9L347.5 241.5L347.6 244.6L347.8 243.0L348.0 242.0L348.1 241.6L348.3 241.2L348.5 239.5L348.6 238.7L348.8 236.6L349.0 239.1L349.1 234.7L349.3 234.4L349.5 234.7L349.6 233.7L349.8 232.9L350.0 229.5L350.1 229.3L350.3 229.8L350.5 228.0L350.6 232.6L350.8 230.5L350.9 233.8L351.1 236.5L351.3 237.7L351.4 237.2L351.6 240.1L351.8 241.3L351.9 238.5L352.1 241.1L352.3 243.0L352.4 243.3L352.6 242.9L352.8 243.5L352.9 247.0L353.1 243.8L353.3 246.0L353.4 243.3L353.6 245.8L353.8 246.7L353.9 245.0L354.1 244.9L354.3 248.4L354.4 245.8L354.6 247.5L354.7 244.4L354.9 248.5L355.1 243.7L355.2 245.1L355.4 245.4L355.6 246.0L355.7 246.2L355.9 247.8L356.1 248.2L356.2 247.5L356.4 245.6L356.6 244.2L356.7 240.5L356.9 242.3L357.1 240.7L357.2 241.2L357.4 237.8L357.6 236.7L357.7 235.3L357.9 235.7L358.1 233.6L358.2 230.8L358.4 229.0L358.5 230.1L358.7 230.1L358.9 230.9L359.0 232.7L359.2 234.9L359.4 236.4L359.5 235.9L359.7 237.2L359.9 241.5L360.0 240.3L360.2 242.5L360.4 242.7L360.5 243.6L360.7 245.8L360.9 243.9L361.0 246.1L361.2 245.7L361.4 245.1L361.5 245.0L361.7 245.1L361.9 247.5L362.0 247.5L362.2 245.2L362.3 247.0L362.5 244.1L362.7 246.7L362.8 249.4L363.0 245.2L363.2 247.2L363.3 246.1L363.5 247.1L363.7 245.6L363.8 247.3L364.0 244.0L364.2 246.8L364.3 246.8L364.5 247.2L364.7 250.0L364.8 245.9L365.0 246.6L365.2 245.7L365.3 248.2L365.5 247.6L365.7 246.1L365.8 248.9L366.0 248.0L366.1 249.5L366.3 248.6L366.5 247.6L366.6 246.4L366.8 244.5L367.0 246.5L367.1 248.8L367.3 246.9L367.5 246.0L367.6 247.4L367.8 248.0L368.0 250.7L368.1 245.7L368.3 246.5L368.5 245.4L368.6 246.0L368.8 248.1L369.0 246.7L369.1 244.8L369.3 248.4L369.5 248.8L369.6 247.3L369.8 244.5L369.9 244.0L370.1 246.6L370.3 242.9L370.4 242.8L370.6 240.8L370.8 244.6L370.9 240.6L371.1 240.9L371.3 240.0L371.4 240.4L371.6 240.3L371.8 244.0L371.9 242.4L372.1 246.0L372.3 243.0L372.4 246.0L372.6 247.2L372.8 244.8L372.9 247.1L373.1 246.4L373.3 246.1L373.4 247.3L373.6 245.6L373.7 248.0L373.9 246.6L374.1 249.7L374.2 251.1L374.4 251.1L374.6 248.4L374.7 249.3L374.9 252.2L375.1 251.4L375.2 250.5L375.4 246.8L375.6 249.2L375.7 252.6L375.9 250.2L376.1 248.9L376.2 249.6L376.4 252.7L376.6 251.1L376.7 247.5L376.9 247.7L377.1 249.2L377.2 250.9L377.4 248.0L377.5 248.3L377.7 245.5L377.9 248.2L378.0 249.9L378.2 249.9L378.4 247.1L378.5 250.3L378.7 248.1L378.9 247.4L379.0 250.1L379.2 247.3L379.4 249.0L379.5 248.6L379.7 249.7L379.9 250.3L380.0 249.5L380.2 249.1L380.4 249.7L380.5 247.2L380.7 250.4L380.9 253.5L381.0 251.3L381.2 252.5L381.3 251.0L381.5 251.1L381.7 251.8L381.8 252.1L382.0 252.1L382.2 250.2L382.3 251.4L382.5 249.3L382.7 252.9L382.8 251.4L383.0 251.1L383.2 249.8L383.3 252.2L383.5 253.0L383.7 252.3L383.8 253.1L384.0 250.5L384.2 252.8L384.3 251.5L384.5 247.8L384.7 251.8L384.8 249.9L385.0 251.0L385.1 250.2L385.3 249.8L385.5 252.3L385.6 250.0L385.8 250.8L386.0 251.4L386.1 249.8L386.3 248.5L386.5 250.2L386.6 249.9L386.8 248.6L387.0 249.9L387.1 251.4L387.3 250.9L387.5 251.6L387.6 251.3L387.8 249.6L388.0 249.3L388.1 247.7L388.3 250.8L388.5 248.3L388.6 249.8L388.8 251.3L388.9 249.2L389.1 246.9L389.3 247.6L389.4 248.5L389.6 250.9L389.8 248.6L389.9 248.8L390.1 247.5L390.3 249.5L390.4 249.1L390.6 250.0L390.8 247.5L390.9 249.5L391.1 246.5L391.3 247.3L391.4 247.2L391.6 247.4L391.8 247.9L391.9 243.7L392.1 246.4L392.3 245.6L392.4 243.8L392.6 244.8L392.7 245.4L392.9 243.7L393.1 243.3L393.2 244.5L393.4 242.3L393.6 244.6L393.7 243.6L393.9 243.7L394.1 244.1L394.2 245.3L394.4 242.9L394.6 245.8L394.7 243.4L394.9 245.6L395.1 246.4L395.2 246.2L395.4 244.8L395.6 245.0L395.7 245.5L395.9 247.3L396.1 247.8L396.2 248.6L396.4 245.9L396.5 248.6L396.7 249.6L396.9 248.5L397.0 248.3L397.2 249.5L397.4 250.5L397.5 250.4L397.7 250.4L397.9 246.5L398.0 250.2L398.2 247.7L398.4 249.2L398.5 247.2L398.7 248.5L398.9 247.2L399.0 247.7L399.2 250.8L399.4 246.5L399.5 249.7L399.7 248.5L399.9 247.0L400.0 250.5L400.2 248.9L400.3 248.2L400.5 249.5L400.7 248.0L400.8 251.5L401.0 247.2L401.2 248.5L401.3 246.4L401.5 249.4L401.7 250.1L401.8 250.1L402.0 250.7L402.2 248.3L402.3 247.4L402.5 249.0L402.7 246.5L402.8 247.4L403.0 245.9L403.2 245.1L403.3 245.8L403.5 247.3L403.7 246.9L403.8 246.0L404.0 242.4L404.1 246.2L404.3 247.0L404.5 247.4L404.6 245.9L404.8 248.4L405.0 247.7L405.1 244.7L405.3 248.5L405.5 249.9L405.6 248.1L405.8 246.8L406.0 250.6L406.1 249.6L406.3 245.9L406.5 250.0L406.6 249.3L406.8 249.2L407.0 246.5L407.1 246.7L407.3 249.3L407.5 251.7L407.6 249.3L407.8 249.1L407.9 248.1L408.1 248.3L408.3 250.2L408.4 247.6L408.6 251.2L408.8 249.2L408.9 248.9L409.1 248.2L409.3 247.3L409.4 247.9L409.6 246.2L409.8 248.3L409.9 245.5L410.1 251.1L410.3 247.8L410.4 245.6L410.6 247.8L410.8 247.3L410.9 246.0L411.1 246.7L411.3 244.8L411.4 245.2L411.6 244.5L411.7 244.9L411.9 242.9L412.1 243.7L412.2 239.1L412.4 244.4L412.6 243.2L412.7 243.9L412.9 243.2L413.1 245.1L413.2 244.3L413.4 245.1L413.6 245.3L413.7 244.9L413.9 244.8L414.1 247.2L414.2 247.7L414.4 247.1L414.6 249.3L414.7 248.0L414.9 248.8L415.1 249.9L415.2 249.6L415.4 248.5L415.5 247.4L415.7 248.0L415.9 247.7L416.0 250.3L416.2 244.3L416.4 252.1L416.5 248.1L416.7 250.8L416.9 249.7L417.0 250.0L417.2 247.4L417.4 250.7L417.5 249.0L417.7 250.0L417.9 247.7L418.0 248.9L418.2 247.9L418.4 249.2L418.5 249.6L418.7 248.3L418.9 249.1L419.0 249.0L419.2 248.1L419.3 247.7L419.5 245.2L419.7 249.3L419.8 247.9L420.0 247.3L420.2 247.8L420.3 246.8L420.5 247.0L420.7 248.2L420.8 245.4L421.0 247.1L421.2 247.9L421.3 245.5L421.5 246.2L421.7 249.6L421.8 251.0L422.0 248.5L422.2 249.1L422.3 247.1L422.5 250.2L422.7 248.4L422.8 248.7L423.0 249.2L423.1 247.9L423.3 247.8L423.5 248.8L423.6 247.4L423.8 248.1L424.0 245.4L424.1 247.7L424.3 249.7L424.5 250.7L424.6 250.0L424.8 248.0L425.0 249.2L425.1 247.8L425.3 247.5L425.5 250.3L425.6 248.3L425.8 248.2L426.0 248.8L426.1 249.6L426.3 248.3L426.5 247.6L426.6 248.2L426.8 247.5L426.9 247.0L427.1 244.3L427.3 246.0L427.4 247.0L427.6 245.7L427.8 249.7L427.9 250.4L428.1 249.7L428.3 246.2L428.4 248.3L428.6 248.4L428.8 248.5L428.9 246.0L429.1 249.6L429.3 250.8L429.4 249.7L429.6 251.6L429.8 248.3L429.9 249.7L430.1 250.5L430.3 247.3L430.4 248.2L430.6 247.1L430.7 248.9L430.9 245.6L431.1 247.0L431.2 245.0L431.4 245.9L431.6 242.8L431.7 242.1L431.9 241.4L432.1 239.0L432.2 238.9L432.4 239.1L432.6 239.3L432.7 241.3L432.9 240.9L433.1 243.1L433.2 243.4L433.4 243.7L433.6 243.6L433.7 242.9L433.9 244.8L434.1 246.6L434.2 245.5L434.4 248.0L434.5 244.5L434.7 245.3L434.9 243.5L435.0 247.2L435.2 243.8L435.4 246.3L435.5 246.1L435.7 249.3L435.9 247.7L436.0 247.1L436.2 246.4L436.4 249.0L436.5 246.2L436.7 245.3L436.9 248.5L437.0 247.6L437.2 247.1L437.4 248.9L437.5 249.5L437.7 247.0L437.9 250.8L438.0 252.6L438.2 249.6L438.3 248.4L438.5 251.1L438.7 250.8L438.8 252.2L439.0 252.5L439.2 251.2L439.3 253.5L439.5 248.8L439.7 250.5L439.8 251.7L440.0 252.0L440.2 251.3L440.3 252.0L440.5 249.5L440.7 248.0L440.8 252.3L441.0 252.9L441.2 251.0L441.3 249.3L441.5 249.9L441.7 251.7L441.8 251.1L442.0 252.6L442.1 253.0L442.3 252.4L442.5 250.4L442.6 252.2L442.8 251.4L443.0 251.0L443.1 250.9L443.3 250.4L443.5 249.1L443.6 250.9L443.8 249.2L444.0 250.1L444.1 251.2L444.3 251.1L444.5 247.3L444.6 248.9L444.8 248.2L445.0 250.0L445.1 248.6L445.3 250.8L445.5 248.9L445.6 250.1L445.8 248.1L445.9 248.4L446.1 249.1L446.3 250.1L446.4 246.7L446.6 249.7L446.8 247.6L446.9 249.9L447.1 247.3L447.3 249.2L447.4 251.5L447.6 251.9L447.8 248.5L447.9 252.3L448.1 249.4L448.3 250.1L448.4 250.7L448.6 250.2L448.8 250.5L448.9 250.3L449.1 251.2L449.3 250.3L449.4 249.4L449.6 248.5L449.7 248.5L449.9 249.8L450.1 250.9L450.2 250.3L450.4 249.5L450.6 250.5L450.7 249.2L450.9 250.2L451.1 250.7L451.2 249.6L451.4 252.0L451.6 251.8L451.7 249.9L451.9 251.3L452.1 250.8L452.2 251.0L452.4 251.1L452.6 252.5L452.7 251.2L452.9 251.2L453.1 252.1L453.2 252.0L453.4 253.1L453.6 249.5L453.7 251.4L453.9 247.8L454.0 250.3L454.2 248.3L454.4 248.1L454.5 249.6L454.7 248.1L454.9 249.0L455.0 245.6L455.2 251.1L455.4 245.5L455.5 248.2L455.7 251.4L455.9 247.2L456.0 251.5L456.2 250.7L456.4 249.1L456.5 248.8L456.7 249.0L456.9 249.8L457.0 250.9L457.2 251.4L457.4 246.8L457.5 251.0L457.7 250.7L457.8 248.3L458.0 251.2L458.2 251.4L458.3 251.4L458.5 250.1L458.7 251.3L458.8 251.9L459.0 249.4L459.2 249.6L459.3 249.5L459.5 251.9L459.7 250.2L459.8 249.1L460.0 248.7L460.2 248.2L460.3 250.2L460.5 251.0L460.7 251.5L460.8 248.3L461.0 248.2L461.2 248.2L461.3 248.2L461.5 247.3L461.6 251.4L461.8 249.9L462.0 248.5L462.1 245.7L462.3 251.0L462.5 250.2L462.6 249.3L462.8 250.1L463.0 248.1L463.1 249.9L463.3 248.3L463.5 249.7L463.6 248.8L463.8 247.2L464.0 247.5L464.1 250.5L464.3 250.4L464.5 248.8L464.6 248.1L464.8 248.5L465.0 249.7L465.1 247.3L465.3 250.6L465.4 248.2L465.6 247.9L465.8 249.4L465.9 252.2L466.1 248.6L466.3 249.0L466.4 247.9L466.6 249.9L466.8 249.8L466.9 249.4L467.1 248.8L467.3 249.7L467.4 250.2L467.6 248.4L467.8 248.5L467.9 247.9L468.1 247.9L468.3 250.2L468.4 247.1L468.6 248.6L468.8 249.7L468.9 247.5L469.1 248.9L469.2 249.1L469.4 246.0L469.6 249.3L469.7 246.6L469.9 248.1L470.1 245.9L470.2 245.8L470.4 247.7L470.6 250.4L470.7 251.7L470.9 252.1L471.1 250.2L471.2 250.1L471.4 249.6L471.6 249.5L471.7 248.1L471.9 248.1L472.1 249.3L472.2 249.5L472.4 248.0L472.6 247.3L472.7 248.1L472.9 253.8L473.0 248.4L473.2 251.5L473.4 251.4L473.5 251.3L473.7 249.2L473.9 253.0L474.0 250.8L474.2 249.7L474.4 249.7L474.5 250.7L474.7 254.0L474.9 249.3L475.0 250.3L475.2 251.3L475.4 252.1L475.5 250.0L475.7 250.1L475.9 250.8L476.0 252.5L476.2 251.3L476.4 251.3L476.5 251.9L476.7 251.8L476.8 253.0L477.0 250.7L477.2 251.7L477.3 250.8L477.5 252.8L477.7 252.9L477.8 251.4L478.0 253.4L478.2 251.5L478.3 253.7L478.5 251.2L478.7 251.1L478.8 249.7L479.0 250.4L479.2 251.3L479.3 248.9L479.5 251.8L479.7 253.1L479.8 252.7L480.0 252.2L480.2 252.9L480.3 251.1L480.5 251.2L480.6 253.0L480.8 251.5L481.0 253.0L481.1 250.9L481.3 252.4L481.5 253.0L481.6 251.1L481.8 253.4L482.0 253.1L482.1 247.5L482.3 254.4L482.5 248.4L482.6 254.0L482.8 249.2L483.0 247.5L483.1 248.5L483.3 250.9L483.5 248.8L483.6 249.4L483.8 251.9L484.0 248.7L484.1 250.8L484.3 251.8L484.4 247.4L484.6 248.3L484.8 250.2L484.9 249.9L485.1 250.3L485.3 247.0L485.4 248.6L485.6 250.3L485.8 250.6L485.9 251.5L486.1 249.2L486.3 248.7L486.4 248.3L486.6 248.4L486.8 246.8L486.9 252.0L487.1 249.0L487.3 248.6L487.4 248.7L487.6 250.3L487.8 249.7L487.9 248.4L488.1 250.9L488.2 249.8L488.4 249.1L488.6 249.3L488.7 251.0L488.9 250.3L489.1 249.2L489.2 250.7L489.4 246.2L489.6 250.3L489.7 248.1L489.9 248.3L490.1 248.8L490.2 251.7L490.4 248.8L490.6 248.7L490.7 249.7L490.9 245.8L491.1 248.2L491.2 249.3L491.4 246.7L491.6 248.8L491.7 246.8L491.9 245.8L492.0 249.3L492.2 248.4L492.4 249.7L492.5 249.3L492.7 248.0L492.9 251.3L493.0 250.8L493.2 251.1L493.4 250.3L493.5 249.4L493.7 253.1L493.9 252.3L494.0 251.5L494.2 250.4L494.4 253.0L494.5 249.9L494.7 250.0L494.9 254.0L495.0 251.8L495.2 252.2L495.4 251.9L495.5 253.9L495.7 251.5L495.8 251.7L496.0 249.9L496.2 251.2L496.3 249.1L496.5 250.8L496.7 251.4L496.8 252.5L497.0 253.5L497.2 250.7L497.3 250.2L497.5 252.1L497.7 250.5L497.8 254.1L498.0 253.4L498.2 250.2L498.3 251.9L498.5 253.3L498.7 250.2L498.8 250.7L499.0 251.2L499.2 253.1L499.3 251.8L499.5 250.7L499.6 251.4L499.8 251.0L500.0 251.1L500.1 251.5L500.3 251.1L500.5 251.6L500.6 250.7L500.8 250.2L501.0 250.2L501.1 248.4L501.3 249.9L501.5 253.1L501.6 250.5L501.8 251.3L502.0 251.8L502.1 250.0L502.3 250.2L502.5 251.5L502.6 249.5L502.8 252.1L503.0 251.9L503.1 251.3L503.3 251.4L503.4 252.1L503.6 251.3L503.8 247.8L503.9 252.0L504.1 250.0L504.3 250.6L504.4 250.7L504.6 250.7L504.8 248.9L504.9 248.6L505.1 251.1L505.3 251.2L505.4 251.8L505.6 249.4L505.8 250.8L505.9 252.4L506.1 250.8L506.3 250.6L506.4 254.3L506.6 249.3L506.8 250.6L506.9 250.3L507.1 251.3L507.2 256.5L507.4 250.8L507.6 252.0L507.7 251.7L507.9 251.5L508.1 253.8L508.2 252.1L508.4 254.3L508.6 254.9L508.7 252.3L508.9 255.1L509.1 251.5L509.2 253.7L509.4 254.8L509.6 251.9L509.7 253.3L509.9 254.1L510.1 254.3L510.2 254.0L510.4 256.2L510.6 253.2L510.7 255.0L510.9 256.2L511.0 252.2L511.2 252.4L511.4 251.3L511.5 253.6L511.7 254.4L511.9 249.8L512.0 250.8L512.2 251.1L512.4 254.9L512.5 251.2L512.7 252.2L512.9 249.9L513.0 252.8L513.2 250.1L513.4 251.5L513.5 250.1L513.7 251.5L513.9 251.5L514.0 252.0L514.2 252.1L514.4 254.3L514.5 250.8L514.7 253.7L514.8 252.3L515.0 251.7L515.2 252.4L515.3 252.4L515.5 253.3L515.7 253.3L515.8 253.1L516.0 252.7L516.2 250.2L516.3 253.7L516.5 254.2L516.7 253.3L516.8 253.3L517.0 251.8L517.2 253.4L517.3 254.3L517.5 251.2L517.7 252.4L517.8 252.3L518.0 254.7L518.2 252.2L518.3 250.2L518.5 252.8L518.6 254.3L518.8 252.1L519.0 251.6L519.1 252.4L519.3 254.3L519.5 251.5L519.6 251.4L519.8 252.3L520.0 250.6L520.1 249.3L520.3 251.8L520.5 251.1L520.6 252.1L520.8 251.8L521.0 252.4L521.1 250.2L521.3 252.1L521.5 250.4L521.6 252.2L521.8 251.1L522.0 254.1L522.1 250.6L522.3 248.7L522.4 252.0L522.6 251.2L522.8 250.5L522.9 252.1L523.1 254.1L523.3 251.6L523.4 250.8L523.6 253.7L523.8 253.2L523.9 251.7L524.1 250.8L524.3 252.5L524.4 250.5L524.6 250.6L524.8 250.2L524.9 252.1L525.1 253.4L525.3 251.3L525.4 253.6L525.6 248.4L525.8 251.0L525.9 248.7L526.1 252.2L526.2 252.7L526.4 248.5L526.6 249.8L526.7 251.0L526.9 248.8L527.1 249.7L527.2 249.5L527.4 251.0L527.6 250.0L527.7 249.5L527.9 250.2L528.1 251.3L528.2 251.7L528.4 251.6L528.6 253.7L528.7 251.8L528.9 252.7L529.1 253.7L529.2 252.7L529.4 255.2L529.6 254.7L529.7 254.9L529.9 252.8L530.0 253.9L530.2 255.0L530.4 255.8L530.5 253.5L530.7 253.6L530.9 252.5L531.0 252.1L531.2 255.6L531.4 253.9L531.5 254.5L531.7 255.0L531.9 253.3L532.0 253.2L532.2 251.4L532.4 251.8L532.5 252.9L532.7 254.0L532.9 253.2L533.0 250.6L533.2 250.3L533.4 252.1L533.5 251.6L533.7 251.4L533.8 250.9L534.0 252.1L534.2 250.6L534.3 252.1L534.5 250.7L534.7 250.0L534.8 248.4L535.0 250.3L535.2 251.1L535.3 250.2L535.5 248.7" fill="none" stroke="#f0f" stroke-width="1.2" stroke-linejoin="round"/>
<rect x="39.7" y="8" width="496" height="387.7" fill="none" stroke="#000" stroke-width="1.6"/>
<path d="M39.70 390.6V400.6M47.97 392.4V395M56.23 392.4V395M64.50 392.4V395M72.76 392.4V395M81.03 390.6V400.6M89.29 392.4V395M97.56 392.4V395M105.82 392.4V395M114.09 392.4V395M122.35 390.6V400.6M130.62 392.4V395M138.88 392.4V395M147.15 392.4V395M155.41 392.4V395M163.68 390.6V400.6M171.94 392.4V395M180.20 392.4V395M188.47 392.4V395M196.74 392.4V395M205.00 390.6V400.6M213.26 392.4V395M221.53 392.4V395M229.80 392.4V395M238.06 392.4V395M246.32 390.6V400.6M254.59 392.4V395M262.86 392.4V395M271.12 392.4V395M279.38 392.4V395M287.65 390.6V400.6M295.92 392.4V395M304.18 392.4V395M312.44 392.4V395M320.71 392.4V395M328.98 390.6V400.6M337.24 392.4V395M345.50 392.4V395M353.77 392.4V395M362.04 392.4V395M370.30 390.6V400.6M378.56 392.4V395M386.83 392.4V395M395.10 392.4V395M403.36 392.4V395M411.62 390.6V400.6M419.89 392.4V395M428.16 392.4V395M436.42 392.4V395M444.69 392.4V395M452.95 390.6V400.6M461.22 392.4V395M469.48 392.4V395M477.75 392.4V395M486.01 392.4V395M494.28 390.6V400.6M502.54 392.4V395M510.81 392.4V395M519.07 392.4V395M527.34 392.4V395M535.60 390.6V400.6" stroke="#000" stroke-width="1.5" fill="none"/>
<g font-size="20"><text x="40.20" y="420.6" text-anchor="middle">10</text><text x="81.53" y="420.6" text-anchor="middle">15</text><text x="122.85" y="420.6" text-anchor="middle">20</text><text x="164.18" y="420.6" text-anchor="middle">25</text><text x="205.50" y="420.6" text-anchor="middle">30</text><text x="246.82" y="420.6" text-anchor="middle">35</text><text x="288.15" y="420.6" text-anchor="middle">40</text><text x="329.48" y="420.6" text-anchor="middle">45</text><text x="370.80" y="420.6" text-anchor="middle">50</text><text x="412.12" y="420.6" text-anchor="middle">55</text><text x="453.45" y="420.6" text-anchor="middle">60</text><text x="494.78" y="420.6" text-anchor="middle">65</text><text x="536.10" y="420.6" text-anchor="middle">70</text></g>
<text x="287.3" y="446" font-size="20" text-anchor="middle" letter-spacing="0.3">2θ (°)</text>
<text transform="translate(21 202) rotate(-90)" font-size="20.3" text-anchor="middle">Intensity</text>
<rect x="53.2" y="19.2" width="76.6" height="101.8" fill="#000"/>
<rect x="46.6" y="12.6" width="77" height="102" fill="#fff" stroke="#999" stroke-width="1"/>
<path d="M55.8 26.9H89.2" stroke="#333" stroke-width="1.6"/>
<text x="96.5" y="33.9" font-size="20">A2</text>
<path d="M55.8 51.6H89.2" stroke="#f00" stroke-width="1.3"/>
<text x="96.5" y="58.6" font-size="20">B4</text>
<path d="M55.8 76.2H89.2" stroke="#00f" stroke-width="1.3"/>
<text x="96.5" y="83.2" font-size="20">C2</text>
<path d="M55.8 100.8H89.2" stroke="#f0f" stroke-width="1.3"/>
<text x="96.5" y="107.8" font-size="20">D4</text>
<text x="211.3" y="27.7" font-size="18.7">1: Quartz</text>
<text x="328.2" y="27.7" font-size="18.7">2: Calcium silicate hydrate</text>
<text x="211.0" y="54.9" font-size="18.7">3: Calcite</text>
<text x="326.5" y="54.9" font-size="18.7">4: Hydrotalcite</text>
<text x="211.5" y="79.8" font-size="18.7">5: Ettringite</text>
<text x="329.3" y="79.8" font-size="18.7">6: Calcium zincate</text>
<text x="211.5" y="104.4" font-size="18.7">7: Lead silicate</text>
<text x="330.7" y="104.4" font-size="18.7">8: Copper hydroxide</text>
<text x="211.5" y="128.2" font-size="18.7">9: Calcium aluminium silicate hydrate</text>
<text x="48.4" y="189.2" font-size="19" text-anchor="middle">4</text>
<text x="129.3" y="214.5" font-size="19" text-anchor="middle">1</text>
<text x="147.8" y="213.0" font-size="19" text-anchor="middle">3</text>
<text x="162.6" y="223.3" font-size="19" text-anchor="middle">6</text>
<text x="177.3" y="150.9" font-size="19" text-anchor="middle">2</text>
<text x="200.5" y="88.8" font-size="19" text-anchor="middle">1</text>
<text x="211.8" y="226.1" font-size="19" text-anchor="middle">9</text>
<text x="222.7" y="217.0" font-size="19" text-anchor="middle">8</text>
<text x="232.7" y="223.0" font-size="19" text-anchor="middle">9</text>
<text x="255.1" y="218.6" font-size="19" text-anchor="middle">1</text>
<text x="274.4" y="231.6" font-size="19" text-anchor="middle">5</text>
<text x="282.6" y="213.6" font-size="19" text-anchor="middle">1</text>
<text x="316.2" y="220.3" font-size="19" text-anchor="middle">1/3</text>
<text x="307.4" y="237.0" font-size="19" text-anchor="middle">9</text>
<text x="350.1" y="224.9" font-size="19" text-anchor="middle">2</text>
<text x="358.1" y="224.9" font-size="19" text-anchor="middle">1</text>
<text x="372.2" y="235.0" font-size="19" text-anchor="middle">5</text>
<text x="394.4" y="237.0" font-size="19" text-anchor="middle">7</text>
<text x="432.7" y="233.4" font-size="19" text-anchor="middle">1</text>
<text x="460.7" y="240.3" font-size="19" text-anchor="middle">6</text>
<text x="492.9" y="239.0" font-size="19" text-anchor="middle">8</text>
<text x="60.2" y="318.7" font-size="19" text-anchor="middle">7</text></svg></body></html>
